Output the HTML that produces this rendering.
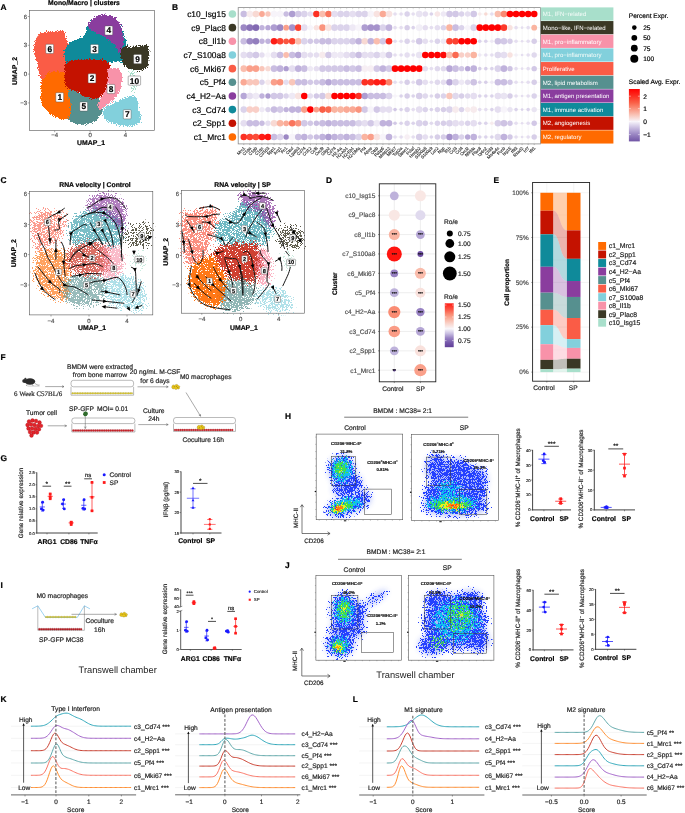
<!DOCTYPE html><html><head><meta charset="utf-8"><style>html,body{margin:0;padding:0;background:#fff;}svg{display:block;font-family:"Liberation Sans",sans-serif;text-rendering:geometricPrecision;will-change:transform;}</style></head><body><svg width="685" height="813" viewBox="0 0 685 813"><rect width="685" height="813" fill="#fff"/><defs><filter id="spk" x="0" y="0" width="685" height="813" filterUnits="userSpaceOnUse"><feTurbulence type="fractalNoise" baseFrequency="1.1" numOctaves="1" seed="4"/><feColorMatrix type="matrix" values="0 0 0 0 1  0 0 0 0 1  0 0 0 0 1  0 0 0 -14 7.6"/></filter><mask id="spm" maskUnits="userSpaceOnUse" x="0" y="0" width="685" height="813"><rect x="0" y="0" width="685" height="813" fill="#fff" filter="url(#spk)"/></mask><filter id="spk2" x="0" y="0" width="685" height="813" filterUnits="userSpaceOnUse"><feTurbulence type="fractalNoise" baseFrequency="1.3" numOctaves="1" seed="9"/><feColorMatrix type="matrix" values="0 0 0 0 1  0 0 0 0 1  0 0 0 0 1  0 0 0 -16 7.2"/></filter><mask id="spm2" maskUnits="userSpaceOnUse" x="0" y="0" width="685" height="813"><rect x="0" y="0" width="685" height="813" fill="#fff" filter="url(#spk2)"/></mask><filter id="soft" x="0" y="0" width="685" height="813" filterUnits="userSpaceOnUse"><feGaussianBlur stdDeviation="1.6"/></filter><filter id="soft2" x="0" y="0" width="685" height="813" filterUnits="userSpaceOnUse"><feGaussianBlur stdDeviation="0.5"/></filter></defs>
<defs><filter id="fb1" x="0" y="0" width="685" height="813" filterUnits="userSpaceOnUse"><feGaussianBlur stdDeviation="1"/></filter><filter id="fb2" x="0" y="0" width="685" height="813" filterUnits="userSpaceOnUse"><feGaussianBlur stdDeviation="2"/></filter><filter id="fb3" x="0" y="0" width="685" height="813" filterUnits="userSpaceOnUse"><feGaussianBlur stdDeviation="3"/></filter></defs>
<text x="0.6" y="10.4" font-size="8.4" font-weight="bold" stroke="#000" stroke-width="0.2">A</text>
<text x="84" y="4.8" font-size="6.8" text-anchor="middle" font-weight="bold" stroke="#000" stroke-width="0.18">Mono/Macro | clusters</text>
<defs><filter id="dt0" x="0" y="0" width="685" height="813" filterUnits="userSpaceOnUse" color-interpolation-filters="sRGB"><feGaussianBlur in="SourceAlpha" stdDeviation="1" result="d"/><feTurbulence type="fractalNoise" baseFrequency="1.2" numOctaves="1" seed="3" result="n"/><feComponentTransfer in="n" result="n2"><feFuncA type="linear" slope="2.75" intercept="-0.874"/></feComponentTransfer><feComposite in="d" in2="n2" operator="arithmetic" k1="0" k2="1.5" k3="-1" k4="-0.05" result="x"/><feComponentTransfer in="x" result="m"><feFuncA type="linear" slope="40" intercept="0"/></feComponentTransfer><feFlood flood-color="#fa5c46"/><feComposite operator="in" in2="m"/></filter></defs>
<g filter="url(#dt0)">
<path d="M35.66,39.69C36.43,37.57 37.19,36.29 38.72,35.1C40.25,33.91 42.38,33.1 44.84,32.55C47.31,32.01 50.5,32.09 53.51,31.84C56.52,31.58 61.03,30.63 62.9,31.02C64.77,31.41 64.43,32.96 64.73,34.19C65.04,35.41 64.31,37.11 64.73,38.37C65.16,39.63 66.69,40.49 67.28,41.73C67.88,42.97 68.39,44.28 68.3,45.81C68.22,47.34 66.91,49.21 66.77,50.91C66.64,52.61 67.66,54.31 67.49,56.01C67.32,57.71 65.79,59.24 65.75,61.11C65.72,62.98 67.2,65.02 67.28,67.23C67.37,69.44 67.79,73.18 66.26,74.37C64.73,75.56 60.82,74.2 58.1,74.37C55.38,74.54 52.15,74.37 49.94,75.39C47.73,76.41 46.03,78.62 44.84,80.49C43.65,82.36 43.4,86.61 42.8,86.61C42.21,86.61 41.87,83.21 41.27,80.49C40.68,77.77 39.91,73.35 39.23,70.29C38.55,67.23 37.91,64.68 37.19,62.13C36.48,59.58 35.46,57.37 34.95,54.99C34.44,52.61 34.01,50.4 34.13,47.85C34.25,45.3 34.9,41.82 35.66,39.69Z" fill="#000"/>
</g>
<defs><filter id="dt1" x="0" y="0" width="685" height="813" filterUnits="userSpaceOnUse" color-interpolation-filters="sRGB"><feGaussianBlur in="SourceAlpha" stdDeviation="1" result="d"/><feTurbulence type="fractalNoise" baseFrequency="1.2" numOctaves="1" seed="10" result="n"/><feComponentTransfer in="n" result="n2"><feFuncA type="linear" slope="2.75" intercept="-0.874"/></feComponentTransfer><feComposite in="d" in2="n2" operator="arithmetic" k1="0" k2="1.5" k3="-1" k4="-0.05" result="x"/><feComponentTransfer in="x" result="m"><feFuncA type="linear" slope="40" intercept="0"/></feComponentTransfer><feFlood flood-color="#ff6a00"/><feComposite operator="in" in2="m"/></filter></defs>
<g filter="url(#dt1)">
<path d="M44.76,77.66C45.86,76.05 46.51,74.04 48.84,73.07C51.16,72.1 55.84,71.68 58.73,71.85C61.62,72.02 64.68,72.44 66.18,74.09C67.67,75.74 67.11,79.11 67.71,81.74C68.3,84.38 69.07,86.84 69.75,89.9C70.43,92.96 71.28,96.7 71.79,100.1C72.3,103.5 72.81,107.58 72.81,110.3C72.81,113.02 72.75,114.96 71.79,116.42C70.82,117.88 69.17,118.8 66.99,119.07C64.82,119.34 61.67,119.09 58.73,118.05C55.79,117.02 51.93,114.91 49.35,112.85C46.76,110.79 44.57,108.35 43.23,105.71C41.88,103.08 41.61,99.85 41.29,97.04C40.96,94.24 41.13,91.26 41.29,88.88C41.44,86.5 41.63,84.63 42.21,82.76C42.78,80.89 43.65,79.28 44.76,77.66Z" fill="#000"/>
</g>
<defs><filter id="dt2" x="0" y="0" width="685" height="813" filterUnits="userSpaceOnUse" color-interpolation-filters="sRGB"><feGaussianBlur in="SourceAlpha" stdDeviation="1" result="d"/><feTurbulence type="fractalNoise" baseFrequency="1.2" numOctaves="1" seed="17" result="n"/><feComponentTransfer in="n" result="n2"><feFuncA type="linear" slope="2.75" intercept="-0.874"/></feComponentTransfer><feComposite in="d" in2="n2" operator="arithmetic" k1="0" k2="1.5" k3="-1" k4="-0.05" result="x"/><feComponentTransfer in="x" result="m"><feFuncA type="linear" slope="40" intercept="0"/></feComponentTransfer><feFlood flood-color="#0f8a9a"/><feComposite operator="in" in2="m"/></filter></defs>
<g filter="url(#dt2)">
<path d="M65.4,49.1C66.49,46.67 69.21,43.27 71.42,41.65C73.63,40.04 76.44,40.46 78.66,39.41C80.89,38.35 83.34,37.28 84.78,35.33C86.23,33.37 86.14,29.97 87.33,27.68C88.52,25.38 89.8,23.26 91.92,21.56C94.05,19.86 97.02,18.16 100.08,17.48C103.14,16.8 107.22,16.46 110.28,17.48C113.34,18.5 116.4,21.22 118.44,23.6C120.48,25.98 121.42,29.04 122.52,31.76C123.63,34.48 124.39,37.03 125.07,39.92C125.75,42.81 126.69,45.87 126.6,49.1C126.52,52.33 126.26,57.17 124.56,59.3C122.86,61.42 119.63,61.42 116.4,61.85C113.17,62.27 108.75,61.93 105.18,61.85C101.61,61.76 98.38,61.42 94.98,61.34C91.58,61.25 88.18,61.17 84.78,61.34C81.38,61.51 77.47,61.93 74.58,62.36C71.69,62.78 69.06,64.91 67.44,63.89C65.83,62.87 65.23,58.7 64.89,56.24C64.55,53.77 64.32,51.53 65.4,49.1Z" fill="#000"/>
</g>
<defs><filter id="dt3" x="0" y="0" width="685" height="813" filterUnits="userSpaceOnUse" color-interpolation-filters="sRGB"><feGaussianBlur in="SourceAlpha" stdDeviation="1" result="d"/><feTurbulence type="fractalNoise" baseFrequency="1.2" numOctaves="1" seed="24" result="n"/><feComponentTransfer in="n" result="n2"><feFuncA type="linear" slope="2.75" intercept="-0.874"/></feComponentTransfer><feComposite in="d" in2="n2" operator="arithmetic" k1="0" k2="1.5" k3="-1" k4="-0.05" result="x"/><feComponentTransfer in="x" result="m"><feFuncA type="linear" slope="40" intercept="0"/></feComponentTransfer><feFlood flood-color="#8a3d9e"/><feComposite operator="in" in2="m"/></filter></defs>
<g filter="url(#dt3)">
<path d="M88.81,24.43C89.31,22.83 90.94,20.9 92.85,19.38C94.75,17.87 97.78,16.05 100.22,15.34C102.66,14.64 105.08,14.75 107.49,15.14C109.9,15.53 112.61,16.15 114.66,17.67C116.72,19.18 118.6,21.92 119.81,24.23C121.02,26.54 121.41,29.08 121.93,31.5C122.46,33.93 122.83,36.33 122.94,38.77C123.06,41.22 123.2,43.74 122.64,46.15C122.09,48.55 120.62,53.22 119.61,53.22C118.6,53.22 118.18,48.34 116.58,46.15C114.98,43.96 112.29,41.86 110.02,40.09C107.74,38.32 105.3,36.89 102.95,35.54C100.59,34.2 98.06,33.1 95.88,32.01C93.69,30.91 90.99,30.24 89.82,28.98C88.64,27.72 88.3,26.03 88.81,24.43Z" fill="#000"/>
</g>
<defs><filter id="dt4" x="0" y="0" width="685" height="813" filterUnits="userSpaceOnUse" color-interpolation-filters="sRGB"><feGaussianBlur in="SourceAlpha" stdDeviation="1" result="d"/><feTurbulence type="fractalNoise" baseFrequency="1.2" numOctaves="1" seed="31" result="n"/><feComponentTransfer in="n" result="n2"><feFuncA type="linear" slope="2.75" intercept="-0.874"/></feComponentTransfer><feComposite in="d" in2="n2" operator="arithmetic" k1="0" k2="1.5" k3="-1" k4="-0.05" result="x"/><feComponentTransfer in="x" result="m"><feFuncA type="linear" slope="40" intercept="0"/></feComponentTransfer><feFlood flood-color="#3a3825"/><feComposite operator="in" in2="m"/></filter></defs>
<g filter="url(#dt4)">
<path d="M120.8,50C121.3,48.5 122.47,47.42 124,47C125.53,46.58 128,47.58 130,47.5C132,47.42 134,46.75 136,46.5C138,46.25 140.08,46.17 142,46C143.92,45.83 146.4,44.5 147.5,45.5C148.6,46.5 148.47,49.58 148.6,52C148.73,54.42 148.57,57.5 148.3,60C148.03,62.5 148.22,65.42 147,67C145.78,68.58 143.17,69.08 141,69.5C138.83,69.92 136.33,69.92 134,69.5C131.67,69.08 128.83,68.25 127,67C125.17,65.75 124,63.83 123,62C122,60.17 121.37,58 121,56C120.63,54 120.3,51.5 120.8,50Z" fill="#000"/>
</g>
<defs><filter id="dt5" x="0" y="0" width="685" height="813" filterUnits="userSpaceOnUse" color-interpolation-filters="sRGB"><feGaussianBlur in="SourceAlpha" stdDeviation="1" result="d"/><feTurbulence type="fractalNoise" baseFrequency="1.2" numOctaves="1" seed="38" result="n"/><feComponentTransfer in="n" result="n2"><feFuncA type="linear" slope="2.75" intercept="-0.874"/></feComponentTransfer><feComposite in="d" in2="n2" operator="arithmetic" k1="0" k2="0.6" k3="-1" k4="-0.05" result="x"/><feComponentTransfer in="x" result="m"><feFuncA type="linear" slope="40" intercept="0"/></feComponentTransfer><feFlood flood-color="#a8dfcb"/><feComposite operator="in" in2="m"/></filter></defs>
<g filter="url(#dt5)">
<path d="M129.5,71C130.17,69.42 132.92,70 134,70.5C135.08,71 135.75,72.08 136,74C136.25,75.92 135.5,79.33 135.5,82C135.5,84.67 136.42,88.25 136,90C135.58,91.75 133.83,92.83 133,92.5C132.17,92.17 131.5,90.08 131,88C130.5,85.92 130.25,82.83 130,80C129.75,77.17 128.83,72.58 129.5,71Z" fill="#000"/>
</g>
<defs><filter id="dt6" x="0" y="0" width="685" height="813" filterUnits="userSpaceOnUse" color-interpolation-filters="sRGB"><feGaussianBlur in="SourceAlpha" stdDeviation="1" result="d"/><feTurbulence type="fractalNoise" baseFrequency="1.2" numOctaves="1" seed="45" result="n"/><feComponentTransfer in="n" result="n2"><feFuncA type="linear" slope="2.75" intercept="-0.874"/></feComponentTransfer><feComposite in="d" in2="n2" operator="arithmetic" k1="0" k2="1.5" k3="-1" k4="-0.05" result="x"/><feComponentTransfer in="x" result="m"><feFuncA type="linear" slope="40" intercept="0"/></feComponentTransfer><feFlood flood-color="#56908f"/><feComposite operator="in" in2="m"/></filter></defs>
<g filter="url(#dt6)">
<path d="M69.73,89.65C71,89.05 73.47,89.22 75.85,90.16C78.23,91.09 80.95,94.02 84.01,95.26C87.07,96.5 91.66,96.84 94.21,97.6C96.76,98.37 98.2,98.45 99.31,99.85C100.41,101.24 100.5,104.1 100.84,105.97C101.18,107.84 101.6,109.37 101.35,111.07C101.09,112.77 100.5,114.47 99.31,116.17C98.12,117.87 96.08,120.01 94.21,121.27C92.34,122.52 90.47,123.29 88.09,123.71C85.71,124.14 82.48,124.05 79.93,123.82C77.38,123.58 74.57,123.05 72.79,122.29C71,121.52 69.47,120.93 69.22,119.23C68.96,117.53 71,115.15 71.26,112.09C71.51,109.03 71.26,103.93 70.75,100.87C70.24,97.81 68.37,95.6 68.2,93.73C68.03,91.86 68.45,90.24 69.73,89.65Z" fill="#000"/>
</g>
<defs><filter id="dt7" x="0" y="0" width="685" height="813" filterUnits="userSpaceOnUse" color-interpolation-filters="sRGB"><feGaussianBlur in="SourceAlpha" stdDeviation="1" result="d"/><feTurbulence type="fractalNoise" baseFrequency="1.2" numOctaves="1" seed="52" result="n"/><feComponentTransfer in="n" result="n2"><feFuncA type="linear" slope="2.75" intercept="-0.874"/></feComponentTransfer><feComposite in="d" in2="n2" operator="arithmetic" k1="0" k2="1.5" k3="-1" k4="-0.05" result="x"/><feComponentTransfer in="x" result="m"><feFuncA type="linear" slope="40" intercept="0"/></feComponentTransfer><feFlood flood-color="#c41200"/><feComposite operator="in" in2="m"/></filter></defs>
<g filter="url(#dt7)">
<path d="M65.55,63.21C67.16,61.17 71.5,61.26 74.73,60.66C77.96,60.07 81.53,59.81 84.93,59.64C88.33,59.47 91.9,59.47 95.13,59.64C98.36,59.81 102.01,59.98 104.31,60.66C106.6,61.34 107.88,61.85 108.9,63.72C109.92,65.59 110.26,69.16 110.43,71.88C110.6,74.6 110.34,77.66 109.92,80.04C109.49,82.42 108.91,83.83 107.88,86.16C106.84,88.49 105.65,92.01 103.69,94.02C101.74,96.02 98.76,97.64 96.15,98.2C93.53,98.76 90.37,98.03 87.99,97.38C85.61,96.74 83.91,95.51 81.87,94.32C79.83,93.13 77.79,91.26 75.75,90.24C73.71,89.22 71.33,89.22 69.63,88.2C67.93,87.18 66.31,86.67 65.55,84.12C64.78,81.57 65.04,76.39 65.04,72.9C65.04,69.42 63.93,65.25 65.55,63.21Z" fill="#000"/>
</g>
<defs><filter id="dt8" x="0" y="0" width="685" height="813" filterUnits="userSpaceOnUse" color-interpolation-filters="sRGB"><feGaussianBlur in="SourceAlpha" stdDeviation="1" result="d"/><feTurbulence type="fractalNoise" baseFrequency="1.2" numOctaves="1" seed="59" result="n"/><feComponentTransfer in="n" result="n2"><feFuncA type="linear" slope="2.75" intercept="-0.874"/></feComponentTransfer><feComposite in="d" in2="n2" operator="arithmetic" k1="0" k2="1.5" k3="-1" k4="-0.05" result="x"/><feComponentTransfer in="x" result="m"><feFuncA type="linear" slope="40" intercept="0"/></feComponentTransfer><feFlood flood-color="#f892a9"/><feComposite operator="in" in2="m"/></filter></defs>
<g filter="url(#dt8)">
<path d="M108.46,69.62C109.39,67.32 112.34,69.11 114.07,69.11C115.8,69.11 117.67,68.46 118.86,69.62C120.05,70.77 120.82,73.92 121.21,76.04C121.6,78.17 121.46,80.04 121.21,82.37C120.95,84.7 120.53,87.72 119.68,90.02C118.83,92.31 117.72,94.1 116.11,96.14C114.49,98.18 112.03,100.47 109.99,102.26C107.95,104.04 105.57,105.49 103.87,106.85C102.17,108.21 100.72,110.84 99.79,110.42C98.85,109.99 97.92,106.51 98.26,104.3C98.6,102.09 100.55,99.54 101.83,97.16C103.1,94.78 104.8,92.4 105.91,90.02C107.01,87.64 108.03,86.28 108.46,82.88C108.88,79.48 107.52,71.91 108.46,69.62Z" fill="#000"/>
</g>
<defs><filter id="dt9" x="0" y="0" width="685" height="813" filterUnits="userSpaceOnUse" color-interpolation-filters="sRGB"><feGaussianBlur in="SourceAlpha" stdDeviation="1" result="d"/><feTurbulence type="fractalNoise" baseFrequency="1.2" numOctaves="1" seed="66" result="n"/><feComponentTransfer in="n" result="n2"><feFuncA type="linear" slope="2.75" intercept="-0.874"/></feComponentTransfer><feComposite in="d" in2="n2" operator="arithmetic" k1="0" k2="1.2" k3="-1" k4="-0.05" result="x"/><feComponentTransfer in="x" result="m"><feFuncA type="linear" slope="40" intercept="0"/></feComponentTransfer><feFlood flood-color="#82d0dc"/><feComposite operator="in" in2="m"/></filter></defs>
<g filter="url(#dt9)">
<path d="M103.8,108.97C104.56,107.04 105.87,106.53 107.84,105.44C109.81,104.35 112.96,103.59 115.62,102.41C118.28,101.23 121.39,99.38 123.8,98.37C126.21,97.36 128.18,96.69 130.06,96.35C131.95,96.01 133.85,95.61 135.11,96.35C136.37,97.09 137.05,98.69 137.64,100.79C138.23,102.9 138.09,106.23 138.65,108.97C139.2,111.72 140.89,114.83 140.97,117.26C141.05,119.68 140.63,122.12 139.15,123.52C137.67,124.92 134.29,125.27 132.08,125.64C129.88,126.01 128.61,125.91 125.92,125.74C123.23,125.57 118.93,125.32 115.92,124.63C112.91,123.94 109.95,122.86 107.84,121.6C105.74,120.34 103.97,119.16 103.3,117.05C102.62,114.95 103.04,110.91 103.8,108.97Z" fill="#000"/>
</g>
<rect x="29.4" y="10.5" width="125" height="120.1" fill="none" stroke="#555" stroke-width="0.6"/>
<line x1="27.8" y1="16.5" x2="29.4" y2="16.5" stroke="#555" stroke-width="0.5"/>
<text x="27" y="18.6" font-size="6" text-anchor="end" fill="#4d4d4d" stroke="#4d4d4d" stroke-width="0.17">6</text>
<line x1="27.8" y1="45.3" x2="29.4" y2="45.3" stroke="#555" stroke-width="0.5"/>
<text x="27" y="47.4" font-size="6" text-anchor="end" fill="#4d4d4d" stroke="#4d4d4d" stroke-width="0.17">3</text>
<line x1="27.8" y1="74.1" x2="29.4" y2="74.1" stroke="#555" stroke-width="0.5"/>
<text x="27" y="76.2" font-size="6" text-anchor="end" fill="#4d4d4d" stroke="#4d4d4d" stroke-width="0.17">0</text>
<line x1="27.8" y1="102.9" x2="29.4" y2="102.9" stroke="#555" stroke-width="0.5"/>
<text x="27" y="105" font-size="6" text-anchor="end" fill="#4d4d4d" stroke="#4d4d4d" stroke-width="0.17">−3</text>
<line x1="54.7" y1="130.6" x2="54.7" y2="132.2" stroke="#555" stroke-width="0.5"/>
<text x="54.7" y="137.2" font-size="6" text-anchor="middle" fill="#4d4d4d" stroke="#4d4d4d" stroke-width="0.17">−4</text>
<line x1="90.1" y1="130.6" x2="90.1" y2="132.2" stroke="#555" stroke-width="0.5"/>
<text x="90.1" y="137.2" font-size="6" text-anchor="middle" fill="#4d4d4d" stroke="#4d4d4d" stroke-width="0.17">0</text>
<line x1="125.5" y1="130.6" x2="125.5" y2="132.2" stroke="#555" stroke-width="0.5"/>
<text x="125.5" y="137.2" font-size="6" text-anchor="middle" fill="#4d4d4d" stroke="#4d4d4d" stroke-width="0.17">4</text>
<text x="91" y="145.3" font-size="6.9" text-anchor="middle" font-weight="bold" stroke="#000" stroke-width="0.18">UMAP_1</text>
<text x="16.6" y="71" font-size="6.9" text-anchor="middle" font-weight="bold" stroke="#000" stroke-width="0.18" transform="rotate(-90 16.6 71)">UMAP_2</text>
<rect x="45.79" y="44.31" width="7.81" height="9.19" fill="#fff" stroke="#555" stroke-width="0.45" rx="0.8"/>
<text x="49.7" y="51.89" font-size="8.3" text-anchor="middle" font-weight="bold" stroke="#000" stroke-width="0.2">6</text>
<rect x="104.89" y="25.91" width="7.81" height="9.19" fill="#fff" stroke="#555" stroke-width="0.45" rx="0.8"/>
<text x="108.8" y="33.49" font-size="8.3" text-anchor="middle" font-weight="bold" stroke="#000" stroke-width="0.2">4</text>
<rect x="90.59" y="44.41" width="7.81" height="9.19" fill="#fff" stroke="#555" stroke-width="0.45" rx="0.8"/>
<text x="94.5" y="51.99" font-size="8.3" text-anchor="middle" font-weight="bold" stroke="#000" stroke-width="0.2">3</text>
<rect x="133.69" y="54.51" width="7.81" height="9.19" fill="#fff" stroke="#555" stroke-width="0.45" rx="0.8"/>
<text x="137.6" y="62.09" font-size="8.3" text-anchor="middle" font-weight="bold" stroke="#000" stroke-width="0.2">9</text>
<rect x="128.19" y="76.01" width="12.43" height="9.19" fill="#fff" stroke="#555" stroke-width="0.45" rx="0.8"/>
<text x="134.4" y="83.59" font-size="8.3" text-anchor="middle" font-weight="bold" stroke="#000" stroke-width="0.2">10</text>
<rect x="88.09" y="73.81" width="7.81" height="9.19" fill="#fff" stroke="#555" stroke-width="0.45" rx="0.8"/>
<text x="92" y="81.39" font-size="8.3" text-anchor="middle" font-weight="bold" stroke="#000" stroke-width="0.2">2</text>
<rect x="107.09" y="84.41" width="7.81" height="9.19" fill="#fff" stroke="#555" stroke-width="0.45" rx="0.8"/>
<text x="111" y="91.99" font-size="8.3" text-anchor="middle" font-weight="bold" stroke="#000" stroke-width="0.2">8</text>
<rect x="55.79" y="92.71" width="7.81" height="9.19" fill="#fff" stroke="#555" stroke-width="0.45" rx="0.8"/>
<text x="59.7" y="100.29" font-size="8.3" text-anchor="middle" font-weight="bold" stroke="#000" stroke-width="0.2">1</text>
<rect x="79.79" y="101.91" width="7.81" height="9.19" fill="#fff" stroke="#555" stroke-width="0.45" rx="0.8"/>
<text x="83.7" y="109.49" font-size="8.3" text-anchor="middle" font-weight="bold" stroke="#000" stroke-width="0.2">5</text>
<rect x="123.29" y="109.71" width="7.81" height="9.19" fill="#fff" stroke="#555" stroke-width="0.45" rx="0.8"/>
<text x="127.2" y="117.29" font-size="8.3" text-anchor="middle" font-weight="bold" stroke="#000" stroke-width="0.2">7</text>
<text x="172" y="10.3" font-size="8.4" font-weight="bold" stroke="#000" stroke-width="0.2">B</text>
<line x1="243.8" y1="7.6" x2="243.8" y2="143.9" stroke="#ececec" stroke-width="0.45"/>
<line x1="249.85" y1="7.6" x2="249.85" y2="143.9" stroke="#ececec" stroke-width="0.45"/>
<line x1="255.9" y1="7.6" x2="255.9" y2="143.9" stroke="#ececec" stroke-width="0.45"/>
<line x1="261.95" y1="7.6" x2="261.95" y2="143.9" stroke="#ececec" stroke-width="0.45"/>
<line x1="268" y1="7.6" x2="268" y2="143.9" stroke="#ececec" stroke-width="0.45"/>
<line x1="274.05" y1="7.6" x2="274.05" y2="143.9" stroke="#ececec" stroke-width="0.45"/>
<line x1="280.1" y1="7.6" x2="280.1" y2="143.9" stroke="#ececec" stroke-width="0.45"/>
<line x1="286.15" y1="7.6" x2="286.15" y2="143.9" stroke="#ececec" stroke-width="0.45"/>
<line x1="292.2" y1="7.6" x2="292.2" y2="143.9" stroke="#ececec" stroke-width="0.45"/>
<line x1="298.25" y1="7.6" x2="298.25" y2="143.9" stroke="#ececec" stroke-width="0.45"/>
<line x1="304.3" y1="7.6" x2="304.3" y2="143.9" stroke="#ececec" stroke-width="0.45"/>
<line x1="310.35" y1="7.6" x2="310.35" y2="143.9" stroke="#ececec" stroke-width="0.45"/>
<line x1="316.4" y1="7.6" x2="316.4" y2="143.9" stroke="#ececec" stroke-width="0.45"/>
<line x1="322.45" y1="7.6" x2="322.45" y2="143.9" stroke="#ececec" stroke-width="0.45"/>
<line x1="328.5" y1="7.6" x2="328.5" y2="143.9" stroke="#ececec" stroke-width="0.45"/>
<line x1="334.55" y1="7.6" x2="334.55" y2="143.9" stroke="#ececec" stroke-width="0.45"/>
<line x1="340.6" y1="7.6" x2="340.6" y2="143.9" stroke="#ececec" stroke-width="0.45"/>
<line x1="346.65" y1="7.6" x2="346.65" y2="143.9" stroke="#ececec" stroke-width="0.45"/>
<line x1="352.7" y1="7.6" x2="352.7" y2="143.9" stroke="#ececec" stroke-width="0.45"/>
<line x1="358.75" y1="7.6" x2="358.75" y2="143.9" stroke="#ececec" stroke-width="0.45"/>
<line x1="364.8" y1="7.6" x2="364.8" y2="143.9" stroke="#ececec" stroke-width="0.45"/>
<line x1="370.85" y1="7.6" x2="370.85" y2="143.9" stroke="#ececec" stroke-width="0.45"/>
<line x1="376.9" y1="7.6" x2="376.9" y2="143.9" stroke="#ececec" stroke-width="0.45"/>
<line x1="382.95" y1="7.6" x2="382.95" y2="143.9" stroke="#ececec" stroke-width="0.45"/>
<line x1="389" y1="7.6" x2="389" y2="143.9" stroke="#ececec" stroke-width="0.45"/>
<line x1="395.05" y1="7.6" x2="395.05" y2="143.9" stroke="#ececec" stroke-width="0.45"/>
<line x1="401.1" y1="7.6" x2="401.1" y2="143.9" stroke="#ececec" stroke-width="0.45"/>
<line x1="407.15" y1="7.6" x2="407.15" y2="143.9" stroke="#ececec" stroke-width="0.45"/>
<line x1="413.2" y1="7.6" x2="413.2" y2="143.9" stroke="#ececec" stroke-width="0.45"/>
<line x1="419.25" y1="7.6" x2="419.25" y2="143.9" stroke="#ececec" stroke-width="0.45"/>
<line x1="425.3" y1="7.6" x2="425.3" y2="143.9" stroke="#ececec" stroke-width="0.45"/>
<line x1="431.35" y1="7.6" x2="431.35" y2="143.9" stroke="#ececec" stroke-width="0.45"/>
<line x1="437.4" y1="7.6" x2="437.4" y2="143.9" stroke="#ececec" stroke-width="0.45"/>
<line x1="443.45" y1="7.6" x2="443.45" y2="143.9" stroke="#ececec" stroke-width="0.45"/>
<line x1="449.5" y1="7.6" x2="449.5" y2="143.9" stroke="#ececec" stroke-width="0.45"/>
<line x1="455.55" y1="7.6" x2="455.55" y2="143.9" stroke="#ececec" stroke-width="0.45"/>
<line x1="461.6" y1="7.6" x2="461.6" y2="143.9" stroke="#ececec" stroke-width="0.45"/>
<line x1="467.65" y1="7.6" x2="467.65" y2="143.9" stroke="#ececec" stroke-width="0.45"/>
<line x1="473.7" y1="7.6" x2="473.7" y2="143.9" stroke="#ececec" stroke-width="0.45"/>
<line x1="479.75" y1="7.6" x2="479.75" y2="143.9" stroke="#ececec" stroke-width="0.45"/>
<line x1="485.8" y1="7.6" x2="485.8" y2="143.9" stroke="#ececec" stroke-width="0.45"/>
<line x1="491.85" y1="7.6" x2="491.85" y2="143.9" stroke="#ececec" stroke-width="0.45"/>
<line x1="497.9" y1="7.6" x2="497.9" y2="143.9" stroke="#ececec" stroke-width="0.45"/>
<line x1="503.95" y1="7.6" x2="503.95" y2="143.9" stroke="#ececec" stroke-width="0.45"/>
<line x1="510" y1="7.6" x2="510" y2="143.9" stroke="#ececec" stroke-width="0.45"/>
<line x1="516.05" y1="7.6" x2="516.05" y2="143.9" stroke="#ececec" stroke-width="0.45"/>
<line x1="522.1" y1="7.6" x2="522.1" y2="143.9" stroke="#ececec" stroke-width="0.45"/>
<line x1="528.15" y1="7.6" x2="528.15" y2="143.9" stroke="#ececec" stroke-width="0.45"/>
<line x1="534.2" y1="7.6" x2="534.2" y2="143.9" stroke="#ececec" stroke-width="0.45"/>
<line x1="238.2" y1="14" x2="540.4" y2="14" stroke="#ececec" stroke-width="0.45"/>
<line x1="238.2" y1="27.66" x2="540.4" y2="27.66" stroke="#ececec" stroke-width="0.45"/>
<line x1="238.2" y1="41.32" x2="540.4" y2="41.32" stroke="#ececec" stroke-width="0.45"/>
<line x1="238.2" y1="54.98" x2="540.4" y2="54.98" stroke="#ececec" stroke-width="0.45"/>
<line x1="238.2" y1="68.64" x2="540.4" y2="68.64" stroke="#ececec" stroke-width="0.45"/>
<line x1="238.2" y1="82.3" x2="540.4" y2="82.3" stroke="#ececec" stroke-width="0.45"/>
<line x1="238.2" y1="95.96" x2="540.4" y2="95.96" stroke="#ececec" stroke-width="0.45"/>
<line x1="238.2" y1="109.62" x2="540.4" y2="109.62" stroke="#ececec" stroke-width="0.45"/>
<line x1="238.2" y1="123.28" x2="540.4" y2="123.28" stroke="#ececec" stroke-width="0.45"/>
<line x1="238.2" y1="136.94" x2="540.4" y2="136.94" stroke="#ececec" stroke-width="0.45"/>
<circle cx="243.8" cy="14" r="3.3" fill="#c9bde1"/>
<circle cx="249.85" cy="14" r="3.3" fill="#f7ebed"/>
<circle cx="255.9" cy="14" r="3.3" fill="#f8d9d3"/>
<circle cx="261.95" cy="14" r="2.9" fill="#faa995"/>
<circle cx="268" cy="14" r="2.7" fill="#f9c6ba"/>
<circle cx="274.05" cy="14" r="3.3" fill="#f7f4fa"/>
<circle cx="280.1" cy="14" r="3.3" fill="#f7f4fa"/>
<circle cx="286.15" cy="14" r="2.7" fill="#c9bde1"/>
<circle cx="292.2" cy="14" r="3.3" fill="#ae9dd1"/>
<circle cx="298.25" cy="14" r="3.3" fill="#d2c8e6"/>
<circle cx="304.3" cy="14" r="3.3" fill="#dbd3eb"/>
<circle cx="310.35" cy="14" r="2.7" fill="#e5def0"/>
<circle cx="316.4" cy="14" r="3.3" fill="#fc3023"/>
<circle cx="322.45" cy="14" r="3.3" fill="#fabdad"/>
<circle cx="328.5" cy="14" r="3.3" fill="#fa745c"/>
<circle cx="334.55" cy="14" r="3.3" fill="#e5def0"/>
<circle cx="340.6" cy="14" r="3.3" fill="#dbd3eb"/>
<circle cx="346.65" cy="14" r="3.3" fill="#dbd3eb"/>
<circle cx="352.7" cy="14" r="3.3" fill="#e5def0"/>
<circle cx="358.75" cy="14" r="3.3" fill="#dbd3eb"/>
<circle cx="364.8" cy="14" r="3.3" fill="#dbd3eb"/>
<circle cx="370.85" cy="14" r="3.3" fill="#f7f4fa"/>
<circle cx="376.9" cy="14" r="3.3" fill="#f8e2e0"/>
<circle cx="382.95" cy="14" r="3.3" fill="#faa995"/>
<circle cx="389" cy="14" r="3.3" fill="#f8e2e0"/>
<circle cx="395.05" cy="14" r="1.8" fill="#e5def0"/>
<circle cx="401.1" cy="14" r="1.8" fill="#e5def0"/>
<circle cx="407.15" cy="14" r="2.7" fill="#dbd3eb"/>
<circle cx="413.2" cy="14" r="1.8" fill="#e5def0"/>
<circle cx="419.25" cy="14" r="3.3" fill="#e9e4f2"/>
<circle cx="425.3" cy="14" r="2.7" fill="#e5def0"/>
<circle cx="431.35" cy="14" r="1.8" fill="#dbd3eb"/>
<circle cx="437.4" cy="14" r="2.7" fill="#f8e6e7"/>
<circle cx="443.45" cy="14" r="2.7" fill="#eee9f5"/>
<circle cx="449.5" cy="14" r="3.3" fill="#d2c8e6"/>
<circle cx="455.55" cy="14" r="3.3" fill="#d2c8e6"/>
<circle cx="461.6" cy="14" r="2.7" fill="#dbd3eb"/>
<circle cx="467.65" cy="14" r="2.7" fill="#e5def0"/>
<circle cx="473.7" cy="14" r="3.3" fill="#d2c8e6"/>
<circle cx="479.75" cy="14" r="1.8" fill="#f7ebed"/>
<circle cx="485.8" cy="14" r="1.8" fill="#f8d9d3"/>
<circle cx="491.85" cy="14" r="1.8" fill="#e5def0"/>
<circle cx="497.9" cy="14" r="3.3" fill="#fabdad"/>
<circle cx="503.95" cy="14" r="3.3" fill="#fa8a73"/>
<circle cx="510" cy="14" r="3.3" fill="#ff0000"/>
<circle cx="516.05" cy="14" r="3.3" fill="#ff0000"/>
<circle cx="522.1" cy="14" r="3.3" fill="#ff0000"/>
<circle cx="528.15" cy="14" r="3.3" fill="#ff0000"/>
<circle cx="534.2" cy="14" r="3.3" fill="#ff0000"/>
<circle cx="243.8" cy="27.66" r="3.3" fill="#9c88c4"/>
<circle cx="249.85" cy="27.66" r="3.3" fill="#8a73b8"/>
<circle cx="255.9" cy="27.66" r="3.3" fill="#8269b2"/>
<circle cx="261.95" cy="27.66" r="2.7" fill="#c0b2dc"/>
<circle cx="268" cy="27.66" r="2.7" fill="#b7a7d7"/>
<circle cx="274.05" cy="27.66" r="3.3" fill="#ae9dd1"/>
<circle cx="280.1" cy="27.66" r="3.3" fill="#9c88c4"/>
<circle cx="286.15" cy="27.66" r="2.9" fill="#fa9f8a"/>
<circle cx="292.2" cy="27.66" r="3.3" fill="#a592cb"/>
<circle cx="298.25" cy="27.66" r="3.3" fill="#fc4231"/>
<circle cx="304.3" cy="27.66" r="3.3" fill="#e5def0"/>
<circle cx="310.35" cy="27.66" r="2.7" fill="#f7f4fa"/>
<circle cx="316.4" cy="27.66" r="2.7" fill="#f8e2e0"/>
<circle cx="322.45" cy="27.66" r="3.3" fill="#fa947e"/>
<circle cx="328.5" cy="27.66" r="3.3" fill="#f8e2e0"/>
<circle cx="334.55" cy="27.66" r="3.3" fill="#dbd3eb"/>
<circle cx="340.6" cy="27.66" r="3.3" fill="#dbd3eb"/>
<circle cx="346.65" cy="27.66" r="3.3" fill="#dbd3eb"/>
<circle cx="352.7" cy="27.66" r="3.3" fill="#eee9f5"/>
<circle cx="358.75" cy="27.66" r="3.3" fill="#f7f4fa"/>
<circle cx="364.8" cy="27.66" r="3.3" fill="#ae9dd1"/>
<circle cx="370.85" cy="27.66" r="3.3" fill="#a592cb"/>
<circle cx="376.9" cy="27.66" r="3.3" fill="#a592cb"/>
<circle cx="382.95" cy="27.66" r="3.3" fill="#dbd3eb"/>
<circle cx="389" cy="27.66" r="3.3" fill="#c0b2dc"/>
<circle cx="395.05" cy="27.66" r="1.8" fill="#e5def0"/>
<circle cx="401.1" cy="27.66" r="1.8" fill="#e5def0"/>
<circle cx="407.15" cy="27.66" r="2.7" fill="#d7cee8"/>
<circle cx="413.2" cy="27.66" r="1.8" fill="#dbd3eb"/>
<circle cx="419.25" cy="27.66" r="3.3" fill="#f2eff7"/>
<circle cx="425.3" cy="27.66" r="2.7" fill="#e5def0"/>
<circle cx="431.35" cy="27.66" r="1.8" fill="#e5def0"/>
<circle cx="437.4" cy="27.66" r="2.7" fill="#e5def0"/>
<circle cx="443.45" cy="27.66" r="2.7" fill="#dbd3eb"/>
<circle cx="449.5" cy="27.66" r="3.3" fill="#fab4a0"/>
<circle cx="455.55" cy="27.66" r="3.3" fill="#c9bde1"/>
<circle cx="461.6" cy="27.66" r="2.7" fill="#dbd3eb"/>
<circle cx="467.65" cy="27.66" r="2.7" fill="#f7f4fa"/>
<circle cx="473.7" cy="27.66" r="3.3" fill="#dbd3eb"/>
<circle cx="479.75" cy="27.66" r="3.3" fill="#ff0000"/>
<circle cx="485.8" cy="27.66" r="3.3" fill="#ff0000"/>
<circle cx="491.85" cy="27.66" r="3.3" fill="#ff0000"/>
<circle cx="497.9" cy="27.66" r="3.3" fill="#ff0000"/>
<circle cx="503.95" cy="27.66" r="3.3" fill="#fc392a"/>
<circle cx="510" cy="27.66" r="2.7" fill="#f8e2e0"/>
<circle cx="516.05" cy="27.66" r="1.8" fill="#e5def0"/>
<circle cx="522.1" cy="27.66" r="1.3" fill="#e5def0"/>
<circle cx="528.15" cy="27.66" r="1.8" fill="#e5def0"/>
<circle cx="534.2" cy="27.66" r="2.9" fill="#fab4a0"/>
<circle cx="243.8" cy="41.32" r="3.3" fill="#c9bde1"/>
<circle cx="249.85" cy="41.32" r="3.3" fill="#9c88c4"/>
<circle cx="255.9" cy="41.32" r="3.3" fill="#937ebe"/>
<circle cx="261.95" cy="41.32" r="2.7" fill="#c0b2dc"/>
<circle cx="268" cy="41.32" r="2.7" fill="#c0b2dc"/>
<circle cx="274.05" cy="41.32" r="3.3" fill="#fe1c15"/>
<circle cx="280.1" cy="41.32" r="3.3" fill="#fc4231"/>
<circle cx="286.15" cy="41.32" r="2.9" fill="#fa553f"/>
<circle cx="292.2" cy="41.32" r="3.3" fill="#fc4231"/>
<circle cx="298.25" cy="41.32" r="3.3" fill="#fabdad"/>
<circle cx="304.3" cy="41.32" r="3.3" fill="#dbd3eb"/>
<circle cx="310.35" cy="41.32" r="2.7" fill="#d2c8e6"/>
<circle cx="316.4" cy="41.32" r="2.7" fill="#d2c8e6"/>
<circle cx="322.45" cy="41.32" r="3.3" fill="#c9bde1"/>
<circle cx="328.5" cy="41.32" r="3.3" fill="#c9bde1"/>
<circle cx="334.55" cy="41.32" r="3.3" fill="#dbd3eb"/>
<circle cx="340.6" cy="41.32" r="3.3" fill="#dbd3eb"/>
<circle cx="346.65" cy="41.32" r="3.3" fill="#dbd3eb"/>
<circle cx="352.7" cy="41.32" r="3.3" fill="#d2c8e6"/>
<circle cx="358.75" cy="41.32" r="3.3" fill="#c0b2dc"/>
<circle cx="364.8" cy="41.32" r="3.3" fill="#f8d9d3"/>
<circle cx="370.85" cy="41.32" r="3.3" fill="#c0b2dc"/>
<circle cx="376.9" cy="41.32" r="3.3" fill="#fabdad"/>
<circle cx="382.95" cy="41.32" r="3.3" fill="#d2c8e6"/>
<circle cx="389" cy="41.32" r="3.3" fill="#fc3023"/>
<circle cx="395.05" cy="41.32" r="1.8" fill="#e5def0"/>
<circle cx="401.1" cy="41.32" r="1.8" fill="#e5def0"/>
<circle cx="407.15" cy="41.32" r="2.7" fill="#dbd3eb"/>
<circle cx="413.2" cy="41.32" r="1.8" fill="#e5def0"/>
<circle cx="419.25" cy="41.32" r="3.3" fill="#d2c8e6"/>
<circle cx="425.3" cy="41.32" r="2.7" fill="#e5def0"/>
<circle cx="431.35" cy="41.32" r="1.8" fill="#e5def0"/>
<circle cx="437.4" cy="41.32" r="2.7" fill="#dbd3eb"/>
<circle cx="443.45" cy="41.32" r="2.7" fill="#eee9f5"/>
<circle cx="449.5" cy="41.32" r="3.3" fill="#fc4231"/>
<circle cx="455.55" cy="41.32" r="3.3" fill="#fc4231"/>
<circle cx="461.6" cy="41.32" r="3.3" fill="#ff0000"/>
<circle cx="467.65" cy="41.32" r="3.3" fill="#ff0000"/>
<circle cx="473.7" cy="41.32" r="3.3" fill="#ff0000"/>
<circle cx="479.75" cy="41.32" r="1.8" fill="#dbd3eb"/>
<circle cx="485.8" cy="41.32" r="1.8" fill="#dbd3eb"/>
<circle cx="491.85" cy="41.32" r="1.8" fill="#eee9f5"/>
<circle cx="497.9" cy="41.32" r="3.3" fill="#cec3e3"/>
<circle cx="503.95" cy="41.32" r="3.3" fill="#d2c8e6"/>
<circle cx="510" cy="41.32" r="2.7" fill="#d7cee8"/>
<circle cx="516.05" cy="41.32" r="1.8" fill="#e5def0"/>
<circle cx="522.1" cy="41.32" r="1.3" fill="#e5def0"/>
<circle cx="528.15" cy="41.32" r="1.8" fill="#e5def0"/>
<circle cx="534.2" cy="41.32" r="2.7" fill="#d7cee8"/>
<circle cx="243.8" cy="54.98" r="3.3" fill="#e5def0"/>
<circle cx="249.85" cy="54.98" r="3.3" fill="#dbd3eb"/>
<circle cx="255.9" cy="54.98" r="3.3" fill="#d2c8e6"/>
<circle cx="261.95" cy="54.98" r="2.7" fill="#e5def0"/>
<circle cx="268" cy="54.98" r="2.7" fill="#f7f4fa"/>
<circle cx="274.05" cy="54.98" r="3.3" fill="#e5def0"/>
<circle cx="280.1" cy="54.98" r="3.3" fill="#c9bde1"/>
<circle cx="286.15" cy="54.98" r="2.9" fill="#fabdad"/>
<circle cx="292.2" cy="54.98" r="3.3" fill="#c9bde1"/>
<circle cx="298.25" cy="54.98" r="3.3" fill="#b7a7d7"/>
<circle cx="304.3" cy="54.98" r="3.3" fill="#e5def0"/>
<circle cx="310.35" cy="54.98" r="2.7" fill="#e5def0"/>
<circle cx="316.4" cy="54.98" r="2.7" fill="#e5def0"/>
<circle cx="322.45" cy="54.98" r="3.3" fill="#f7ebed"/>
<circle cx="328.5" cy="54.98" r="3.3" fill="#d2c8e6"/>
<circle cx="334.55" cy="54.98" r="3.3" fill="#eee9f5"/>
<circle cx="340.6" cy="54.98" r="3.3" fill="#eee9f5"/>
<circle cx="346.65" cy="54.98" r="3.3" fill="#e5def0"/>
<circle cx="352.7" cy="54.98" r="3.3" fill="#dbd3eb"/>
<circle cx="358.75" cy="54.98" r="3.3" fill="#c9bde1"/>
<circle cx="364.8" cy="54.98" r="3.3" fill="#e5def0"/>
<circle cx="370.85" cy="54.98" r="3.3" fill="#e5def0"/>
<circle cx="376.9" cy="54.98" r="3.3" fill="#dbd3eb"/>
<circle cx="382.95" cy="54.98" r="3.3" fill="#eee9f5"/>
<circle cx="389" cy="54.98" r="3.3" fill="#d2c8e6"/>
<circle cx="395.05" cy="54.98" r="1.8" fill="#e5def0"/>
<circle cx="401.1" cy="54.98" r="1.8" fill="#e5def0"/>
<circle cx="407.15" cy="54.98" r="2.7" fill="#e5def0"/>
<circle cx="413.2" cy="54.98" r="1.8" fill="#e5def0"/>
<circle cx="419.25" cy="54.98" r="3.3" fill="#e9e4f2"/>
<circle cx="425.3" cy="54.98" r="3.3" fill="#ff0000"/>
<circle cx="431.35" cy="54.98" r="3.3" fill="#ff0000"/>
<circle cx="437.4" cy="54.98" r="3.3" fill="#ff0000"/>
<circle cx="443.45" cy="54.98" r="3.3" fill="#fe0a07"/>
<circle cx="449.5" cy="54.98" r="3.3" fill="#fabdad"/>
<circle cx="455.55" cy="54.98" r="3.3" fill="#fa6a51"/>
<circle cx="461.6" cy="54.98" r="2.7" fill="#f9cfc7"/>
<circle cx="467.65" cy="54.98" r="2.7" fill="#f9cfc7"/>
<circle cx="473.7" cy="54.98" r="3.3" fill="#fab4a0"/>
<circle cx="479.75" cy="54.98" r="1.8" fill="#eee9f5"/>
<circle cx="485.8" cy="54.98" r="1.8" fill="#e5def0"/>
<circle cx="491.85" cy="54.98" r="1.8" fill="#e5def0"/>
<circle cx="497.9" cy="54.98" r="3.3" fill="#e0d9ed"/>
<circle cx="503.95" cy="54.98" r="3.3" fill="#e5def0"/>
<circle cx="510" cy="54.98" r="2.7" fill="#f8e2e0"/>
<circle cx="516.05" cy="54.98" r="1.8" fill="#f2eff7"/>
<circle cx="522.1" cy="54.98" r="1.3" fill="#e5def0"/>
<circle cx="528.15" cy="54.98" r="1.8" fill="#e5def0"/>
<circle cx="534.2" cy="54.98" r="2.7" fill="#e0d9ed"/>
<circle cx="243.8" cy="68.64" r="3.3" fill="#fabdad"/>
<circle cx="249.85" cy="68.64" r="3.3" fill="#fa9f8a"/>
<circle cx="255.9" cy="68.64" r="3.3" fill="#fa9f8a"/>
<circle cx="261.95" cy="68.64" r="2.7" fill="#f9c6ba"/>
<circle cx="268" cy="68.64" r="2.7" fill="#f8d9d3"/>
<circle cx="274.05" cy="68.64" r="3.3" fill="#c9bde1"/>
<circle cx="280.1" cy="68.64" r="3.3" fill="#c0b2dc"/>
<circle cx="286.15" cy="68.64" r="2.7" fill="#ae9dd1"/>
<circle cx="292.2" cy="68.64" r="3.3" fill="#e5def0"/>
<circle cx="298.25" cy="68.64" r="3.3" fill="#c0b2dc"/>
<circle cx="304.3" cy="68.64" r="3.3" fill="#c9bde1"/>
<circle cx="310.35" cy="68.64" r="2.7" fill="#eee9f5"/>
<circle cx="316.4" cy="68.64" r="2.7" fill="#e5def0"/>
<circle cx="322.45" cy="68.64" r="3.3" fill="#d2c8e6"/>
<circle cx="328.5" cy="68.64" r="3.3" fill="#d2c8e6"/>
<circle cx="334.55" cy="68.64" r="3.3" fill="#d2c8e6"/>
<circle cx="340.6" cy="68.64" r="3.3" fill="#d2c8e6"/>
<circle cx="346.65" cy="68.64" r="3.3" fill="#c9bde1"/>
<circle cx="352.7" cy="68.64" r="3.3" fill="#d2c8e6"/>
<circle cx="358.75" cy="68.64" r="3.3" fill="#c9bde1"/>
<circle cx="364.8" cy="68.64" r="3.3" fill="#f7eff4"/>
<circle cx="370.85" cy="68.64" r="3.3" fill="#f7eff4"/>
<circle cx="376.9" cy="68.64" r="3.3" fill="#d2c8e6"/>
<circle cx="382.95" cy="68.64" r="3.3" fill="#c0b2dc"/>
<circle cx="389" cy="68.64" r="3.3" fill="#d2c8e6"/>
<circle cx="395.05" cy="68.64" r="3.3" fill="#ff0000"/>
<circle cx="401.1" cy="68.64" r="3.3" fill="#ff0000"/>
<circle cx="407.15" cy="68.64" r="3.3" fill="#ff0000"/>
<circle cx="413.2" cy="68.64" r="3.3" fill="#ff0000"/>
<circle cx="419.25" cy="68.64" r="3.3" fill="#ff0000"/>
<circle cx="425.3" cy="68.64" r="2.7" fill="#e5def0"/>
<circle cx="431.35" cy="68.64" r="1.8" fill="#e5def0"/>
<circle cx="437.4" cy="68.64" r="2.7" fill="#e0d9ed"/>
<circle cx="443.45" cy="68.64" r="2.7" fill="#e0d9ed"/>
<circle cx="449.5" cy="68.64" r="3.3" fill="#b7a7d7"/>
<circle cx="455.55" cy="68.64" r="3.3" fill="#c9bde1"/>
<circle cx="461.6" cy="68.64" r="2.7" fill="#d2c8e6"/>
<circle cx="467.65" cy="68.64" r="2.7" fill="#b7a7d7"/>
<circle cx="473.7" cy="68.64" r="3.3" fill="#c0b2dc"/>
<circle cx="479.75" cy="68.64" r="1.8" fill="#d7cee8"/>
<circle cx="485.8" cy="68.64" r="1.8" fill="#d7cee8"/>
<circle cx="491.85" cy="68.64" r="1.8" fill="#dbd3eb"/>
<circle cx="497.9" cy="68.64" r="3.3" fill="#dbd3eb"/>
<circle cx="503.95" cy="68.64" r="3.3" fill="#c0b2dc"/>
<circle cx="510" cy="68.64" r="2.7" fill="#cec3e3"/>
<circle cx="516.05" cy="68.64" r="1.8" fill="#e5def0"/>
<circle cx="522.1" cy="68.64" r="1.3" fill="#e5def0"/>
<circle cx="528.15" cy="68.64" r="1.8" fill="#e5def0"/>
<circle cx="534.2" cy="68.64" r="2.7" fill="#d2c8e6"/>
<circle cx="243.8" cy="82.3" r="3.3" fill="#faa995"/>
<circle cx="249.85" cy="82.3" r="3.3" fill="#f9c6ba"/>
<circle cx="255.9" cy="82.3" r="3.3" fill="#f9c6ba"/>
<circle cx="261.95" cy="82.3" r="2.7" fill="#dbd3eb"/>
<circle cx="268" cy="82.3" r="2.7" fill="#f7ebed"/>
<circle cx="274.05" cy="82.3" r="3.3" fill="#fa9f8a"/>
<circle cx="280.1" cy="82.3" r="3.3" fill="#fa947e"/>
<circle cx="286.15" cy="82.3" r="2.7" fill="#e5def0"/>
<circle cx="292.2" cy="82.3" r="3.3" fill="#f9c6ba"/>
<circle cx="298.25" cy="82.3" r="3.3" fill="#c9bde1"/>
<circle cx="304.3" cy="82.3" r="3.3" fill="#c9bde1"/>
<circle cx="310.35" cy="82.3" r="2.7" fill="#d2c8e6"/>
<circle cx="316.4" cy="82.3" r="2.7" fill="#d2c8e6"/>
<circle cx="322.45" cy="82.3" r="3.3" fill="#c9bde1"/>
<circle cx="328.5" cy="82.3" r="3.3" fill="#b7a7d7"/>
<circle cx="334.55" cy="82.3" r="3.3" fill="#c9bde1"/>
<circle cx="340.6" cy="82.3" r="3.3" fill="#c9bde1"/>
<circle cx="346.65" cy="82.3" r="3.3" fill="#c9bde1"/>
<circle cx="352.7" cy="82.3" r="3.3" fill="#c9bde1"/>
<circle cx="358.75" cy="82.3" r="3.3" fill="#c9bde1"/>
<circle cx="364.8" cy="82.3" r="3.3" fill="#fc3023"/>
<circle cx="370.85" cy="82.3" r="3.3" fill="#fc3023"/>
<circle cx="376.9" cy="82.3" r="3.3" fill="#fe1c15"/>
<circle cx="382.95" cy="82.3" r="3.3" fill="#fe1c15"/>
<circle cx="389" cy="82.3" r="3.3" fill="#fa7f68"/>
<circle cx="395.05" cy="82.3" r="1.8" fill="#e5def0"/>
<circle cx="401.1" cy="82.3" r="1.8" fill="#e5def0"/>
<circle cx="407.15" cy="82.3" r="2.7" fill="#d7cee8"/>
<circle cx="413.2" cy="82.3" r="1.8" fill="#e5def0"/>
<circle cx="419.25" cy="82.3" r="3.3" fill="#d2c8e6"/>
<circle cx="425.3" cy="82.3" r="2.7" fill="#e5def0"/>
<circle cx="431.35" cy="82.3" r="1.8" fill="#e5def0"/>
<circle cx="437.4" cy="82.3" r="2.7" fill="#e0d9ed"/>
<circle cx="443.45" cy="82.3" r="2.7" fill="#e5def0"/>
<circle cx="449.5" cy="82.3" r="3.3" fill="#b7a7d7"/>
<circle cx="455.55" cy="82.3" r="3.3" fill="#dbd3eb"/>
<circle cx="461.6" cy="82.3" r="2.7" fill="#eee9f5"/>
<circle cx="467.65" cy="82.3" r="2.7" fill="#e0d9ed"/>
<circle cx="473.7" cy="82.3" r="3.3" fill="#cec3e3"/>
<circle cx="479.75" cy="82.3" r="1.8" fill="#dbd3eb"/>
<circle cx="485.8" cy="82.3" r="1.8" fill="#d7cee8"/>
<circle cx="491.85" cy="82.3" r="1.8" fill="#eee9f5"/>
<circle cx="497.9" cy="82.3" r="3.3" fill="#c9bde1"/>
<circle cx="503.95" cy="82.3" r="3.3" fill="#c9bde1"/>
<circle cx="510" cy="82.3" r="2.7" fill="#d2c8e6"/>
<circle cx="516.05" cy="82.3" r="1.8" fill="#e5def0"/>
<circle cx="522.1" cy="82.3" r="1.3" fill="#e5def0"/>
<circle cx="528.15" cy="82.3" r="1.8" fill="#e5def0"/>
<circle cx="534.2" cy="82.3" r="2.7" fill="#d7cee8"/>
<circle cx="243.8" cy="95.96" r="3.3" fill="#b7a7d7"/>
<circle cx="249.85" cy="95.96" r="3.3" fill="#e5def0"/>
<circle cx="255.9" cy="95.96" r="3.3" fill="#eee9f5"/>
<circle cx="261.95" cy="95.96" r="2.7" fill="#c0b2dc"/>
<circle cx="268" cy="95.96" r="2.7" fill="#ae9dd1"/>
<circle cx="274.05" cy="95.96" r="3.3" fill="#d2c8e6"/>
<circle cx="280.1" cy="95.96" r="3.3" fill="#d2c8e6"/>
<circle cx="286.15" cy="95.96" r="2.7" fill="#dbd3eb"/>
<circle cx="292.2" cy="95.96" r="3.3" fill="#eee9f5"/>
<circle cx="298.25" cy="95.96" r="3.3" fill="#f8e2e0"/>
<circle cx="304.3" cy="95.96" r="3.3" fill="#ff0000"/>
<circle cx="310.35" cy="95.96" r="2.7" fill="#e5def0"/>
<circle cx="316.4" cy="95.96" r="2.7" fill="#d2c8e6"/>
<circle cx="322.45" cy="95.96" r="3.3" fill="#d2c8e6"/>
<circle cx="328.5" cy="95.96" r="3.3" fill="#f8d9d3"/>
<circle cx="334.55" cy="95.96" r="3.3" fill="#ff0000"/>
<circle cx="340.6" cy="95.96" r="3.3" fill="#ff0000"/>
<circle cx="346.65" cy="95.96" r="3.3" fill="#ff0000"/>
<circle cx="352.7" cy="95.96" r="3.3" fill="#ff0000"/>
<circle cx="358.75" cy="95.96" r="3.3" fill="#fc3023"/>
<circle cx="364.8" cy="95.96" r="3.3" fill="#ae9dd1"/>
<circle cx="370.85" cy="95.96" r="3.3" fill="#c9bde1"/>
<circle cx="376.9" cy="95.96" r="3.3" fill="#c9bde1"/>
<circle cx="382.95" cy="95.96" r="3.3" fill="#c9bde1"/>
<circle cx="389" cy="95.96" r="3.3" fill="#dbd3eb"/>
<circle cx="395.05" cy="95.96" r="1.8" fill="#f7f4fa"/>
<circle cx="401.1" cy="95.96" r="1.8" fill="#dbd3eb"/>
<circle cx="407.15" cy="95.96" r="2.7" fill="#d7cee8"/>
<circle cx="413.2" cy="95.96" r="1.8" fill="#dbd3eb"/>
<circle cx="419.25" cy="95.96" r="3.3" fill="#d7cee8"/>
<circle cx="425.3" cy="95.96" r="2.7" fill="#e0d9ed"/>
<circle cx="431.35" cy="95.96" r="1.8" fill="#e0d9ed"/>
<circle cx="437.4" cy="95.96" r="2.7" fill="#d7cee8"/>
<circle cx="443.45" cy="95.96" r="2.7" fill="#dbd3eb"/>
<circle cx="449.5" cy="95.96" r="3.3" fill="#f9c6ba"/>
<circle cx="455.55" cy="95.96" r="3.3" fill="#e0d9ed"/>
<circle cx="461.6" cy="95.96" r="2.7" fill="#d7cee8"/>
<circle cx="467.65" cy="95.96" r="2.7" fill="#e0d9ed"/>
<circle cx="473.7" cy="95.96" r="3.3" fill="#e5def0"/>
<circle cx="479.75" cy="95.96" r="1.8" fill="#dbd3eb"/>
<circle cx="485.8" cy="95.96" r="1.8" fill="#dbd3eb"/>
<circle cx="491.85" cy="95.96" r="1.8" fill="#dbd3eb"/>
<circle cx="497.9" cy="95.96" r="3.3" fill="#e5def0"/>
<circle cx="503.95" cy="95.96" r="3.3" fill="#e9e4f2"/>
<circle cx="510" cy="95.96" r="2.7" fill="#d7cee8"/>
<circle cx="516.05" cy="95.96" r="1.8" fill="#e5def0"/>
<circle cx="522.1" cy="95.96" r="1.3" fill="#e5def0"/>
<circle cx="528.15" cy="95.96" r="1.8" fill="#e5def0"/>
<circle cx="534.2" cy="95.96" r="2.7" fill="#dbd3eb"/>
<circle cx="243.8" cy="109.62" r="3.3" fill="#dbd3eb"/>
<circle cx="249.85" cy="109.62" r="3.3" fill="#f9cfc7"/>
<circle cx="255.9" cy="109.62" r="3.3" fill="#f9cfc7"/>
<circle cx="261.95" cy="109.62" r="2.7" fill="#eee9f5"/>
<circle cx="268" cy="109.62" r="2.7" fill="#dbd3eb"/>
<circle cx="274.05" cy="109.62" r="3.3" fill="#c9bde1"/>
<circle cx="280.1" cy="109.62" r="3.3" fill="#d2c8e6"/>
<circle cx="286.15" cy="109.62" r="2.7" fill="#c0b2dc"/>
<circle cx="292.2" cy="109.62" r="3.3" fill="#c0b2dc"/>
<circle cx="298.25" cy="109.62" r="3.3" fill="#c0b2dc"/>
<circle cx="304.3" cy="109.62" r="3.3" fill="#fa9f8a"/>
<circle cx="310.35" cy="109.62" r="3.3" fill="#ff0000"/>
<circle cx="316.4" cy="109.62" r="2.9" fill="#fa9f8a"/>
<circle cx="322.45" cy="109.62" r="3.3" fill="#fa5f46"/>
<circle cx="328.5" cy="109.62" r="3.3" fill="#fa6a51"/>
<circle cx="334.55" cy="109.62" r="3.3" fill="#fab4a0"/>
<circle cx="340.6" cy="109.62" r="3.3" fill="#fab4a0"/>
<circle cx="346.65" cy="109.62" r="3.3" fill="#faa995"/>
<circle cx="352.7" cy="109.62" r="3.3" fill="#faa995"/>
<circle cx="358.75" cy="109.62" r="3.3" fill="#fa947e"/>
<circle cx="364.8" cy="109.62" r="3.3" fill="#d2c8e6"/>
<circle cx="370.85" cy="109.62" r="3.3" fill="#f7f4fa"/>
<circle cx="376.9" cy="109.62" r="3.3" fill="#d2c8e6"/>
<circle cx="382.95" cy="109.62" r="3.3" fill="#e5def0"/>
<circle cx="389" cy="109.62" r="3.3" fill="#e5def0"/>
<circle cx="395.05" cy="109.62" r="1.8" fill="#d2c8e6"/>
<circle cx="401.1" cy="109.62" r="1.8" fill="#dbd3eb"/>
<circle cx="407.15" cy="109.62" r="2.7" fill="#dbd3eb"/>
<circle cx="413.2" cy="109.62" r="1.8" fill="#e5def0"/>
<circle cx="419.25" cy="109.62" r="3.3" fill="#e5def0"/>
<circle cx="425.3" cy="109.62" r="2.7" fill="#dbd3eb"/>
<circle cx="431.35" cy="109.62" r="1.8" fill="#dbd3eb"/>
<circle cx="437.4" cy="109.62" r="2.7" fill="#dbd3eb"/>
<circle cx="443.45" cy="109.62" r="2.7" fill="#d7cee8"/>
<circle cx="449.5" cy="109.62" r="3.3" fill="#dbd3eb"/>
<circle cx="455.55" cy="109.62" r="3.3" fill="#f7ebed"/>
<circle cx="461.6" cy="109.62" r="2.7" fill="#dbd3eb"/>
<circle cx="467.65" cy="109.62" r="2.7" fill="#f7ebed"/>
<circle cx="473.7" cy="109.62" r="3.3" fill="#f7ebed"/>
<circle cx="479.75" cy="109.62" r="1.8" fill="#e5def0"/>
<circle cx="485.8" cy="109.62" r="1.8" fill="#e5def0"/>
<circle cx="491.85" cy="109.62" r="1.8" fill="#dbd3eb"/>
<circle cx="497.9" cy="109.62" r="3.3" fill="#e5def0"/>
<circle cx="503.95" cy="109.62" r="3.3" fill="#f7f4fa"/>
<circle cx="510" cy="109.62" r="2.7" fill="#e9e4f2"/>
<circle cx="516.05" cy="109.62" r="1.8" fill="#dbd3eb"/>
<circle cx="522.1" cy="109.62" r="1.3" fill="#dbd3eb"/>
<circle cx="528.15" cy="109.62" r="1.8" fill="#dbd3eb"/>
<circle cx="534.2" cy="109.62" r="2.7" fill="#e9e4f2"/>
<circle cx="243.8" cy="123.28" r="3.3" fill="#e5def0"/>
<circle cx="249.85" cy="123.28" r="3.3" fill="#c9bde1"/>
<circle cx="255.9" cy="123.28" r="3.3" fill="#c9bde1"/>
<circle cx="261.95" cy="123.28" r="2.7" fill="#c9bde1"/>
<circle cx="268" cy="123.28" r="2.7" fill="#e5def0"/>
<circle cx="274.05" cy="123.28" r="3.3" fill="#f8d9d3"/>
<circle cx="280.1" cy="123.28" r="3.3" fill="#fab4a0"/>
<circle cx="286.15" cy="123.28" r="2.9" fill="#faa995"/>
<circle cx="292.2" cy="123.28" r="3.3" fill="#fa745c"/>
<circle cx="298.25" cy="123.28" r="3.3" fill="#fa947e"/>
<circle cx="304.3" cy="123.28" r="3.3" fill="#d2c8e6"/>
<circle cx="310.35" cy="123.28" r="2.7" fill="#d2c8e6"/>
<circle cx="316.4" cy="123.28" r="2.7" fill="#c9bde1"/>
<circle cx="322.45" cy="123.28" r="3.3" fill="#c9bde1"/>
<circle cx="328.5" cy="123.28" r="3.3" fill="#c0b2dc"/>
<circle cx="334.55" cy="123.28" r="3.3" fill="#c9bde1"/>
<circle cx="340.6" cy="123.28" r="3.3" fill="#c9bde1"/>
<circle cx="346.65" cy="123.28" r="3.3" fill="#c9bde1"/>
<circle cx="352.7" cy="123.28" r="3.3" fill="#c9bde1"/>
<circle cx="358.75" cy="123.28" r="3.3" fill="#dbd3eb"/>
<circle cx="364.8" cy="123.28" r="3.3" fill="#e5def0"/>
<circle cx="370.85" cy="123.28" r="3.3" fill="#d2c8e6"/>
<circle cx="376.9" cy="123.28" r="3.3" fill="#eee9f5"/>
<circle cx="382.95" cy="123.28" r="3.3" fill="#c0b2dc"/>
<circle cx="389" cy="123.28" r="3.3" fill="#c0b2dc"/>
<circle cx="395.05" cy="123.28" r="1.8" fill="#d2c8e6"/>
<circle cx="401.1" cy="123.28" r="1.8" fill="#dbd3eb"/>
<circle cx="407.15" cy="123.28" r="2.7" fill="#dbd3eb"/>
<circle cx="413.2" cy="123.28" r="1.8" fill="#dbd3eb"/>
<circle cx="419.25" cy="123.28" r="3.3" fill="#dbd3eb"/>
<circle cx="425.3" cy="123.28" r="2.7" fill="#d7cee8"/>
<circle cx="431.35" cy="123.28" r="1.8" fill="#e0d9ed"/>
<circle cx="437.4" cy="123.28" r="2.7" fill="#dbd3eb"/>
<circle cx="443.45" cy="123.28" r="2.7" fill="#d7cee8"/>
<circle cx="449.5" cy="123.28" r="3.3" fill="#dbd3eb"/>
<circle cx="455.55" cy="123.28" r="3.3" fill="#e5def0"/>
<circle cx="461.6" cy="123.28" r="2.7" fill="#e5def0"/>
<circle cx="467.65" cy="123.28" r="2.7" fill="#dbd3eb"/>
<circle cx="473.7" cy="123.28" r="3.3" fill="#e5def0"/>
<circle cx="479.75" cy="123.28" r="1.8" fill="#dbd3eb"/>
<circle cx="485.8" cy="123.28" r="1.8" fill="#dbd3eb"/>
<circle cx="491.85" cy="123.28" r="1.8" fill="#f7ebed"/>
<circle cx="497.9" cy="123.28" r="3.3" fill="#d7cee8"/>
<circle cx="503.95" cy="123.28" r="3.3" fill="#cec3e3"/>
<circle cx="510" cy="123.28" r="2.7" fill="#d2c8e6"/>
<circle cx="516.05" cy="123.28" r="1.8" fill="#e5def0"/>
<circle cx="522.1" cy="123.28" r="1.3" fill="#e5def0"/>
<circle cx="528.15" cy="123.28" r="1.8" fill="#e5def0"/>
<circle cx="534.2" cy="123.28" r="2.7" fill="#d2c8e6"/>
<circle cx="243.8" cy="136.94" r="3.3" fill="#fc3023"/>
<circle cx="249.85" cy="136.94" r="3.3" fill="#fc4231"/>
<circle cx="255.9" cy="136.94" r="3.3" fill="#fb4c38"/>
<circle cx="261.95" cy="136.94" r="3.3" fill="#fe1c15"/>
<circle cx="268" cy="136.94" r="3.3" fill="#fe130e"/>
<circle cx="274.05" cy="136.94" r="3.3" fill="#c9bde1"/>
<circle cx="280.1" cy="136.94" r="3.3" fill="#dbd3eb"/>
<circle cx="286.15" cy="136.94" r="2.7" fill="#9c88c4"/>
<circle cx="292.2" cy="136.94" r="3.3" fill="#f7f4fa"/>
<circle cx="298.25" cy="136.94" r="3.3" fill="#c9bde1"/>
<circle cx="304.3" cy="136.94" r="3.3" fill="#c0b2dc"/>
<circle cx="310.35" cy="136.94" r="2.7" fill="#d2c8e6"/>
<circle cx="316.4" cy="136.94" r="2.7" fill="#c9bde1"/>
<circle cx="322.45" cy="136.94" r="3.3" fill="#c0b2dc"/>
<circle cx="328.5" cy="136.94" r="3.3" fill="#ae9dd1"/>
<circle cx="334.55" cy="136.94" r="3.3" fill="#c0b2dc"/>
<circle cx="340.6" cy="136.94" r="3.3" fill="#c9bde1"/>
<circle cx="346.65" cy="136.94" r="3.3" fill="#c0b2dc"/>
<circle cx="352.7" cy="136.94" r="3.3" fill="#c9bde1"/>
<circle cx="358.75" cy="136.94" r="3.3" fill="#dbd3eb"/>
<circle cx="364.8" cy="136.94" r="3.3" fill="#fab4a0"/>
<circle cx="370.85" cy="136.94" r="3.3" fill="#fa9f8a"/>
<circle cx="376.9" cy="136.94" r="3.3" fill="#f8e2e0"/>
<circle cx="382.95" cy="136.94" r="3.3" fill="#f7f4fa"/>
<circle cx="389" cy="136.94" r="3.3" fill="#c0b2dc"/>
<circle cx="395.05" cy="136.94" r="1.8" fill="#e5def0"/>
<circle cx="401.1" cy="136.94" r="1.8" fill="#e5def0"/>
<circle cx="407.15" cy="136.94" r="2.7" fill="#f7eff4"/>
<circle cx="413.2" cy="136.94" r="1.8" fill="#e5def0"/>
<circle cx="419.25" cy="136.94" r="3.3" fill="#d7cee8"/>
<circle cx="425.3" cy="136.94" r="2.7" fill="#e5def0"/>
<circle cx="431.35" cy="136.94" r="1.8" fill="#dbd3eb"/>
<circle cx="437.4" cy="136.94" r="2.7" fill="#d7cee8"/>
<circle cx="443.45" cy="136.94" r="2.7" fill="#d7cee8"/>
<circle cx="449.5" cy="136.94" r="3.3" fill="#a592cb"/>
<circle cx="455.55" cy="136.94" r="3.3" fill="#c0b2dc"/>
<circle cx="461.6" cy="136.94" r="2.7" fill="#dbd3eb"/>
<circle cx="467.65" cy="136.94" r="2.7" fill="#b7a7d7"/>
<circle cx="473.7" cy="136.94" r="3.3" fill="#c0b2dc"/>
<circle cx="479.75" cy="136.94" r="1.8" fill="#dbd3eb"/>
<circle cx="485.8" cy="136.94" r="1.8" fill="#dbd3eb"/>
<circle cx="491.85" cy="136.94" r="1.8" fill="#dbd3eb"/>
<circle cx="497.9" cy="136.94" r="3.3" fill="#e0d9ed"/>
<circle cx="503.95" cy="136.94" r="3.3" fill="#c0b2dc"/>
<circle cx="510" cy="136.94" r="2.7" fill="#d2c8e6"/>
<circle cx="516.05" cy="136.94" r="1.8" fill="#e5def0"/>
<circle cx="522.1" cy="136.94" r="1.3" fill="#e5def0"/>
<circle cx="528.15" cy="136.94" r="1.8" fill="#e5def0"/>
<circle cx="534.2" cy="136.94" r="2.7" fill="#d7cee8"/>
<rect x="238.2" y="7.6" width="302.2" height="136.3" fill="none" stroke="#8a8a8a" stroke-width="0.8"/>
<line x1="243.8" y1="7.6" x2="243.8" y2="8.9" stroke="#aaa" stroke-width="0.4"/>
<line x1="249.85" y1="7.6" x2="249.85" y2="8.9" stroke="#aaa" stroke-width="0.4"/>
<line x1="255.9" y1="7.6" x2="255.9" y2="8.9" stroke="#aaa" stroke-width="0.4"/>
<line x1="261.95" y1="7.6" x2="261.95" y2="8.9" stroke="#aaa" stroke-width="0.4"/>
<line x1="268" y1="7.6" x2="268" y2="8.9" stroke="#aaa" stroke-width="0.4"/>
<line x1="274.05" y1="7.6" x2="274.05" y2="8.9" stroke="#aaa" stroke-width="0.4"/>
<line x1="280.1" y1="7.6" x2="280.1" y2="8.9" stroke="#aaa" stroke-width="0.4"/>
<line x1="286.15" y1="7.6" x2="286.15" y2="8.9" stroke="#aaa" stroke-width="0.4"/>
<line x1="292.2" y1="7.6" x2="292.2" y2="8.9" stroke="#aaa" stroke-width="0.4"/>
<line x1="298.25" y1="7.6" x2="298.25" y2="8.9" stroke="#aaa" stroke-width="0.4"/>
<line x1="304.3" y1="7.6" x2="304.3" y2="8.9" stroke="#aaa" stroke-width="0.4"/>
<line x1="310.35" y1="7.6" x2="310.35" y2="8.9" stroke="#aaa" stroke-width="0.4"/>
<line x1="316.4" y1="7.6" x2="316.4" y2="8.9" stroke="#aaa" stroke-width="0.4"/>
<line x1="322.45" y1="7.6" x2="322.45" y2="8.9" stroke="#aaa" stroke-width="0.4"/>
<line x1="328.5" y1="7.6" x2="328.5" y2="8.9" stroke="#aaa" stroke-width="0.4"/>
<line x1="334.55" y1="7.6" x2="334.55" y2="8.9" stroke="#aaa" stroke-width="0.4"/>
<line x1="340.6" y1="7.6" x2="340.6" y2="8.9" stroke="#aaa" stroke-width="0.4"/>
<line x1="346.65" y1="7.6" x2="346.65" y2="8.9" stroke="#aaa" stroke-width="0.4"/>
<line x1="352.7" y1="7.6" x2="352.7" y2="8.9" stroke="#aaa" stroke-width="0.4"/>
<line x1="358.75" y1="7.6" x2="358.75" y2="8.9" stroke="#aaa" stroke-width="0.4"/>
<line x1="364.8" y1="7.6" x2="364.8" y2="8.9" stroke="#aaa" stroke-width="0.4"/>
<line x1="370.85" y1="7.6" x2="370.85" y2="8.9" stroke="#aaa" stroke-width="0.4"/>
<line x1="376.9" y1="7.6" x2="376.9" y2="8.9" stroke="#aaa" stroke-width="0.4"/>
<line x1="382.95" y1="7.6" x2="382.95" y2="8.9" stroke="#aaa" stroke-width="0.4"/>
<line x1="389" y1="7.6" x2="389" y2="8.9" stroke="#aaa" stroke-width="0.4"/>
<line x1="395.05" y1="7.6" x2="395.05" y2="8.9" stroke="#aaa" stroke-width="0.4"/>
<line x1="401.1" y1="7.6" x2="401.1" y2="8.9" stroke="#aaa" stroke-width="0.4"/>
<line x1="407.15" y1="7.6" x2="407.15" y2="8.9" stroke="#aaa" stroke-width="0.4"/>
<line x1="413.2" y1="7.6" x2="413.2" y2="8.9" stroke="#aaa" stroke-width="0.4"/>
<line x1="419.25" y1="7.6" x2="419.25" y2="8.9" stroke="#aaa" stroke-width="0.4"/>
<line x1="425.3" y1="7.6" x2="425.3" y2="8.9" stroke="#aaa" stroke-width="0.4"/>
<line x1="431.35" y1="7.6" x2="431.35" y2="8.9" stroke="#aaa" stroke-width="0.4"/>
<line x1="437.4" y1="7.6" x2="437.4" y2="8.9" stroke="#aaa" stroke-width="0.4"/>
<line x1="443.45" y1="7.6" x2="443.45" y2="8.9" stroke="#aaa" stroke-width="0.4"/>
<line x1="449.5" y1="7.6" x2="449.5" y2="8.9" stroke="#aaa" stroke-width="0.4"/>
<line x1="455.55" y1="7.6" x2="455.55" y2="8.9" stroke="#aaa" stroke-width="0.4"/>
<line x1="461.6" y1="7.6" x2="461.6" y2="8.9" stroke="#aaa" stroke-width="0.4"/>
<line x1="467.65" y1="7.6" x2="467.65" y2="8.9" stroke="#aaa" stroke-width="0.4"/>
<line x1="473.7" y1="7.6" x2="473.7" y2="8.9" stroke="#aaa" stroke-width="0.4"/>
<line x1="479.75" y1="7.6" x2="479.75" y2="8.9" stroke="#aaa" stroke-width="0.4"/>
<line x1="485.8" y1="7.6" x2="485.8" y2="8.9" stroke="#aaa" stroke-width="0.4"/>
<line x1="491.85" y1="7.6" x2="491.85" y2="8.9" stroke="#aaa" stroke-width="0.4"/>
<line x1="497.9" y1="7.6" x2="497.9" y2="8.9" stroke="#aaa" stroke-width="0.4"/>
<line x1="503.95" y1="7.6" x2="503.95" y2="8.9" stroke="#aaa" stroke-width="0.4"/>
<line x1="510" y1="7.6" x2="510" y2="8.9" stroke="#aaa" stroke-width="0.4"/>
<line x1="516.05" y1="7.6" x2="516.05" y2="8.9" stroke="#aaa" stroke-width="0.4"/>
<line x1="522.1" y1="7.6" x2="522.1" y2="8.9" stroke="#aaa" stroke-width="0.4"/>
<line x1="528.15" y1="7.6" x2="528.15" y2="8.9" stroke="#aaa" stroke-width="0.4"/>
<line x1="534.2" y1="7.6" x2="534.2" y2="8.9" stroke="#aaa" stroke-width="0.4"/>
<text x="225.8" y="17" font-size="8.4" text-anchor="end" stroke="#000" stroke-width="0.2">c10_Isg15</text>
<circle cx="232.4" cy="14" r="3.8" fill="#a8dfcb"/>
<text x="225.8" y="30.66" font-size="8.4" text-anchor="end" stroke="#000" stroke-width="0.2">c9_Plac8</text>
<circle cx="232.4" cy="27.66" r="3.8" fill="#3a3825"/>
<text x="225.8" y="44.32" font-size="8.4" text-anchor="end" stroke="#000" stroke-width="0.2">c8_Il1b</text>
<circle cx="232.4" cy="41.32" r="3.8" fill="#f892a9"/>
<text x="225.8" y="57.98" font-size="8.4" text-anchor="end" stroke="#000" stroke-width="0.2">c7_S100a8</text>
<circle cx="232.4" cy="54.98" r="3.8" fill="#82d0dc"/>
<text x="225.8" y="71.64" font-size="8.4" text-anchor="end" stroke="#000" stroke-width="0.2">c6_Mki67</text>
<circle cx="232.4" cy="68.64" r="3.8" fill="#fa5c46"/>
<text x="225.8" y="85.3" font-size="8.4" text-anchor="end" stroke="#000" stroke-width="0.2">c5_Pf4</text>
<circle cx="232.4" cy="82.3" r="3.8" fill="#56908f"/>
<text x="225.8" y="98.96" font-size="8.4" text-anchor="end" stroke="#000" stroke-width="0.2">c4_H2−Aa</text>
<circle cx="232.4" cy="95.96" r="3.8" fill="#8a3d9e"/>
<text x="225.8" y="112.62" font-size="8.4" text-anchor="end" stroke="#000" stroke-width="0.2">c3_Cd74</text>
<circle cx="232.4" cy="109.62" r="3.8" fill="#0f8a9a"/>
<text x="225.8" y="126.28" font-size="8.4" text-anchor="end" stroke="#000" stroke-width="0.2">c2_Spp1</text>
<circle cx="232.4" cy="123.28" r="3.8" fill="#c41200"/>
<text x="225.8" y="139.94" font-size="8.4" text-anchor="end" stroke="#000" stroke-width="0.2">c1_Mrc1</text>
<circle cx="232.4" cy="136.94" r="3.8" fill="#ff6a00"/>
<rect x="540.8" y="7.4" width="72.6" height="13.2" fill="#a8dfcb"/>
<text x="542.8" y="16.2" font-size="6.05" fill="#f4fbf8">M1, IFN−related</text>
<rect x="540.8" y="21.06" width="72.6" height="13.2" fill="#3a3825"/>
<text x="542.8" y="29.86" font-size="6.05" fill="#fff">Mono−like, IFN−related</text>
<rect x="540.8" y="34.72" width="72.6" height="13.2" fill="#f892a9"/>
<text x="542.8" y="43.52" font-size="6.05" fill="#fff">M1, pro−inflammatory</text>
<rect x="540.8" y="48.38" width="72.6" height="13.2" fill="#82d0dc"/>
<text x="542.8" y="57.18" font-size="6.05" fill="#f4fbf8"> M1, pro−inflammatory</text>
<rect x="540.8" y="62.04" width="72.6" height="13.2" fill="#fa5c46"/>
<text x="542.8" y="70.84" font-size="6.05" fill="#fff">Proliferative</text>
<rect x="540.8" y="75.7" width="72.6" height="13.2" fill="#56908f"/>
<text x="542.8" y="84.5" font-size="6.05" fill="#fff">M2, lipid metabolism</text>
<rect x="540.8" y="89.36" width="72.6" height="13.2" fill="#8a3d9e"/>
<text x="542.8" y="98.16" font-size="6.05" fill="#fff">M1, antigen presentation</text>
<rect x="540.8" y="103.02" width="72.6" height="13.2" fill="#0f8a9a"/>
<text x="542.8" y="111.82" font-size="6.05" fill="#fff">M1, immune activation</text>
<rect x="540.8" y="116.68" width="72.6" height="13.2" fill="#c41200"/>
<text x="542.8" y="125.48" font-size="6.05" fill="#fff">M2, angiogenesis</text>
<rect x="540.8" y="130.34" width="72.6" height="13.2" fill="#ff6a00"/>
<text x="542.8" y="139.14" font-size="6.05" fill="#fff">M2, regulatory</text>
<line x1="243.8" y1="143.9" x2="243.8" y2="145.1" stroke="#666" stroke-width="0.4"/>
<text x="245.4" y="148.5" font-size="4.3" text-anchor="end" fill="#333" stroke="#333" stroke-width="0.15" transform="rotate(-45 245.4 148.5)">Mrc1</text>
<line x1="249.85" y1="143.9" x2="249.85" y2="145.1" stroke="#666" stroke-width="0.4"/>
<text x="251.45" y="148.5" font-size="4.3" text-anchor="end" fill="#333" stroke="#333" stroke-width="0.15" transform="rotate(-45 251.45 148.5)">C1qa</text>
<line x1="255.9" y1="143.9" x2="255.9" y2="145.1" stroke="#666" stroke-width="0.4"/>
<text x="257.5" y="148.5" font-size="4.3" text-anchor="end" fill="#333" stroke="#333" stroke-width="0.15" transform="rotate(-45 257.5 148.5)">C1qb</text>
<line x1="261.95" y1="143.9" x2="261.95" y2="145.1" stroke="#666" stroke-width="0.4"/>
<text x="263.55" y="148.5" font-size="4.3" text-anchor="end" fill="#333" stroke="#333" stroke-width="0.15" transform="rotate(-45 263.55 148.5)">C1qc</text>
<line x1="268" y1="143.9" x2="268" y2="145.1" stroke="#666" stroke-width="0.4"/>
<text x="269.6" y="148.5" font-size="4.3" text-anchor="end" fill="#333" stroke="#333" stroke-width="0.15" transform="rotate(-45 269.6 148.5)">Cd163</text>
<line x1="274.05" y1="143.9" x2="274.05" y2="145.1" stroke="#666" stroke-width="0.4"/>
<text x="275.65" y="148.5" font-size="4.3" text-anchor="end" fill="#333" stroke="#333" stroke-width="0.15" transform="rotate(-45 275.65 148.5)">Spp1</text>
<line x1="280.1" y1="143.9" x2="280.1" y2="145.1" stroke="#666" stroke-width="0.4"/>
<text x="281.7" y="148.5" font-size="4.3" text-anchor="end" fill="#333" stroke="#333" stroke-width="0.15" transform="rotate(-45 281.7 148.5)">Arg1</text>
<line x1="286.15" y1="143.9" x2="286.15" y2="145.1" stroke="#666" stroke-width="0.4"/>
<text x="287.75" y="148.5" font-size="4.3" text-anchor="end" fill="#333" stroke="#333" stroke-width="0.15" transform="rotate(-45 287.75 148.5)">Fn1</text>
<line x1="292.2" y1="143.9" x2="292.2" y2="145.1" stroke="#666" stroke-width="0.4"/>
<text x="293.8" y="148.5" font-size="4.3" text-anchor="end" fill="#333" stroke="#333" stroke-width="0.15" transform="rotate(-45 293.8 148.5)">Ctsd</text>
<line x1="298.25" y1="143.9" x2="298.25" y2="145.1" stroke="#666" stroke-width="0.4"/>
<text x="299.85" y="148.5" font-size="4.3" text-anchor="end" fill="#333" stroke="#333" stroke-width="0.15" transform="rotate(-45 299.85 148.5)">Lgals3</text>
<line x1="304.3" y1="143.9" x2="304.3" y2="145.1" stroke="#666" stroke-width="0.4"/>
<text x="305.9" y="148.5" font-size="4.3" text-anchor="end" fill="#333" stroke="#333" stroke-width="0.15" transform="rotate(-45 305.9 148.5)">Cd74</text>
<line x1="310.35" y1="143.9" x2="310.35" y2="145.1" stroke="#666" stroke-width="0.4"/>
<text x="311.95" y="148.5" font-size="4.3" text-anchor="end" fill="#333" stroke="#333" stroke-width="0.15" transform="rotate(-45 311.95 148.5)">Ccl12</text>
<line x1="316.4" y1="143.9" x2="316.4" y2="145.1" stroke="#666" stroke-width="0.4"/>
<text x="318" y="148.5" font-size="4.3" text-anchor="end" fill="#333" stroke="#333" stroke-width="0.15" transform="rotate(-45 318 148.5)">Ccl8</text>
<line x1="322.45" y1="143.9" x2="322.45" y2="145.1" stroke="#666" stroke-width="0.4"/>
<text x="324.05" y="148.5" font-size="4.3" text-anchor="end" fill="#333" stroke="#333" stroke-width="0.15" transform="rotate(-45 324.05 148.5)">Cxcl9</text>
<line x1="328.5" y1="143.9" x2="328.5" y2="145.1" stroke="#666" stroke-width="0.4"/>
<text x="330.1" y="148.5" font-size="4.3" text-anchor="end" fill="#333" stroke="#333" stroke-width="0.15" transform="rotate(-45 330.1 148.5)">Gbp2</text>
<line x1="334.55" y1="143.9" x2="334.55" y2="145.1" stroke="#666" stroke-width="0.4"/>
<text x="336.15" y="148.5" font-size="4.3" text-anchor="end" fill="#333" stroke="#333" stroke-width="0.15" transform="rotate(-45 336.15 148.5)">Cd74</text>
<line x1="340.6" y1="143.9" x2="340.6" y2="145.1" stroke="#666" stroke-width="0.4"/>
<text x="342.2" y="148.5" font-size="4.3" text-anchor="end" fill="#333" stroke="#333" stroke-width="0.15" transform="rotate(-45 342.2 148.5)">H2-Aa</text>
<line x1="346.65" y1="143.9" x2="346.65" y2="145.1" stroke="#666" stroke-width="0.4"/>
<text x="348.25" y="148.5" font-size="4.3" text-anchor="end" fill="#333" stroke="#333" stroke-width="0.15" transform="rotate(-45 348.25 148.5)">H2-Ab1</text>
<line x1="352.7" y1="143.9" x2="352.7" y2="145.1" stroke="#666" stroke-width="0.4"/>
<text x="354.3" y="148.5" font-size="4.3" text-anchor="end" fill="#333" stroke="#333" stroke-width="0.15" transform="rotate(-45 354.3 148.5)">H2-Eb1</text>
<line x1="358.75" y1="143.9" x2="358.75" y2="145.1" stroke="#666" stroke-width="0.4"/>
<text x="360.35" y="148.5" font-size="4.3" text-anchor="end" fill="#333" stroke="#333" stroke-width="0.15" transform="rotate(-45 360.35 148.5)">H2-DMa</text>
<line x1="364.8" y1="143.9" x2="364.8" y2="145.1" stroke="#666" stroke-width="0.4"/>
<text x="366.4" y="148.5" font-size="4.3" text-anchor="end" fill="#333" stroke="#333" stroke-width="0.15" transform="rotate(-45 366.4 148.5)">Pf4</text>
<line x1="370.85" y1="143.9" x2="370.85" y2="145.1" stroke="#666" stroke-width="0.4"/>
<text x="372.45" y="148.5" font-size="4.3" text-anchor="end" fill="#333" stroke="#333" stroke-width="0.15" transform="rotate(-45 372.45 148.5)">Apoe</text>
<line x1="376.9" y1="143.9" x2="376.9" y2="145.1" stroke="#666" stroke-width="0.4"/>
<text x="378.5" y="148.5" font-size="4.3" text-anchor="end" fill="#333" stroke="#333" stroke-width="0.15" transform="rotate(-45 378.5 148.5)">Ctsb</text>
<line x1="382.95" y1="143.9" x2="382.95" y2="145.1" stroke="#666" stroke-width="0.4"/>
<text x="384.55" y="148.5" font-size="4.3" text-anchor="end" fill="#333" stroke="#333" stroke-width="0.15" transform="rotate(-45 384.55 148.5)">Fabp5</text>
<line x1="389" y1="143.9" x2="389" y2="145.1" stroke="#666" stroke-width="0.4"/>
<text x="390.6" y="148.5" font-size="4.3" text-anchor="end" fill="#333" stroke="#333" stroke-width="0.15" transform="rotate(-45 390.6 148.5)">Mmp12</text>
<line x1="395.05" y1="143.9" x2="395.05" y2="145.1" stroke="#666" stroke-width="0.4"/>
<text x="396.65" y="148.5" font-size="4.3" text-anchor="end" fill="#333" stroke="#333" stroke-width="0.15" transform="rotate(-45 396.65 148.5)">Mki67</text>
<line x1="401.1" y1="143.9" x2="401.1" y2="145.1" stroke="#666" stroke-width="0.4"/>
<text x="402.7" y="148.5" font-size="4.3" text-anchor="end" fill="#333" stroke="#333" stroke-width="0.15" transform="rotate(-45 402.7 148.5)">Top2a</text>
<line x1="407.15" y1="143.9" x2="407.15" y2="145.1" stroke="#666" stroke-width="0.4"/>
<text x="408.75" y="148.5" font-size="4.3" text-anchor="end" fill="#333" stroke="#333" stroke-width="0.15" transform="rotate(-45 408.75 148.5)">Stmn1</text>
<line x1="413.2" y1="143.9" x2="413.2" y2="145.1" stroke="#666" stroke-width="0.4"/>
<text x="414.8" y="148.5" font-size="4.3" text-anchor="end" fill="#333" stroke="#333" stroke-width="0.15" transform="rotate(-45 414.8 148.5)">Pclaf</text>
<line x1="419.25" y1="143.9" x2="419.25" y2="145.1" stroke="#666" stroke-width="0.4"/>
<text x="420.85" y="148.5" font-size="4.3" text-anchor="end" fill="#333" stroke="#333" stroke-width="0.15" transform="rotate(-45 420.85 148.5)">Hmgb2</text>
<line x1="425.3" y1="143.9" x2="425.3" y2="145.1" stroke="#666" stroke-width="0.4"/>
<text x="426.9" y="148.5" font-size="4.3" text-anchor="end" fill="#333" stroke="#333" stroke-width="0.15" transform="rotate(-45 426.9 148.5)">S100a8</text>
<line x1="431.35" y1="143.9" x2="431.35" y2="145.1" stroke="#666" stroke-width="0.4"/>
<text x="432.95" y="148.5" font-size="4.3" text-anchor="end" fill="#333" stroke="#333" stroke-width="0.15" transform="rotate(-45 432.95 148.5)">S100a9</text>
<line x1="437.4" y1="143.9" x2="437.4" y2="145.1" stroke="#666" stroke-width="0.4"/>
<text x="439" y="148.5" font-size="4.3" text-anchor="end" fill="#333" stroke="#333" stroke-width="0.15" transform="rotate(-45 439 148.5)">Lcn2</text>
<line x1="443.45" y1="143.9" x2="443.45" y2="145.1" stroke="#666" stroke-width="0.4"/>
<text x="445.05" y="148.5" font-size="4.3" text-anchor="end" fill="#333" stroke="#333" stroke-width="0.15" transform="rotate(-45 445.05 148.5)">Ngp</text>
<line x1="449.5" y1="143.9" x2="449.5" y2="145.1" stroke="#666" stroke-width="0.4"/>
<text x="451.1" y="148.5" font-size="4.3" text-anchor="end" fill="#333" stroke="#333" stroke-width="0.15" transform="rotate(-45 451.1 148.5)">Il1b</text>
<line x1="455.55" y1="143.9" x2="455.55" y2="145.1" stroke="#666" stroke-width="0.4"/>
<text x="457.15" y="148.5" font-size="4.3" text-anchor="end" fill="#333" stroke="#333" stroke-width="0.15" transform="rotate(-45 457.15 148.5)">Ccl3</text>
<line x1="461.6" y1="143.9" x2="461.6" y2="145.1" stroke="#666" stroke-width="0.4"/>
<text x="463.2" y="148.5" font-size="4.3" text-anchor="end" fill="#333" stroke="#333" stroke-width="0.15" transform="rotate(-45 463.2 148.5)">Ccl4</text>
<line x1="467.65" y1="143.9" x2="467.65" y2="145.1" stroke="#666" stroke-width="0.4"/>
<text x="469.25" y="148.5" font-size="4.3" text-anchor="end" fill="#333" stroke="#333" stroke-width="0.15" transform="rotate(-45 469.25 148.5)">Cxcl2</text>
<line x1="473.7" y1="143.9" x2="473.7" y2="145.1" stroke="#666" stroke-width="0.4"/>
<text x="475.3" y="148.5" font-size="4.3" text-anchor="end" fill="#333" stroke="#333" stroke-width="0.15" transform="rotate(-45 475.3 148.5)">Nfkbia</text>
<line x1="479.75" y1="143.9" x2="479.75" y2="145.1" stroke="#666" stroke-width="0.4"/>
<text x="481.35" y="148.5" font-size="4.3" text-anchor="end" fill="#333" stroke="#333" stroke-width="0.15" transform="rotate(-45 481.35 148.5)">Plac8</text>
<line x1="485.8" y1="143.9" x2="485.8" y2="145.1" stroke="#666" stroke-width="0.4"/>
<text x="487.4" y="148.5" font-size="4.3" text-anchor="end" fill="#333" stroke="#333" stroke-width="0.15" transform="rotate(-45 487.4 148.5)">Ly6c2</text>
<line x1="491.85" y1="143.9" x2="491.85" y2="145.1" stroke="#666" stroke-width="0.4"/>
<text x="493.45" y="148.5" font-size="4.3" text-anchor="end" fill="#333" stroke="#333" stroke-width="0.15" transform="rotate(-45 493.45 148.5)">Chil3</text>
<line x1="497.9" y1="143.9" x2="497.9" y2="145.1" stroke="#666" stroke-width="0.4"/>
<text x="499.5" y="148.5" font-size="4.3" text-anchor="end" fill="#333" stroke="#333" stroke-width="0.15" transform="rotate(-45 499.5 148.5)">Ms4a4c</text>
<line x1="503.95" y1="143.9" x2="503.95" y2="145.1" stroke="#666" stroke-width="0.4"/>
<text x="505.55" y="148.5" font-size="4.3" text-anchor="end" fill="#333" stroke="#333" stroke-width="0.15" transform="rotate(-45 505.55 148.5)">Fcnb</text>
<line x1="510" y1="143.9" x2="510" y2="145.1" stroke="#666" stroke-width="0.4"/>
<text x="511.6" y="148.5" font-size="4.3" text-anchor="end" fill="#333" stroke="#333" stroke-width="0.15" transform="rotate(-45 511.6 148.5)">Isg15</text>
<line x1="516.05" y1="143.9" x2="516.05" y2="145.1" stroke="#666" stroke-width="0.4"/>
<text x="517.65" y="148.5" font-size="4.3" text-anchor="end" fill="#333" stroke="#333" stroke-width="0.15" transform="rotate(-45 517.65 148.5)">Ifit3</text>
<line x1="522.1" y1="143.9" x2="522.1" y2="145.1" stroke="#666" stroke-width="0.4"/>
<text x="523.7" y="148.5" font-size="4.3" text-anchor="end" fill="#333" stroke="#333" stroke-width="0.15" transform="rotate(-45 523.7 148.5)">Rsad2</text>
<line x1="528.15" y1="143.9" x2="528.15" y2="145.1" stroke="#666" stroke-width="0.4"/>
<text x="529.75" y="148.5" font-size="4.3" text-anchor="end" fill="#333" stroke="#333" stroke-width="0.15" transform="rotate(-45 529.75 148.5)">Irf7</text>
<line x1="534.2" y1="143.9" x2="534.2" y2="145.1" stroke="#666" stroke-width="0.4"/>
<text x="535.8" y="148.5" font-size="4.3" text-anchor="end" fill="#333" stroke="#333" stroke-width="0.15" transform="rotate(-45 535.8 148.5)">Ifit1</text>
<text x="628.8" y="17.6" font-size="6.6" stroke="#000" stroke-width="0.18">Percent Expr.</text>
<circle cx="634.3" cy="27.6" r="2.3" fill="#000"/>
<text x="643.2" y="29.9" font-size="6.6" stroke="#000" stroke-width="0.18">25</text>
<circle cx="634.3" cy="37.8" r="2.9" fill="#000"/>
<text x="643.2" y="40.1" font-size="6.6" stroke="#000" stroke-width="0.18">50</text>
<circle cx="634.3" cy="48.2" r="3.4" fill="#000"/>
<text x="643.2" y="50.5" font-size="6.6" stroke="#000" stroke-width="0.18">75</text>
<circle cx="634.3" cy="58.8" r="4" fill="#000"/>
<text x="643.2" y="61.1" font-size="6.6" stroke="#000" stroke-width="0.18">100</text>
<text x="628.8" y="83.8" font-size="6.6" stroke="#000" stroke-width="0.18">Scaled Avg. Expr.</text>
<defs><linearGradient id="gB" x1="0" y1="1" x2="0" y2="0"><stop offset="0" stop-color="#7054a5"/><stop offset="0.14" stop-color="#9c88c4"/><stop offset="0.26" stop-color="#c9bde1"/><stop offset="0.38" stop-color="#f7f4fa"/><stop offset="0.5" stop-color="#f9c6ba"/><stop offset="0.62" stop-color="#fa947e"/><stop offset="0.74" stop-color="#fa5f46"/><stop offset="0.86" stop-color="#fc3023"/><stop offset="1" stop-color="#ff0000"/></linearGradient></defs>
<rect x="628.9" y="89" width="10.9" height="52.4" fill="url(#gB)"/>
<line x1="628.9" y1="96.2" x2="630.8" y2="96.2" stroke="#fff" stroke-width="0.5"/>
<line x1="637.9" y1="96.2" x2="639.8" y2="96.2" stroke="#fff" stroke-width="0.5"/>
<text x="643.2" y="98.5" font-size="6.6" stroke="#000" stroke-width="0.18">2</text>
<line x1="628.9" y1="108.6" x2="630.8" y2="108.6" stroke="#fff" stroke-width="0.5"/>
<line x1="637.9" y1="108.6" x2="639.8" y2="108.6" stroke="#fff" stroke-width="0.5"/>
<text x="643.2" y="110.9" font-size="6.6" stroke="#000" stroke-width="0.18">1</text>
<line x1="628.9" y1="121.5" x2="630.8" y2="121.5" stroke="#fff" stroke-width="0.5"/>
<line x1="637.9" y1="121.5" x2="639.8" y2="121.5" stroke="#fff" stroke-width="0.5"/>
<text x="643.2" y="123.8" font-size="6.6" stroke="#000" stroke-width="0.18">0</text>
<line x1="628.9" y1="134.6" x2="630.8" y2="134.6" stroke="#fff" stroke-width="0.5"/>
<line x1="637.9" y1="134.6" x2="639.8" y2="134.6" stroke="#fff" stroke-width="0.5"/>
<text x="643.2" y="136.9" font-size="6.6" stroke="#000" stroke-width="0.18">−1</text>
<text x="0.6" y="182.6" font-size="8.4" font-weight="bold" stroke="#000" stroke-width="0.2">C</text>
<text x="95" y="186.9" font-size="6.8" text-anchor="middle" font-weight="bold" stroke="#000" stroke-width="0.18">RNA velocity | Control</text>
<text x="242.5" y="186.9" font-size="6.8" text-anchor="middle" font-weight="bold" stroke="#000" stroke-width="0.18">RNA velocity | SP</text>
<defs><filter id="dt10" x="0" y="0" width="685" height="813" filterUnits="userSpaceOnUse" color-interpolation-filters="sRGB"><feGaussianBlur in="SourceAlpha" stdDeviation="2.4" result="d"/><feTurbulence type="fractalNoise" baseFrequency="1.6" numOctaves="1" seed="73" result="n"/><feComponentTransfer in="n" result="n2"><feFuncA type="linear" slope="2.75" intercept="-0.874"/></feComponentTransfer><feComposite in="d" in2="n2" operator="arithmetic" k1="0" k2="0.65" k3="-1" k4="-0.04" result="x"/><feComponentTransfer in="x" result="m"><feFuncA type="linear" slope="40" intercept="0"/></feComponentTransfer><feFlood flood-color="#fa5c46"/><feComposite operator="in" in2="m"/></filter></defs>
<g filter="url(#dt10)" opacity="0.6">
<path d="M31.5,216C32.33,213.58 33.92,212.42 36,211.5C38.08,210.58 41.33,210.5 44,210.5C46.67,210.5 49.33,211.08 52,211.5C54.67,211.92 57.75,212.25 60,213C62.25,213.75 64.42,214.17 65.5,216C66.58,217.83 66.75,221.33 66.5,224C66.25,226.67 65.08,229.67 64,232C62.92,234.33 61.33,236.17 60,238C58.67,239.83 57.67,241.67 56,243C54.33,244.33 52,244.83 50,246C48,247.17 45.83,248.83 44,250C42.17,251.17 40.5,253.33 39,253C37.5,252.67 36.08,250.83 35,248C33.92,245.17 33.17,239.67 32.5,236C31.83,232.33 31.17,229.33 31,226C30.83,222.67 30.67,218.42 31.5,216Z" fill="#000"/>
</g>
<defs><filter id="dt11" x="0" y="0" width="685" height="813" filterUnits="userSpaceOnUse" color-interpolation-filters="sRGB"><feGaussianBlur in="SourceAlpha" stdDeviation="2.4" result="d"/><feTurbulence type="fractalNoise" baseFrequency="1.6" numOctaves="1" seed="80" result="n"/><feComponentTransfer in="n" result="n2"><feFuncA type="linear" slope="2.75" intercept="-0.874"/></feComponentTransfer><feComposite in="d" in2="n2" operator="arithmetic" k1="0" k2="0.8" k3="-1" k4="-0.04" result="x"/><feComponentTransfer in="x" result="m"><feFuncA type="linear" slope="40" intercept="0"/></feComponentTransfer><feFlood flood-color="#ff6a00"/><feComposite operator="in" in2="m"/></filter></defs>
<g filter="url(#dt11)" opacity="0.62">
<path d="M38,251C39.5,249.17 42.17,249.17 45,249C47.83,248.83 51.83,249.5 55,250C58.17,250.5 61.67,250 64,252C66.33,254 68.08,258.33 69,262C69.92,265.67 69.5,270 69.5,274C69.5,278 69.25,282 69,286C68.75,290 69.17,295.5 68,298C66.83,300.5 64.33,300.92 62,301C59.67,301.08 56.67,299.83 54,298.5C51.33,297.17 48.33,294.92 46,293C43.67,291.08 41.83,289.33 40,287C38.17,284.67 35.92,281.83 35,279C34.08,276.17 34.33,273.17 34.5,270C34.67,266.83 35.42,263.17 36,260C36.58,256.83 36.5,252.83 38,251Z" fill="#000"/>
</g>
<defs><filter id="dt12" x="0" y="0" width="685" height="813" filterUnits="userSpaceOnUse" color-interpolation-filters="sRGB"><feGaussianBlur in="SourceAlpha" stdDeviation="2.4" result="d"/><feTurbulence type="fractalNoise" baseFrequency="1.6" numOctaves="1" seed="87" result="n"/><feComponentTransfer in="n" result="n2"><feFuncA type="linear" slope="2.75" intercept="-0.874"/></feComponentTransfer><feComposite in="d" in2="n2" operator="arithmetic" k1="0" k2="0.8" k3="-1" k4="-0.04" result="x"/><feComponentTransfer in="x" result="m"><feFuncA type="linear" slope="40" intercept="0"/></feComponentTransfer><feFlood flood-color="#56908f"/><feComposite operator="in" in2="m"/></filter></defs>
<g filter="url(#dt12)" opacity="0.6">
<path d="M63,283C64.33,280.17 67.17,278.5 70,277C72.83,275.5 76.33,274.5 80,274C83.67,273.5 88.33,273.5 92,274C95.67,274.5 99.67,275.17 102,277C104.33,278.83 105.67,281.83 106,285C106.33,288.17 105.33,293 104,296C102.67,299 100.67,301.33 98,303C95.33,304.67 91.67,305.58 88,306C84.33,306.42 79.5,306.17 76,305.5C72.5,304.83 69.33,303.92 67,302C64.67,300.08 62.67,297.17 62,294C61.33,290.83 61.67,285.83 63,283Z" fill="#000"/>
</g>
<defs><filter id="dt13" x="0" y="0" width="685" height="813" filterUnits="userSpaceOnUse" color-interpolation-filters="sRGB"><feGaussianBlur in="SourceAlpha" stdDeviation="2.4" result="d"/><feTurbulence type="fractalNoise" baseFrequency="1.6" numOctaves="1" seed="94" result="n"/><feComponentTransfer in="n" result="n2"><feFuncA type="linear" slope="2.75" intercept="-0.874"/></feComponentTransfer><feComposite in="d" in2="n2" operator="arithmetic" k1="0" k2="0.8" k3="-1" k4="-0.04" result="x"/><feComponentTransfer in="x" result="m"><feFuncA type="linear" slope="40" intercept="0"/></feComponentTransfer><feFlood flood-color="#c41200"/><feComposite operator="in" in2="m"/></filter></defs>
<g filter="url(#dt13)" opacity="0.6">
<path d="M66,256C66.83,252.83 69.33,249.25 72,247C74.67,244.75 78.67,243.42 82,242.5C85.33,241.58 88.83,241.42 92,241.5C95.17,241.58 98.5,241.92 101,243C103.5,244.08 105.42,245.67 107,248C108.58,250.33 110.17,254 110.5,257C110.83,260 110.08,263.33 109,266C107.92,268.67 106.5,271.33 104,273C101.5,274.67 97.67,275.67 94,276C90.33,276.33 85.67,275.67 82,275C78.33,274.33 74.5,273.5 72,272C69.5,270.5 68,268.67 67,266C66,263.33 65.17,259.17 66,256Z" fill="#000"/>
</g>
<defs><filter id="dt14" x="0" y="0" width="685" height="813" filterUnits="userSpaceOnUse" color-interpolation-filters="sRGB"><feGaussianBlur in="SourceAlpha" stdDeviation="2.4" result="d"/><feTurbulence type="fractalNoise" baseFrequency="1.6" numOctaves="1" seed="101" result="n"/><feComponentTransfer in="n" result="n2"><feFuncA type="linear" slope="2.75" intercept="-0.874"/></feComponentTransfer><feComposite in="d" in2="n2" operator="arithmetic" k1="0" k2="0.8" k3="-1" k4="-0.04" result="x"/><feComponentTransfer in="x" result="m"><feFuncA type="linear" slope="40" intercept="0"/></feComponentTransfer><feFlood flood-color="#f892a9"/><feComposite operator="in" in2="m"/></filter></defs>
<g filter="url(#dt14)" opacity="0.62">
<path d="M101,246C102.33,241.67 106.33,244.17 109,244C111.67,243.83 114.75,244 117,245C119.25,246 121.33,247.5 122.5,250C123.67,252.5 124,256.67 124,260C124,263.33 123.33,267.17 122.5,270C121.67,272.83 120.75,275.33 119,277C117.25,278.67 114.5,279.67 112,280C109.5,280.33 105.83,280.67 104,279C102.17,277.33 101.5,275.5 101,270C100.5,264.5 99.67,250.33 101,246Z" fill="#000"/>
</g>
<defs><filter id="dt15" x="0" y="0" width="685" height="813" filterUnits="userSpaceOnUse" color-interpolation-filters="sRGB"><feGaussianBlur in="SourceAlpha" stdDeviation="2.4" result="d"/><feTurbulence type="fractalNoise" baseFrequency="1.6" numOctaves="1" seed="108" result="n"/><feComponentTransfer in="n" result="n2"><feFuncA type="linear" slope="2.75" intercept="-0.874"/></feComponentTransfer><feComposite in="d" in2="n2" operator="arithmetic" k1="0" k2="0.8" k3="-1" k4="-0.04" result="x"/><feComponentTransfer in="x" result="m"><feFuncA type="linear" slope="40" intercept="0"/></feComponentTransfer><feFlood flood-color="#0f8a9a"/><feComposite operator="in" in2="m"/></filter></defs>
<g filter="url(#dt15)" opacity="0.55">
<path d="M70.5,222C71.58,219.33 73.75,216.75 76,215C78.25,213.25 81.33,212.5 84,211.5C86.67,210.5 89.33,209.5 92,209C94.67,208.5 97.33,208.33 100,208.5C102.67,208.67 105.33,209.08 108,210C110.67,210.92 113.83,212.33 116,214C118.17,215.67 119.75,217.33 121,220C122.25,222.67 123.17,226.67 123.5,230C123.83,233.33 124.08,237.33 123,240C121.92,242.67 119.5,245.17 117,246C114.5,246.83 111.5,245.67 108,245C104.5,244.33 100,242.33 96,242C92,241.67 87.67,242.33 84,243C80.33,243.67 76.33,246.5 74,246C71.67,245.5 70.75,242.5 70,240C69.25,237.5 69.42,234 69.5,231C69.58,228 69.42,224.67 70.5,222Z" fill="#000"/>
</g>
<defs><filter id="dt16" x="0" y="0" width="685" height="813" filterUnits="userSpaceOnUse" color-interpolation-filters="sRGB"><feGaussianBlur in="SourceAlpha" stdDeviation="2.4" result="d"/><feTurbulence type="fractalNoise" baseFrequency="1.6" numOctaves="1" seed="115" result="n"/><feComponentTransfer in="n" result="n2"><feFuncA type="linear" slope="2.75" intercept="-0.874"/></feComponentTransfer><feComposite in="d" in2="n2" operator="arithmetic" k1="0" k2="0.85" k3="-1" k4="-0.04" result="x"/><feComponentTransfer in="x" result="m"><feFuncA type="linear" slope="40" intercept="0"/></feComponentTransfer><feFlood flood-color="#8a3d9e"/><feComposite operator="in" in2="m"/></filter></defs>
<g filter="url(#dt16)" opacity="0.65">
<path d="M88,202C88.83,199.83 91.67,197.42 94,196C96.33,194.58 99.33,193.83 102,193.5C104.67,193.17 107.33,193.33 110,194C112.67,194.67 115.67,196 118,197.5C120.33,199 122.67,200.58 124,203C125.33,205.42 125.75,208.83 126,212C126.25,215.17 125.83,218.67 125.5,222C125.17,225.33 125.08,230.67 124,232C122.92,233.33 120.67,231.67 119,230C117.33,228.33 116.17,224.33 114,222C111.83,219.67 108.83,217.67 106,216C103.17,214.33 99.83,213.17 97,212C94.17,210.83 90.5,210.67 89,209C87.5,207.33 87.17,204.17 88,202Z" fill="#000"/>
</g>
<defs><filter id="dt17" x="0" y="0" width="685" height="813" filterUnits="userSpaceOnUse" color-interpolation-filters="sRGB"><feGaussianBlur in="SourceAlpha" stdDeviation="2.4" result="d"/><feTurbulence type="fractalNoise" baseFrequency="1.6" numOctaves="1" seed="122" result="n"/><feComponentTransfer in="n" result="n2"><feFuncA type="linear" slope="2.75" intercept="-0.874"/></feComponentTransfer><feComposite in="d" in2="n2" operator="arithmetic" k1="0" k2="0.5" k3="-1" k4="-0.04" result="x"/><feComponentTransfer in="x" result="m"><feFuncA type="linear" slope="40" intercept="0"/></feComponentTransfer><feFlood flood-color="#3a3825"/><feComposite operator="in" in2="m"/></filter></defs>
<g filter="url(#dt17)" opacity="0.8">
<path d="M124,230C125.33,228 129.17,226.17 132,225C134.83,223.83 138,223.33 141,223C144,222.67 148.08,222.17 150,223C151.92,223.83 152.17,225.5 152.5,228C152.83,230.5 152.75,235 152,238C151.25,241 150.33,244.5 148,246C145.67,247.5 141.33,247.33 138,247C134.67,246.67 130.33,245.67 128,244C125.67,242.33 124.67,239.33 124,237C123.33,234.67 122.67,232 124,230Z" fill="#000"/>
</g>
<defs><filter id="dt18" x="0" y="0" width="685" height="813" filterUnits="userSpaceOnUse" color-interpolation-filters="sRGB"><feGaussianBlur in="SourceAlpha" stdDeviation="2.4" result="d"/><feTurbulence type="fractalNoise" baseFrequency="1.6" numOctaves="1" seed="129" result="n"/><feComponentTransfer in="n" result="n2"><feFuncA type="linear" slope="2.75" intercept="-0.874"/></feComponentTransfer><feComposite in="d" in2="n2" operator="arithmetic" k1="0" k2="0.4" k3="-1" k4="-0.04" result="x"/><feComponentTransfer in="x" result="m"><feFuncA type="linear" slope="40" intercept="0"/></feComponentTransfer><feFlood flood-color="#a8dfcb"/><feComposite operator="in" in2="m"/></filter></defs>
<g filter="url(#dt18)" opacity="0.6">
<path d="M133,252C134.17,249.33 138.17,249.33 140,250C141.83,250.67 143.5,253.5 144,256C144.5,258.5 144,262.67 143,265C142,267.33 139.67,269.83 138,270C136.33,270.17 133.83,269 133,266C132.17,263 131.83,254.67 133,252Z" fill="#000"/>
</g>
<defs><filter id="dt19" x="0" y="0" width="685" height="813" filterUnits="userSpaceOnUse" color-interpolation-filters="sRGB"><feGaussianBlur in="SourceAlpha" stdDeviation="2.4" result="d"/><feTurbulence type="fractalNoise" baseFrequency="1.6" numOctaves="1" seed="136" result="n"/><feComponentTransfer in="n" result="n2"><feFuncA type="linear" slope="2.75" intercept="-0.874"/></feComponentTransfer><feComposite in="d" in2="n2" operator="arithmetic" k1="0" k2="0.7" k3="-1" k4="-0.04" result="x"/><feComponentTransfer in="x" result="m"><feFuncA type="linear" slope="40" intercept="0"/></feComponentTransfer><feFlood flood-color="#82d0dc"/><feComposite operator="in" in2="m"/></filter></defs>
<g filter="url(#dt19)" opacity="0.62">
<path d="M104,286C105,283.5 107.67,280.67 110,279C112.33,277.33 115.33,276.5 118,276C120.67,275.5 123.33,275.67 126,276C128.67,276.33 131.5,276.83 134,278C136.5,279.17 139,280.67 141,283C143,285.33 145,289 146,292C147,295 147.33,298.17 147,301C146.67,303.83 145.83,307.33 144,309C142.17,310.67 139,311 136,311C133,311 129.33,309.83 126,309C122.67,308.17 119,307.33 116,306C113,304.67 110,303 108,301C106,299 104.67,296.5 104,294C103.33,291.5 103,288.5 104,286Z" fill="#000"/>
</g>
<path d="M64.7,208.1C63.63,208.83 60.33,211.28 58.3,212.5C56.27,213.72 54.28,214.42 52.5,215.4C50.72,216.38 48.42,217.9 47.6,218.4" fill="none" stroke="#111" stroke-width="1"/>
<path d="M56.48,213.41L59.29,209.92L60.96,213.26Z" fill="#000"/>
<path d="M68.1,214C66.63,215.05 60.85,218.6 59.3,220.3C57.75,222 58.8,222.73 58.8,224.2C58.8,225.67 60.03,228.12 59.3,229.1C58.57,230.08 55.22,229.93 54.4,230.1" fill="none" stroke="#111" stroke-width="1"/>
<path d="M59.04,222.32L57.7,218.04L61.41,218.51Z" fill="#000"/>
<path d="M48.5,226.2C48.75,228.57 49.75,237.47 50,240.4C50.25,243.33 50,243.23 50,243.8" fill="none" stroke="#111" stroke-width="1"/>
<path d="M50,242.44L48.13,238.36L51.87,238.36Z" fill="#000"/>
<path d="M37.8,233C38.28,234.47 39.57,239.18 40.7,241.8C41.83,244.42 43.45,246.17 44.6,248.7C45.75,251.23 46.45,254.5 47.6,257C48.75,259.5 49.72,260.47 51.5,263.7C53.28,266.93 56.02,272.82 58.3,276.4C60.58,279.98 62.42,283.4 65.2,285.2C67.98,287 71.1,285.57 75,287.2C78.9,288.83 86.33,293.7 88.6,295" fill="none" stroke="#111" stroke-width="1"/>
<path d="M67.2,285.61L62.83,286.62L63.58,282.96Z" fill="#000"/>
<path d="M55.9,259.8C55.9,258.17 55.9,253.4 55.9,250C55.9,246.6 55.9,241.17 55.9,239.4" fill="none" stroke="#111" stroke-width="1"/>
<path d="M55.9,247.96L57.77,252.04L54.03,252.04Z" fill="#000"/>
<path d="M61.3,241.8C61.78,242.95 63.63,246.17 64.2,248.7C64.77,251.23 64.78,254.67 64.7,257C64.62,259.33 63.62,259.47 63.7,262.7C63.78,265.93 64.95,274.12 65.2,276.4" fill="none" stroke="#111" stroke-width="1"/>
<path d="M63.92,264.73L61.62,260.88L65.34,260.47Z" fill="#000"/>
<path d="M70,244.8C70.25,242.83 70.35,235.62 71.5,233C72.65,230.38 74.87,230.48 76.9,229.1C78.93,227.72 82.02,225.3 83.7,224.7C85.38,224.1 86.45,225.37 87,225.5" fill="none" stroke="#111" stroke-width="1"/>
<path d="M73.15,231.81L70.94,235.71L68.75,232.68Z" fill="#000"/>
<path d="M80.8,217.4C81.78,216.92 84.33,215.48 86.7,214.5C89.07,213.52 92.5,212.65 95,211.5C97.5,210.35 99.6,208.25 101.7,207.6C103.8,206.95 106.62,207.6 107.6,207.6" fill="none" stroke="#111" stroke-width="1"/>
<path d="M86.7,207.6C87.52,207.27 90.08,206.42 91.6,205.6C93.12,204.78 93.95,203.83 95.8,202.7C97.65,201.57 99.92,199.62 102.7,198.8C105.48,197.98 109.57,197.32 112.5,197.8C115.43,198.28 118.1,199.9 120.3,201.7C122.5,203.5 124.8,207.45 125.7,208.6" fill="none" stroke="#111" stroke-width="1"/>
<path d="M104.73,198.59L100.86,200.87L100.48,197.15Z" fill="#000"/>
<path d="M72,256.5C73.47,255.2 77.7,250.9 80.8,248.7C83.9,246.5 87.77,244.93 90.6,243.3C93.43,241.67 95.78,238.65 97.8,238.9C99.82,239.15 101.88,243.82 102.7,244.8" fill="none" stroke="#111" stroke-width="1"/>
<path d="M92.34,242.24L89.83,245.96L87.88,242.77Z" fill="#000"/>
<path d="M115.4,206.6C116.05,207.58 118.25,210.38 119.3,212.5C120.35,214.62 121.22,216.53 121.7,219.3C122.18,222.07 122.2,225.5 122.2,229.1C122.2,232.7 121.85,236.25 121.7,240.9C121.55,245.55 121.37,254.32 121.3,257" fill="none" stroke="#111" stroke-width="1"/>
<path d="M122.11,231.14L120.42,226.98L124.15,227.14Z" fill="#000"/>
<path d="M88,213.5C89.63,213.33 95.03,212.5 97.8,212.5C100.57,212.5 102.15,212.37 104.6,213.5C107.05,214.63 110.38,217.02 112.5,219.3C114.62,221.58 116,223.93 117.3,227.2C118.6,230.47 119.63,235.32 120.3,238.9C120.97,242.48 121.13,247.07 121.3,248.7" fill="none" stroke="#111" stroke-width="1"/>
<path d="M106.24,214.71L101.85,213.8L104.06,210.79Z" fill="#000"/>
<path d="M105.6,221.3C105.93,221.95 106.62,222.75 107.6,225.2C108.58,227.65 110.53,232.42 111.5,236C112.47,239.58 113.08,244.92 113.4,246.7" fill="none" stroke="#111" stroke-width="1"/>
<path d="M106.53,223.12L103.01,220.34L106.33,218.63Z" fill="#000"/>
<path d="M90,222.3C90.8,223.77 93.18,228.33 94.8,231.1C96.42,233.87 98.38,236.62 99.7,238.9C101.02,241.18 102.2,243.82 102.7,244.8" fill="none" stroke="#111" stroke-width="1"/>
<path d="M95.89,232.83L92.13,230.37L95.3,228.38Z" fill="#000"/>
<path d="M102.7,231.1C103.18,232.08 104.3,234.4 105.6,237C106.9,239.6 109.68,245.08 110.5,246.7" fill="none" stroke="#111" stroke-width="1"/>
<path d="M103.6,232.93L100.12,230.09L103.48,228.44Z" fill="#000"/>
<path d="M95.8,248.7C94.83,247.72 90.97,243.78 90,242.8" fill="none" stroke="#111" stroke-width="1"/>
<path d="M88.57,241.35L92.76,242.94L90.1,245.57Z" fill="#000"/>
<path d="M97.8,250C99.43,251.3 105,255.52 107.6,257.8C110.2,260.08 112.43,262.72 113.4,263.7" fill="none" stroke="#111" stroke-width="1"/>
<path d="M34.8,273C36.12,275.68 39.27,284.62 42.7,289.1C46.13,293.58 53.28,298.1 55.4,299.9" fill="none" stroke="#111" stroke-width="1"/>
<path d="M44.25,290.42L39.93,289.2L42.36,286.35Z" fill="#000"/>
<path d="M37.8,266.6C39.92,269.22 46.92,278.55 50.5,282.3C54.08,286.05 57.83,287.32 59.3,289.1C60.77,290.88 59.3,292.35 59.3,293" fill="none" stroke="#111" stroke-width="1"/>
<path d="M52.11,283.55L47.74,282.53L50.03,279.57Z" fill="#000"/>
<path d="M69.1,261.7C69.92,260.4 72.37,255.85 74,253.9C75.63,251.95 77.12,249.75 78.9,250C80.68,250.25 82.75,254.1 84.7,255.4C86.65,256.7 89.62,257.4 90.6,257.8" fill="none" stroke="#111" stroke-width="1"/>
<path d="M86.59,256.17L82.11,256.36L83.51,252.9Z" fill="#000"/>
<path d="M69.1,268.6C70.08,268.18 72.4,266.75 75,266.1C77.6,265.45 81.37,265.1 84.7,264.7C88.03,264.3 92,263.38 95,263.7C98,264.02 101.42,266.12 102.7,266.6" fill="none" stroke="#111" stroke-width="1"/>
<path d="M86.73,264.5L82.85,266.76L82.49,263.04Z" fill="#000"/>
<path d="M72,276.4C73.47,276.15 78.13,275.38 80.8,274.9C83.47,274.42 84.52,273.65 88,273.5C91.48,273.35 99.42,273.92 101.7,274" fill="none" stroke="#111" stroke-width="1"/>
<path d="M82.8,274.51L79.15,277.12L78.44,273.45Z" fill="#000"/>
<path d="M89,283.3C90.13,282.97 93.12,281.8 95.8,281.3C98.48,280.8 101.67,280.95 105.1,280.3C108.53,279.65 113.55,277.23 116.4,277.4C119.25,277.57 120.58,279.35 122.2,281.3C123.82,283.25 125.28,286.82 126.1,289.1C126.92,291.38 126.93,294.02 127.1,295" fill="none" stroke="#111" stroke-width="1"/>
<path d="M107.08,279.79L103.59,282.62L102.66,279Z" fill="#000"/>
<path d="M100.7,291.1C101.77,291.27 103.83,291.45 107.1,292.1C110.37,292.75 118.1,294.52 120.3,295" fill="none" stroke="#111" stroke-width="1"/>
<path d="M109.09,292.54L104.71,293.49L105.51,289.84Z" fill="#000"/>
<path d="M91.9,299.9C94.1,300.13 99.72,300.73 105.1,301.3C110.48,301.87 121.02,302.97 124.2,303.3" fill="none" stroke="#111" stroke-width="1"/>
<path d="M107.13,301.51L102.88,302.95L103.27,299.23Z" fill="#000"/>
<path d="M117.3,308.2C115.02,307.95 105.88,306.95 103.6,306.7" fill="none" stroke="#111" stroke-width="1"/>
<path d="M101.57,306.48L105.83,305.06L105.42,308.78Z" fill="#000"/>
<path d="M127.1,306.2C127.43,306.7 128.77,308.7 129.1,309.2" fill="none" stroke="#111" stroke-width="1"/>
<path d="M130.23,310.9L126.41,308.54L129.52,306.47Z" fill="#000"/>
<path d="M134,250.5C134,250.9 134,252.5 134,252.9" fill="none" stroke="#111" stroke-width="1"/>
<path d="M134,254.94L132.13,250.86L135.87,250.86Z" fill="#000"/>
<path d="M131,267.1C131.67,267.58 134.18,267.97 135,270C135.82,272.03 135.75,275.3 135.9,279.3C136.05,283.3 136.55,290.08 135.9,294C135.25,297.92 132.65,301.33 132,302.8" fill="none" stroke="#111" stroke-width="1"/>
<path d="M135.2,272.03L132.94,268.15L136.66,267.79Z" fill="#000"/>
<path d="M141.3,281.3C140.82,282.93 139.13,288.65 138.4,291.1C137.67,293.55 137.15,295.18 136.9,296" fill="none" stroke="#111" stroke-width="1"/>
<path d="M137.8,293.05L137.21,288.6L140.79,289.7Z" fill="#000"/>
<path d="M142.3,305.3C141.32,305.7 137.38,307.3 136.4,307.7" fill="none" stroke="#111" stroke-width="1"/>
<path d="M134.51,308.47L137.59,305.2L138.99,308.66Z" fill="#000"/>
<path d="M142.8,240.9C144.1,240.25 149.3,237.65 150.6,237" fill="none" stroke="#111" stroke-width="1"/>
<path d="M152.42,236.09L149.61,239.58L147.94,236.24Z" fill="#000"/>
<path d="M121.3,250C121.45,251.8 122.05,259 122.2,260.8" fill="none" stroke="#111" stroke-width="1"/>
<rect x="29.4" y="191.5" width="123.4" height="123.4" fill="none" stroke="#555" stroke-width="0.6"/>
<line x1="27.8" y1="193.6" x2="29.4" y2="193.6" stroke="#555" stroke-width="0.5"/>
<text x="27" y="195.7" font-size="6" text-anchor="end" fill="#4d4d4d" stroke="#4d4d4d" stroke-width="0.17">6</text>
<line x1="27.8" y1="224.5" x2="29.4" y2="224.5" stroke="#555" stroke-width="0.5"/>
<text x="27" y="226.6" font-size="6" text-anchor="end" fill="#4d4d4d" stroke="#4d4d4d" stroke-width="0.17">3</text>
<line x1="27.8" y1="254.6" x2="29.4" y2="254.6" stroke="#555" stroke-width="0.5"/>
<text x="27" y="256.7" font-size="6" text-anchor="end" fill="#4d4d4d" stroke="#4d4d4d" stroke-width="0.17">0</text>
<line x1="27.8" y1="285" x2="29.4" y2="285" stroke="#555" stroke-width="0.5"/>
<text x="27" y="287.1" font-size="6" text-anchor="end" fill="#4d4d4d" stroke="#4d4d4d" stroke-width="0.17">−3</text>
<line x1="51" y1="314.9" x2="51" y2="316.5" stroke="#555" stroke-width="0.5"/>
<text x="51" y="322.5" font-size="6" text-anchor="middle" fill="#4d4d4d" stroke="#4d4d4d" stroke-width="0.17">−4</text>
<line x1="89" y1="314.9" x2="89" y2="316.5" stroke="#555" stroke-width="0.5"/>
<text x="89" y="322.5" font-size="6" text-anchor="middle" fill="#4d4d4d" stroke="#4d4d4d" stroke-width="0.17">0</text>
<line x1="127" y1="314.9" x2="127" y2="316.5" stroke="#555" stroke-width="0.5"/>
<text x="127" y="322.5" font-size="6" text-anchor="middle" fill="#4d4d4d" stroke="#4d4d4d" stroke-width="0.17">4</text>
<text x="92.1" y="330.4" font-size="6.9" text-anchor="middle" font-weight="bold" stroke="#000" stroke-width="0.18">UMAP_1</text>
<text x="16.2" y="253.2" font-size="6.9" text-anchor="middle" font-weight="bold" stroke="#000" stroke-width="0.18" transform="rotate(-90 16.2 253.2)">UMAP_2</text>
<rect x="44.44" y="219.24" width="5.71" height="6.32" fill="#fff" stroke="#555" stroke-width="0.45" rx="0.8"/>
<text x="47.3" y="224.42" font-size="5.6" text-anchor="middle" font-weight="bold" stroke="#000" stroke-width="0.17">6</text>
<rect x="107.24" y="203.84" width="5.71" height="6.32" fill="#fff" stroke="#555" stroke-width="0.45" rx="0.8"/>
<text x="110.1" y="209.02" font-size="5.6" text-anchor="middle" font-weight="bold" stroke="#000" stroke-width="0.17">4</text>
<rect x="96.04" y="221.24" width="5.71" height="6.32" fill="#fff" stroke="#555" stroke-width="0.45" rx="0.8"/>
<text x="98.9" y="226.42" font-size="5.6" text-anchor="middle" font-weight="bold" stroke="#000" stroke-width="0.17">3</text>
<rect x="138.84" y="232.64" width="5.71" height="6.32" fill="#fff" stroke="#555" stroke-width="0.45" rx="0.8"/>
<text x="141.7" y="237.82" font-size="5.6" text-anchor="middle" font-weight="bold" stroke="#000" stroke-width="0.17">9</text>
<rect x="134.89" y="256.34" width="8.83" height="6.32" fill="#fff" stroke="#555" stroke-width="0.45" rx="0.8"/>
<text x="139.3" y="261.52" font-size="5.6" text-anchor="middle" font-weight="bold" stroke="#000" stroke-width="0.17">10</text>
<rect x="89.14" y="254.84" width="5.71" height="6.32" fill="#fff" stroke="#555" stroke-width="0.45" rx="0.8"/>
<text x="92" y="260.02" font-size="5.6" text-anchor="middle" font-weight="bold" stroke="#000" stroke-width="0.17">2</text>
<rect x="110.84" y="265.24" width="5.71" height="6.32" fill="#fff" stroke="#555" stroke-width="0.45" rx="0.8"/>
<text x="113.7" y="270.42" font-size="5.6" text-anchor="middle" font-weight="bold" stroke="#000" stroke-width="0.17">8</text>
<rect x="55.64" y="268.94" width="5.71" height="6.32" fill="#fff" stroke="#555" stroke-width="0.45" rx="0.8"/>
<text x="58.5" y="274.12" font-size="5.6" text-anchor="middle" font-weight="bold" stroke="#000" stroke-width="0.17">1</text>
<rect x="83.64" y="281.74" width="5.71" height="6.32" fill="#fff" stroke="#555" stroke-width="0.45" rx="0.8"/>
<text x="86.5" y="286.92" font-size="5.6" text-anchor="middle" font-weight="bold" stroke="#000" stroke-width="0.17">5</text>
<rect x="130.14" y="290.84" width="5.71" height="6.32" fill="#fff" stroke="#555" stroke-width="0.45" rx="0.8"/>
<text x="133" y="296.02" font-size="5.6" text-anchor="middle" font-weight="bold" stroke="#000" stroke-width="0.17">7</text>
<defs><filter id="dt20" x="0" y="0" width="685" height="813" filterUnits="userSpaceOnUse" color-interpolation-filters="sRGB"><feGaussianBlur in="SourceAlpha" stdDeviation="2.4" result="d"/><feTurbulence type="fractalNoise" baseFrequency="1.6" numOctaves="1" seed="143" result="n"/><feComponentTransfer in="n" result="n2"><feFuncA type="linear" slope="2.75" intercept="-0.874"/></feComponentTransfer><feComposite in="d" in2="n2" operator="arithmetic" k1="0" k2="0.75" k3="-1" k4="-0.04" result="x"/><feComponentTransfer in="x" result="m"><feFuncA type="linear" slope="40" intercept="0"/></feComponentTransfer><feFlood flood-color="#fa5c46"/><feComposite operator="in" in2="m"/></filter></defs>
<g filter="url(#dt20)" opacity="0.68">
<path d="M182,214C183.33,210.5 187.17,211.75 190,211C192.83,210.25 195.5,209.92 199,209.5C202.5,209.08 208,208.25 211,208.5C214,208.75 216.08,208.92 217,211C217.92,213.08 217,217.33 216.5,221C216,224.67 214.92,229.33 214,233C213.08,236.67 212.17,239.83 211,243C209.83,246.17 208.83,248.83 207,252C205.17,255.17 202.5,259.5 200,262C197.5,264.5 194.33,267 192,267C189.67,267 187.58,264.83 186,262C184.42,259.17 183.17,255 182.5,250C181.83,245 182.08,238 182,232C181.92,226 180.67,217.5 182,214Z" fill="#000"/>
</g>
<defs><filter id="dt21" x="0" y="0" width="685" height="813" filterUnits="userSpaceOnUse" color-interpolation-filters="sRGB"><feGaussianBlur in="SourceAlpha" stdDeviation="2.4" result="d"/><feTurbulence type="fractalNoise" baseFrequency="1.6" numOctaves="1" seed="150" result="n"/><feComponentTransfer in="n" result="n2"><feFuncA type="linear" slope="2.75" intercept="-0.874"/></feComponentTransfer><feComposite in="d" in2="n2" operator="arithmetic" k1="0" k2="0.75" k3="-1" k4="-0.04" result="x"/><feComponentTransfer in="x" result="m"><feFuncA type="linear" slope="40" intercept="0"/></feComponentTransfer><feFlood flood-color="#0f8a9a"/><feComposite operator="in" in2="m"/></filter></defs>
<g filter="url(#dt21)" opacity="0.6">
<path d="M216,224C217.5,221 221.33,220 224,218C226.67,216 229.5,214.17 232,212C234.5,209.83 236.33,206.83 239,205C241.67,203.17 244.83,201.17 248,201C251.17,200.83 255,202.17 258,204C261,205.83 263.83,208.5 266,212C268.17,215.5 270,221.17 271,225C272,228.83 272.83,232 272,235C271.17,238 268.67,241.17 266,243C263.33,244.83 259.67,245.5 256,246C252.33,246.5 248,246.17 244,246C240,245.83 236,245.33 232,245C228,244.67 222.83,245.5 220,244C217.17,242.5 215.67,239.33 215,236C214.33,232.67 214.5,227 216,224Z" fill="#000"/>
</g>
<g filter="url(#dt16)" opacity="0.7">
<path d="M239,196C239.67,193.83 243.5,192.75 246,192C248.5,191.25 251.33,191.33 254,191.5C256.67,191.67 259.67,192.08 262,193C264.33,193.92 266.17,195.33 268,197C269.83,198.67 271.83,200.5 273,203C274.17,205.5 274.83,208.83 275,212C275.17,215.17 274.67,219.33 274,222C273.33,224.67 272.33,228 271,228C269.67,228 268.17,224.67 266,222C263.83,219.33 260.67,214.5 258,212C255.33,209.5 252.67,208.17 250,207C247.33,205.83 243.83,206.83 242,205C240.17,203.17 238.33,198.17 239,196Z" fill="#000"/>
</g>
<defs><filter id="dt22" x="0" y="0" width="685" height="813" filterUnits="userSpaceOnUse" color-interpolation-filters="sRGB"><feGaussianBlur in="SourceAlpha" stdDeviation="2.4" result="d"/><feTurbulence type="fractalNoise" baseFrequency="1.6" numOctaves="1" seed="157" result="n"/><feComponentTransfer in="n" result="n2"><feFuncA type="linear" slope="2.75" intercept="-0.874"/></feComponentTransfer><feComposite in="d" in2="n2" operator="arithmetic" k1="0" k2="0.92" k3="-1" k4="-0.04" result="x"/><feComponentTransfer in="x" result="m"><feFuncA type="linear" slope="40" intercept="0"/></feComponentTransfer><feFlood flood-color="#c41200"/><feComposite operator="in" in2="m"/></filter></defs>
<g filter="url(#dt22)" opacity="0.8">
<path d="M212,254C212,251 215.33,249.58 218,248C220.67,246.42 224.33,245.33 228,244.5C231.67,243.67 236.33,243.33 240,243C243.67,242.67 247,242 250,242.5C253,243 256,243.92 258,246C260,248.08 261.33,251.67 262,255C262.67,258.33 262.5,262.5 262,266C261.5,269.5 260.33,273.33 259,276C257.67,278.67 256.17,280.83 254,282C251.83,283.17 249,283.17 246,283C243,282.83 239.33,282.33 236,281C232.67,279.67 229,277.5 226,275C223,272.5 220.33,269.5 218,266C215.67,262.5 212,257 212,254Z" fill="#000"/>
</g>
<defs><filter id="dt23" x="0" y="0" width="685" height="813" filterUnits="userSpaceOnUse" color-interpolation-filters="sRGB"><feGaussianBlur in="SourceAlpha" stdDeviation="2.4" result="d"/><feTurbulence type="fractalNoise" baseFrequency="1.6" numOctaves="1" seed="164" result="n"/><feComponentTransfer in="n" result="n2"><feFuncA type="linear" slope="2.75" intercept="-0.874"/></feComponentTransfer><feComposite in="d" in2="n2" operator="arithmetic" k1="0" k2="0.85" k3="-1" k4="-0.04" result="x"/><feComponentTransfer in="x" result="m"><feFuncA type="linear" slope="40" intercept="0"/></feComponentTransfer><feFlood flood-color="#f892a9"/><feComposite operator="in" in2="m"/></filter></defs>
<g filter="url(#dt23)" opacity="0.68">
<path d="M258,248C259.5,246 263.75,248.33 266,250C268.25,251.67 270.5,255 271.5,258C272.5,261 272.08,264.67 272,268C271.92,271.33 272,275.33 271,278C270,280.67 268,282.83 266,284C264,285.17 260.67,286.5 259,285C257.33,283.5 256.33,278.83 256,275C255.67,271.17 256.67,266.5 257,262C257.33,257.5 256.5,250 258,248Z" fill="#000"/>
</g>
<defs><filter id="dt24" x="0" y="0" width="685" height="813" filterUnits="userSpaceOnUse" color-interpolation-filters="sRGB"><feGaussianBlur in="SourceAlpha" stdDeviation="2.4" result="d"/><feTurbulence type="fractalNoise" baseFrequency="1.6" numOctaves="1" seed="171" result="n"/><feComponentTransfer in="n" result="n2"><feFuncA type="linear" slope="2.75" intercept="-0.874"/></feComponentTransfer><feComposite in="d" in2="n2" operator="arithmetic" k1="0" k2="0.85" k3="-1" k4="-0.04" result="x"/><feComponentTransfer in="x" result="m"><feFuncA type="linear" slope="40" intercept="0"/></feComponentTransfer><feFlood flood-color="#56908f"/><feComposite operator="in" in2="m"/></filter></defs>
<g filter="url(#dt24)" opacity="0.65">
<path d="M218,285C219.17,281 223,281 226,280C229,279 232.67,279 236,279C239.33,279 243.33,279.17 246,280C248.67,280.83 250.33,282 252,284C253.67,286 255.67,289.17 256,292C256.33,294.83 255.5,298.5 254,301C252.5,303.5 249.67,305.42 247,307C244.33,308.58 241.5,310 238,310.5C234.5,311 229.17,311.08 226,310C222.83,308.92 220.33,308.17 219,304C217.67,299.83 216.83,289 218,285Z" fill="#000"/>
</g>
<defs><filter id="dt25" x="0" y="0" width="685" height="813" filterUnits="userSpaceOnUse" color-interpolation-filters="sRGB"><feGaussianBlur in="SourceAlpha" stdDeviation="2.4" result="d"/><feTurbulence type="fractalNoise" baseFrequency="1.6" numOctaves="1" seed="178" result="n"/><feComponentTransfer in="n" result="n2"><feFuncA type="linear" slope="2.75" intercept="-0.874"/></feComponentTransfer><feComposite in="d" in2="n2" operator="arithmetic" k1="0" k2="1" k3="-1" k4="-0.04" result="x"/><feComponentTransfer in="x" result="m"><feFuncA type="linear" slope="40" intercept="0"/></feComponentTransfer><feFlood flood-color="#ff6a00"/><feComposite operator="in" in2="m"/></filter></defs>
<g filter="url(#dt25)" opacity="0.9">
<path d="M191.4,267.1C192.98,264.5 196.15,262.75 199,261C201.85,259.25 205.65,256.7 208.5,256.6C211.35,256.5 213.88,258.18 216.1,260.4C218.32,262.62 220.23,266.27 221.8,269.9C223.37,273.53 225.03,278.25 225.5,282.2C225.97,286.15 225.38,290.12 224.6,293.6C223.82,297.08 222.7,300.88 220.8,303.1C218.9,305.32 216.05,306.9 213.2,306.9C210.35,306.9 206.87,305 203.7,303.1C200.53,301.2 196.42,298.33 194.2,295.5C191.98,292.67 191.18,289.25 190.4,286.1C189.62,282.95 189.33,279.77 189.5,276.6C189.67,273.43 189.82,269.7 191.4,267.1Z" fill="#000"/>
</g>
<defs><filter id="dt26" x="0" y="0" width="685" height="813" filterUnits="userSpaceOnUse" color-interpolation-filters="sRGB"><feGaussianBlur in="SourceAlpha" stdDeviation="2.4" result="d"/><feTurbulence type="fractalNoise" baseFrequency="1.6" numOctaves="1" seed="185" result="n"/><feComponentTransfer in="n" result="n2"><feFuncA type="linear" slope="2.75" intercept="-0.874"/></feComponentTransfer><feComposite in="d" in2="n2" operator="arithmetic" k1="0" k2="0.55" k3="-1" k4="-0.04" result="x"/><feComponentTransfer in="x" result="m"><feFuncA type="linear" slope="40" intercept="0"/></feComponentTransfer><feFlood flood-color="#3a3825"/><feComposite operator="in" in2="m"/></filter></defs>
<g filter="url(#dt26)" opacity="0.8">
<path d="M277,228C278.5,225.67 282.83,226.17 286,226C289.17,225.83 293.17,226.33 296,227C298.83,227.67 301.75,227.83 303,230C304.25,232.17 303.67,237 303.5,240C303.33,243 303.92,246.33 302,248C300.08,249.67 295.33,250 292,250C288.67,250 284.5,249.67 282,248C279.5,246.33 277.83,243.33 277,240C276.17,236.67 275.5,230.33 277,228Z" fill="#000"/>
</g>
<g filter="url(#dt18)" opacity="0.6">
<path d="M282,252C283,249.67 288,251 290,252C292,253 293.5,255.67 294,258C294.5,260.33 293.83,264 293,266C292.17,268 290.5,270 289,270C287.5,270 285.17,269 284,266C282.83,263 281,254.33 282,252Z" fill="#000"/>
</g>
<defs><filter id="dt27" x="0" y="0" width="685" height="813" filterUnits="userSpaceOnUse" color-interpolation-filters="sRGB"><feGaussianBlur in="SourceAlpha" stdDeviation="2.4" result="d"/><feTurbulence type="fractalNoise" baseFrequency="1.6" numOctaves="1" seed="192" result="n"/><feComponentTransfer in="n" result="n2"><feFuncA type="linear" slope="2.75" intercept="-0.874"/></feComponentTransfer><feComposite in="d" in2="n2" operator="arithmetic" k1="0" k2="0.65" k3="-1" k4="-0.04" result="x"/><feComponentTransfer in="x" result="m"><feFuncA type="linear" slope="40" intercept="0"/></feComponentTransfer><feFlood flood-color="#82d0dc"/><feComposite operator="in" in2="m"/></filter></defs>
<g filter="url(#dt27)" opacity="0.62">
<path d="M258,292C259.67,289.5 263.33,287.83 266,287C268.67,286.17 271.33,286.83 274,287C276.67,287.17 279.67,286.67 282,288C284.33,289.33 286.17,292.5 288,295C289.83,297.5 292.17,300.5 293,303C293.83,305.5 294.5,308.5 293,310C291.5,311.5 287.5,311.67 284,312C280.5,312.33 275.67,312.5 272,312C268.33,311.5 264.67,310.67 262,309C259.33,307.33 256.67,304.83 256,302C255.33,299.17 256.33,294.5 258,292Z" fill="#000"/>
</g>
<path d="M199,208.4C201.05,208.08 207.82,206.27 211.3,206.5C214.78,206.73 218.47,209.25 219.9,209.8" fill="none" stroke="#111" stroke-width="1"/>
<path d="M213.2,207.23L208.73,207.52L210.07,204.02Z" fill="#000"/>
<path d="M219.9,214.1C218.78,214.18 215.58,214.2 213.2,214.6C210.82,215 209.72,216.18 205.6,216.5C201.48,216.82 191.82,216.82 188.5,216.5C185.18,216.18 186.17,214.92 185.7,214.6" fill="none" stroke="#111" stroke-width="1"/>
<path d="M203.56,216.5L207.64,214.63L207.64,218.37Z" fill="#000"/>
<path d="M186.6,220.3C187.55,221.72 191.03,226.75 192.3,228.8C193.57,230.85 193.88,231.97 194.2,232.6" fill="none" stroke="#111" stroke-width="1"/>
<path d="M193.21,230.62L189.72,227.81L193.06,226.14Z" fill="#000"/>
<path d="M216,228.8C214.75,227.77 210.87,223.7 208.5,222.6C206.13,221.5 202.92,222.27 201.8,222.2" fill="none" stroke="#111" stroke-width="1"/>
<path d="M206.46,222.48L210.65,220.85L210.42,224.59Z" fill="#000"/>
<path d="M207.5,234.5C209.88,235.28 218.8,237.45 221.8,239.2C224.8,240.95 223.62,245.32 225.5,245C227.38,244.68 231.83,238.58 233.1,237.3" fill="none" stroke="#111" stroke-width="1"/>
<path d="M222.9,240.92L219.13,238.49L222.28,236.47Z" fill="#000"/>
<path d="M225.5,218.4C226.45,219.03 229.3,221.42 231.2,222.2C233.1,222.98 235.15,223.73 236.9,223.1C238.65,222.47 240.23,220.25 241.7,218.4C243.17,216.55 245.03,213.07 245.7,212" fill="none" stroke="#111" stroke-width="1"/>
<path d="M233.22,222.52L228.89,223.73L229.48,220.03Z" fill="#000"/>
<path d="M239.8,197C240.67,196.68 243.07,194.87 245,195.1C246.93,195.33 250.33,197.85 251.4,198.4" fill="none" stroke="#111" stroke-width="1"/>
<path d="M246.81,196.03L242.33,195.83L244.04,192.5Z" fill="#000"/>
<path d="M265.6,193.2C264.18,193.2 259.32,193.2 257.1,193.2C254.88,193.2 253.1,193.2 252.3,193.2" fill="none" stroke="#111" stroke-width="1"/>
<path d="M255.06,193.2L259.14,191.33L259.14,195.07Z" fill="#000"/>
<path d="M249.5,198.4C251.08,198.08 256.15,196.65 259,196.5C261.85,196.35 264.23,196.87 266.6,197.5C268.97,198.13 272.1,199.83 273.2,200.3" fill="none" stroke="#111" stroke-width="1"/>
<path d="M240,221.2C240.78,219.93 242.8,216.45 244.7,213.6C246.6,210.75 248.55,206.78 251.4,204.1C254.25,201.42 260.07,198.6 261.8,197.5" fill="none" stroke="#111" stroke-width="1"/>
<path d="M245.88,211.93L245.05,216.34L242,214.19Z" fill="#000"/>
<path d="M261.8,209.8C260.53,211.55 256.42,216.97 254.2,220.3C251.98,223.63 249.92,226.97 248.5,229.8C247.08,232.63 246.17,236.05 245.7,237.3" fill="none" stroke="#111" stroke-width="1"/>
<path d="M277,213.6C277.63,215.03 280.17,220.77 280.8,222.2" fill="none" stroke="#111" stroke-width="1"/>
<path d="M277.82,215.47L274.47,212.49L277.89,210.98Z" fill="#000"/>
<path d="M266.6,207.9C267.07,209.33 268.3,213.48 269.4,216.5C270.5,219.52 271.45,222.53 273.2,226C274.95,229.47 278,233.52 279.9,237.3C281.8,241.08 283.82,246.8 284.6,248.7" fill="none" stroke="#111" stroke-width="1"/>
<path d="M274.24,227.75L270.55,225.2L273.77,223.29Z" fill="#000"/>
<path d="M257.1,222.2C258.2,223.15 262.28,225.85 263.7,227.9C265.12,229.95 264.97,231.65 265.6,234.5C266.23,237.35 267.1,242.08 267.5,245C267.9,247.92 267.92,250.83 268,252" fill="none" stroke="#111" stroke-width="1"/>
<path d="M265.96,236.51L263.4,232.83L267.08,232.16Z" fill="#000"/>
<path d="M250.4,233.5C251.52,234.13 255.98,236.67 257.1,237.3" fill="none" stroke="#111" stroke-width="1"/>
<path d="M252.17,234.51L247.7,234.12L249.55,230.87Z" fill="#000"/>
<path d="M290.3,226C290.93,227.1 292.37,230.08 294.1,232.6C295.83,235.12 299.6,239.68 300.7,241.1" fill="none" stroke="#111" stroke-width="1"/>
<path d="M295.35,234.21L291.37,232.14L294.33,229.84Z" fill="#000"/>
<path d="M301.95,242.71L297.97,240.64L300.93,238.34Z" fill="#000"/>
<path d="M181.9,230.7C182.22,232.75 183.4,239.37 183.8,243C184.2,246.63 184.22,250.92 184.3,252.5" fill="none" stroke="#111" stroke-width="1"/>
<path d="M183.91,245.04L181.83,241.06L185.56,240.86Z" fill="#000"/>
<path d="M188.5,239.2C189.13,241.42 191.67,250.28 192.3,252.5" fill="none" stroke="#111" stroke-width="1"/>
<path d="M192.86,254.46L189.94,251.05L193.54,250.02Z" fill="#000"/>
<path d="M192.3,255.7C192.78,256.65 194.08,259.98 195.2,261.4C196.32,262.82 197.73,264.83 199,264.2C200.27,263.57 202.13,259.97 202.8,257.6C203.47,255.23 202.97,251.27 203,250" fill="none" stroke="#111" stroke-width="1"/>
<path d="M191.4,266.1C191.17,267.53 190.32,271.53 190,274.7C189.68,277.87 188.8,281.63 189.5,285.1C190.2,288.57 191.83,292.33 194.2,295.5C196.57,298.67 200.05,302.03 203.7,304.1C207.35,306.17 211.67,306.95 216.1,307.9C220.53,308.85 227.93,309.48 230.3,309.8" fill="none" stroke="#111" stroke-width="1"/>
<path d="M190.34,286.96L186.96,284.01L190.36,282.47Z" fill="#000"/>
<path d="M196.1,274.7C196.42,275.17 196.57,275.77 198,277.5C199.43,279.23 202.48,282.88 204.7,285.1C206.92,287.32 210.2,289.85 211.3,290.8" fill="none" stroke="#111" stroke-width="1"/>
<path d="M199.35,279.03L195.25,277.21L198.05,274.73Z" fill="#000"/>
<path d="M194.2,283.2C194.92,284 196.75,286.25 198.5,288C200.25,289.75 202.57,291.97 204.7,293.7C206.83,295.43 210.2,297.62 211.3,298.4" fill="none" stroke="#111" stroke-width="1"/>
<path d="M200,289.38L195.73,288L198.26,285.24Z" fill="#000"/>
<path d="M205.6,276.6C206.87,278.02 210.35,282.25 213.2,285.1C216.05,287.95 219.7,291.02 222.7,293.7C225.7,296.38 229.78,299.95 231.2,301.2" fill="none" stroke="#111" stroke-width="1"/>
<path d="M214.71,286.47L210.43,285.12L212.94,282.34Z" fill="#000"/>
<path d="M213.2,267.1C214.47,269.32 218.12,276.45 220.8,280.4C223.48,284.35 227.25,288.58 229.3,290.8C231.35,293.02 232.47,293.22 233.1,293.7" fill="none" stroke="#111" stroke-width="1"/>
<path d="M222.09,281.98L218.06,280L220.96,277.64Z" fill="#000"/>
<path d="M224.6,258.5C225.07,259.93 226.62,264.72 227.4,267.1C228.18,269.48 228.5,270.27 229.3,272.8C230.1,275.33 231.57,279.77 232.2,282.3C232.83,284.83 232.95,287.05 233.1,288" fill="none" stroke="#111" stroke-width="1"/>
<path d="M229.9,274.75L226.92,271.39L230.49,270.3Z" fill="#000"/>
<path d="M224.6,257.6C225.7,257.75 229.15,258.18 231.2,258.5C233.25,258.82 235.47,258.07 236.9,259.5C238.33,260.93 238.85,263.93 239.8,267.1C240.75,270.27 242.05,273.92 242.6,278.5C243.15,283.08 243.02,291.92 243.1,294.6" fill="none" stroke="#111" stroke-width="1"/>
<path d="M240.29,269.08L237.5,265.56L241.13,264.67Z" fill="#000"/>
<path d="M214.2,250C214.83,250.47 216.42,252.63 218,252.8C219.58,252.97 222.75,251.3 223.7,251" fill="none" stroke="#111" stroke-width="1"/>
<path d="M219.95,252.19L216.62,255.2L215.49,251.63Z" fill="#000"/>
<path d="M240,267.1C240.32,269.78 241.43,278.47 241.9,283.2C242.37,287.93 242.65,293.45 242.8,295.5" fill="none" stroke="#111" stroke-width="1"/>
<path d="M242.8,252.8C243.6,252.57 246.17,250.6 247.6,251.4C249.03,252.2 250.53,255.07 251.4,257.6C252.27,260.13 252.17,263.12 252.8,266.6C253.43,270.08 254.97,274.62 255.2,278.5C255.43,282.38 254.68,287.22 254.2,289.9C253.72,292.58 252.62,293.82 252.3,294.6" fill="none" stroke="#111" stroke-width="1"/>
<path d="M253.2,268.6L250.56,264.97L254.23,264.23Z" fill="#000"/>
<path d="M259.9,250C260.22,250.95 260.37,253.33 261.8,255.7C263.23,258.07 267.55,261.35 268.5,264.2C269.45,267.05 267.75,269.95 267.5,272.8C267.25,275.65 266.83,279.25 267,281.3C267.17,283.35 270.15,282.1 268.5,285.1C266.85,288.1 259,296.93 257.1,299.3" fill="none" stroke="#111" stroke-width="1"/>
<path d="M268.26,266.23L266.88,261.96L270.59,262.39Z" fill="#000"/>
<path d="M275.1,261.4C275.9,261.08 278.78,258.72 279.9,259.5C281.02,260.28 281.48,264.2 281.8,266.1C282.12,268 281.8,270.1 281.8,270.9" fill="none" stroke="#111" stroke-width="1"/>
<path d="M280.46,261.46L277.54,258.06L281.13,257.02Z" fill="#000"/>
<path d="M273.2,288C273.68,288.95 275.62,292.75 276.1,293.7" fill="none" stroke="#111" stroke-width="1"/>
<path d="M274.13,289.82L270.61,287.03L273.94,285.33Z" fill="#000"/>
<path d="M282.7,286.1C283.65,284.03 287.13,276.87 288.4,273.7C289.67,270.53 289.98,268.2 290.3,267.1" fill="none" stroke="#111" stroke-width="1"/>
<path d="M285.5,251C286.13,251.78 288.67,254.92 289.3,255.7" fill="none" stroke="#111" stroke-width="1"/>
<rect x="181.5" y="190.5" width="122.8" height="122.7" fill="none" stroke="#555" stroke-width="0.6"/>
<line x1="179.9" y1="193.6" x2="181.5" y2="193.6" stroke="#555" stroke-width="0.5"/>
<text x="179.1" y="195.7" font-size="6" text-anchor="end" fill="#4d4d4d" stroke="#4d4d4d" stroke-width="0.17">6</text>
<line x1="179.9" y1="225" x2="181.5" y2="225" stroke="#555" stroke-width="0.5"/>
<text x="179.1" y="227.1" font-size="6" text-anchor="end" fill="#4d4d4d" stroke="#4d4d4d" stroke-width="0.17">3</text>
<line x1="179.9" y1="255.4" x2="181.5" y2="255.4" stroke="#555" stroke-width="0.5"/>
<text x="179.1" y="257.5" font-size="6" text-anchor="end" fill="#4d4d4d" stroke="#4d4d4d" stroke-width="0.17">0</text>
<line x1="179.9" y1="284.8" x2="181.5" y2="284.8" stroke="#555" stroke-width="0.5"/>
<text x="179.1" y="286.9" font-size="6" text-anchor="end" fill="#4d4d4d" stroke="#4d4d4d" stroke-width="0.17">−3</text>
<line x1="201.8" y1="313.2" x2="201.8" y2="314.8" stroke="#555" stroke-width="0.5"/>
<text x="201.8" y="320.8" font-size="6" text-anchor="middle" fill="#4d4d4d" stroke="#4d4d4d" stroke-width="0.17">−4</text>
<line x1="240.6" y1="313.2" x2="240.6" y2="314.8" stroke="#555" stroke-width="0.5"/>
<text x="240.6" y="320.8" font-size="6" text-anchor="middle" fill="#4d4d4d" stroke="#4d4d4d" stroke-width="0.17">0</text>
<line x1="278.7" y1="313.2" x2="278.7" y2="314.8" stroke="#555" stroke-width="0.5"/>
<text x="278.7" y="320.8" font-size="6" text-anchor="middle" fill="#4d4d4d" stroke="#4d4d4d" stroke-width="0.17">4</text>
<text x="243.9" y="330.2" font-size="6.9" text-anchor="middle" font-weight="bold" stroke="#000" stroke-width="0.18">UMAP_1</text>
<text x="168.2" y="251.85" font-size="6.9" text-anchor="middle" font-weight="bold" stroke="#000" stroke-width="0.18" transform="rotate(-90 168.2 251.85)">UMAP_2</text>
<rect x="196.64" y="224.04" width="5.71" height="6.32" fill="#fff" stroke="#555" stroke-width="0.45" rx="0.8"/>
<text x="199.5" y="229.22" font-size="5.6" text-anchor="middle" font-weight="bold" stroke="#000" stroke-width="0.17">6</text>
<rect x="259.64" y="202.64" width="5.71" height="6.32" fill="#fff" stroke="#555" stroke-width="0.45" rx="0.8"/>
<text x="262.5" y="207.82" font-size="5.6" text-anchor="middle" font-weight="bold" stroke="#000" stroke-width="0.17">4</text>
<rect x="241.64" y="225.64" width="5.71" height="6.32" fill="#fff" stroke="#555" stroke-width="0.45" rx="0.8"/>
<text x="244.5" y="230.82" font-size="5.6" text-anchor="middle" font-weight="bold" stroke="#000" stroke-width="0.17">3</text>
<rect x="289.84" y="234.64" width="5.71" height="6.32" fill="#fff" stroke="#555" stroke-width="0.45" rx="0.8"/>
<text x="292.7" y="239.82" font-size="5.6" text-anchor="middle" font-weight="bold" stroke="#000" stroke-width="0.17">9</text>
<rect x="286.69" y="259.24" width="8.83" height="6.32" fill="#fff" stroke="#555" stroke-width="0.45" rx="0.8"/>
<text x="291.1" y="264.42" font-size="5.6" text-anchor="middle" font-weight="bold" stroke="#000" stroke-width="0.17">10</text>
<rect x="241.74" y="255.64" width="5.71" height="6.32" fill="#fff" stroke="#555" stroke-width="0.45" rx="0.8"/>
<text x="244.6" y="260.82" font-size="5.6" text-anchor="middle" font-weight="bold" stroke="#000" stroke-width="0.17">2</text>
<rect x="261.44" y="267.74" width="5.71" height="6.32" fill="#fff" stroke="#555" stroke-width="0.45" rx="0.8"/>
<text x="264.3" y="272.92" font-size="5.6" text-anchor="middle" font-weight="bold" stroke="#000" stroke-width="0.17">8</text>
<rect x="206.74" y="278.04" width="5.71" height="6.32" fill="#fff" stroke="#555" stroke-width="0.45" rx="0.8"/>
<text x="209.6" y="283.22" font-size="5.6" text-anchor="middle" font-weight="bold" stroke="#000" stroke-width="0.17">1</text>
<rect x="230.64" y="287.44" width="5.71" height="6.32" fill="#fff" stroke="#555" stroke-width="0.45" rx="0.8"/>
<text x="233.5" y="292.62" font-size="5.6" text-anchor="middle" font-weight="bold" stroke="#000" stroke-width="0.17">5</text>
<rect x="274.74" y="295.94" width="5.71" height="6.32" fill="#fff" stroke="#555" stroke-width="0.45" rx="0.8"/>
<text x="277.6" y="301.12" font-size="5.6" text-anchor="middle" font-weight="bold" stroke="#000" stroke-width="0.17">7</text>
<text x="326" y="183" font-size="8.4" font-weight="bold" stroke="#000" stroke-width="0.2">D</text>
<line x1="379.3" y1="195.8" x2="435.8" y2="195.8" stroke="#e6e6e6" stroke-width="0.7"/>
<line x1="379.3" y1="215.18" x2="435.8" y2="215.18" stroke="#e6e6e6" stroke-width="0.7"/>
<line x1="379.3" y1="234.56" x2="435.8" y2="234.56" stroke="#e6e6e6" stroke-width="0.7"/>
<line x1="379.3" y1="253.94" x2="435.8" y2="253.94" stroke="#e6e6e6" stroke-width="0.7"/>
<line x1="379.3" y1="273.32" x2="435.8" y2="273.32" stroke="#e6e6e6" stroke-width="0.7"/>
<line x1="379.3" y1="292.7" x2="435.8" y2="292.7" stroke="#e6e6e6" stroke-width="0.7"/>
<line x1="379.3" y1="312.08" x2="435.8" y2="312.08" stroke="#e6e6e6" stroke-width="0.7"/>
<line x1="379.3" y1="331.46" x2="435.8" y2="331.46" stroke="#e6e6e6" stroke-width="0.7"/>
<line x1="379.3" y1="350.84" x2="435.8" y2="350.84" stroke="#e6e6e6" stroke-width="0.7"/>
<line x1="379.3" y1="370.22" x2="435.8" y2="370.22" stroke="#e6e6e6" stroke-width="0.7"/>
<line x1="394.3" y1="183.8" x2="394.3" y2="381.8" stroke="#e6e6e6" stroke-width="0.7"/>
<line x1="420.4" y1="183.8" x2="420.4" y2="381.8" stroke="#e6e6e6" stroke-width="0.7"/>
<circle cx="394.3" cy="195.8" r="4.4" fill="#beb2db"/>
<circle cx="420.4" cy="195.8" r="5.5" fill="#f9e7e4"/>
<circle cx="394.3" cy="215.18" r="5.5" fill="#f9e7e4"/>
<circle cx="420.4" cy="215.18" r="5" fill="#e0daee"/>
<circle cx="394.3" cy="234.56" r="5.5" fill="#fab4a2"/>
<text x="394.3" y="236.46" font-size="4.3" text-anchor="middle" fill="#111" stroke="#111" stroke-width="0.15">***</text>
<circle cx="420.4" cy="234.56" r="4.4" fill="#b5a6d5"/>
<text x="420.4" y="236.46" font-size="4.3" text-anchor="middle" fill="#111" stroke="#111" stroke-width="0.15">***</text>
<circle cx="394.3" cy="253.94" r="7.5" fill="#ff140f"/>
<text x="394.3" y="255.84" font-size="4.3" text-anchor="middle" fill="#111" stroke="#111" stroke-width="0.15">***</text>
<circle cx="420.4" cy="253.94" r="3" fill="#7151a6"/>
<text x="420.4" y="255.84" font-size="4.3" text-anchor="middle" fill="#111" stroke="#111" stroke-width="0.15">***</text>
<circle cx="394.3" cy="273.32" r="3.9" fill="#9882c3"/>
<text x="394.3" y="275.22" font-size="4.3" text-anchor="middle" fill="#111" stroke="#111" stroke-width="0.15">***</text>
<circle cx="420.4" cy="273.32" r="5.5" fill="#fabcab"/>
<text x="420.4" y="275.22" font-size="4.3" text-anchor="middle" fill="#111" stroke="#111" stroke-width="0.15">***</text>
<circle cx="394.3" cy="292.7" r="4.4" fill="#beb2db"/>
<text x="394.3" y="294.6" font-size="4.3" text-anchor="middle" fill="#111" stroke="#111" stroke-width="0.15">***</text>
<circle cx="420.4" cy="292.7" r="5" fill="#f9e1dc"/>
<text x="420.4" y="294.6" font-size="4.3" text-anchor="middle" fill="#111" stroke="#111" stroke-width="0.15">***</text>
<circle cx="394.3" cy="312.08" r="6.1" fill="#fa8c73"/>
<text x="394.3" y="313.98" font-size="4.3" text-anchor="middle" fill="#111" stroke="#111" stroke-width="0.15">***</text>
<circle cx="420.4" cy="312.08" r="4.2" fill="#9882c3"/>
<text x="420.4" y="313.98" font-size="4.3" text-anchor="middle" fill="#111" stroke="#111" stroke-width="0.15">***</text>
<circle cx="394.3" cy="331.46" r="5.8" fill="#fa9c86"/>
<text x="394.3" y="333.36" font-size="4.3" text-anchor="middle" fill="#111" stroke="#111" stroke-width="0.15">***</text>
<circle cx="420.4" cy="331.46" r="4.4" fill="#b5a6d5"/>
<text x="420.4" y="333.36" font-size="4.3" text-anchor="middle" fill="#111" stroke="#111" stroke-width="0.15">***</text>
<circle cx="394.3" cy="350.84" r="4.4" fill="#beb2db"/>
<text x="394.3" y="352.74" font-size="4.3" text-anchor="middle" fill="#111" stroke="#111" stroke-width="0.15">***</text>
<circle cx="420.4" cy="350.84" r="5.5" fill="#f9e1dc"/>
<text x="420.4" y="352.74" font-size="4.3" text-anchor="middle" fill="#111" stroke="#111" stroke-width="0.15">***</text>
<circle cx="394.3" cy="370.22" r="1.3" fill="#5f3c96"/>
<text x="394.3" y="372.12" font-size="4.3" text-anchor="middle" fill="#111" stroke="#111" stroke-width="0.15">**</text>
<circle cx="420.4" cy="370.22" r="6.1" fill="#faa08a"/>
<text x="420.4" y="372.12" font-size="4.3" text-anchor="middle" fill="#111" stroke="#111" stroke-width="0.15">***</text>
<rect x="379.3" y="183.8" width="56.5" height="198" fill="none" stroke="#222" stroke-width="0.9"/>
<text x="375.4" y="198.1" font-size="6.55" text-anchor="end" fill="#4d4d4d" stroke="#4d4d4d" stroke-width="0.18">c10_Isg15</text>
<line x1="378" y1="195.8" x2="379.3" y2="195.8" stroke="#333" stroke-width="0.5"/>
<text x="375.4" y="217.48" font-size="6.55" text-anchor="end" fill="#4d4d4d" stroke="#4d4d4d" stroke-width="0.18">c9_Plac8</text>
<line x1="378" y1="215.18" x2="379.3" y2="215.18" stroke="#333" stroke-width="0.5"/>
<text x="375.4" y="236.86" font-size="6.55" text-anchor="end" fill="#4d4d4d" stroke="#4d4d4d" stroke-width="0.18">c8_Il1b</text>
<line x1="378" y1="234.56" x2="379.3" y2="234.56" stroke="#333" stroke-width="0.5"/>
<text x="375.4" y="256.24" font-size="6.55" text-anchor="end" fill="#4d4d4d" stroke="#4d4d4d" stroke-width="0.18">c7_S100a8</text>
<line x1="378" y1="253.94" x2="379.3" y2="253.94" stroke="#333" stroke-width="0.5"/>
<text x="375.4" y="275.62" font-size="6.55" text-anchor="end" fill="#4d4d4d" stroke="#4d4d4d" stroke-width="0.18">c6_Mki67</text>
<line x1="378" y1="273.32" x2="379.3" y2="273.32" stroke="#333" stroke-width="0.5"/>
<text x="375.4" y="295" font-size="6.55" text-anchor="end" fill="#4d4d4d" stroke="#4d4d4d" stroke-width="0.18">c5_Pf4</text>
<line x1="378" y1="292.7" x2="379.3" y2="292.7" stroke="#333" stroke-width="0.5"/>
<text x="375.4" y="314.38" font-size="6.55" text-anchor="end" fill="#4d4d4d" stroke="#4d4d4d" stroke-width="0.18">c4_H2−Aa</text>
<line x1="378" y1="312.08" x2="379.3" y2="312.08" stroke="#333" stroke-width="0.5"/>
<text x="375.4" y="333.76" font-size="6.55" text-anchor="end" fill="#4d4d4d" stroke="#4d4d4d" stroke-width="0.18">c3_Cd74</text>
<line x1="378" y1="331.46" x2="379.3" y2="331.46" stroke="#333" stroke-width="0.5"/>
<text x="375.4" y="353.14" font-size="6.55" text-anchor="end" fill="#4d4d4d" stroke="#4d4d4d" stroke-width="0.18">c2_Spp1</text>
<line x1="378" y1="350.84" x2="379.3" y2="350.84" stroke="#333" stroke-width="0.5"/>
<text x="375.4" y="372.52" font-size="6.55" text-anchor="end" fill="#4d4d4d" stroke="#4d4d4d" stroke-width="0.18">c1_Mrc1</text>
<line x1="378" y1="370.22" x2="379.3" y2="370.22" stroke="#333" stroke-width="0.5"/>
<text x="392.8" y="390.6" font-size="6.6" text-anchor="middle" fill="#222" stroke="#222" stroke-width="0.18">Control</text>
<text x="420.4" y="390.6" font-size="6.6" text-anchor="middle" fill="#222" stroke="#222" stroke-width="0.18">SP</text>
<line x1="394.3" y1="381.8" x2="394.3" y2="383.1" stroke="#333" stroke-width="0.5"/>
<line x1="420.4" y1="381.8" x2="420.4" y2="383.1" stroke="#333" stroke-width="0.5"/>
<text x="337.4" y="283.7" font-size="6.6" text-anchor="middle" font-weight="bold" stroke="#000" stroke-width="0.18" transform="rotate(-90 337.4 283.7)">Cluster</text>
<text x="444" y="224.2" font-size="6.6" fill="#222" stroke="#222" stroke-width="0.18">Ro/e</text>
<circle cx="449.8" cy="233.5" r="3" fill="#000"/>
<text x="457.9" y="235.8" font-size="6.55" fill="#222" stroke="#222" stroke-width="0.18">0.75</text>
<circle cx="449.8" cy="243.5" r="4.4" fill="#000"/>
<text x="457.9" y="245.8" font-size="6.55" fill="#222" stroke="#222" stroke-width="0.18">1.00</text>
<circle cx="449.8" cy="256.8" r="5.5" fill="#000"/>
<text x="457.9" y="259.1" font-size="6.55" fill="#222" stroke="#222" stroke-width="0.18">1.25</text>
<circle cx="449.8" cy="273.5" r="6.9" fill="#000"/>
<text x="457.9" y="275.8" font-size="6.55" fill="#222" stroke="#222" stroke-width="0.18">1.50</text>
<text x="444" y="299.3" font-size="6.6" fill="#222" stroke="#222" stroke-width="0.18">Ro/e</text>
<defs><linearGradient id="gD" x1="0" y1="1" x2="0" y2="0"><stop offset="0" stop-color="#613f98"/><stop offset="0.1" stop-color="#7557aa"/><stop offset="0.21" stop-color="#9882c3"/><stop offset="0.31" stop-color="#c8bee1"/><stop offset="0.42" stop-color="#f8f6fa"/><stop offset="0.53" stop-color="#f9d7cf"/><stop offset="0.64" stop-color="#fab4a2"/><stop offset="0.75" stop-color="#fa8c73"/><stop offset="0.85" stop-color="#fc5a49"/><stop offset="1" stop-color="#ff1a13"/></linearGradient></defs>
<rect x="444.8" y="303.3" width="8.9" height="43.9" fill="url(#gD)"/>
<line x1="444.8" y1="305" x2="446.5" y2="305" stroke="#fff" stroke-width="0.5"/>
<line x1="452" y1="305" x2="453.7" y2="305" stroke="#fff" stroke-width="0.5"/>
<text x="457.9" y="307.3" font-size="6.55" fill="#222" stroke="#222" stroke-width="0.18">1.50</text>
<line x1="444.8" y1="317" x2="446.5" y2="317" stroke="#fff" stroke-width="0.5"/>
<line x1="452" y1="317" x2="453.7" y2="317" stroke="#fff" stroke-width="0.5"/>
<text x="457.9" y="319.3" font-size="6.55" fill="#222" stroke="#222" stroke-width="0.18">1.25</text>
<line x1="444.8" y1="329" x2="446.5" y2="329" stroke="#fff" stroke-width="0.5"/>
<line x1="452" y1="329" x2="453.7" y2="329" stroke="#fff" stroke-width="0.5"/>
<text x="457.9" y="331.3" font-size="6.55" fill="#222" stroke="#222" stroke-width="0.18">1.00</text>
<line x1="444.8" y1="340.6" x2="446.5" y2="340.6" stroke="#fff" stroke-width="0.5"/>
<line x1="452" y1="340.6" x2="453.7" y2="340.6" stroke="#fff" stroke-width="0.5"/>
<text x="457.9" y="342.9" font-size="6.55" fill="#222" stroke="#222" stroke-width="0.18">0.75</text>
<text x="493.4" y="182.8" font-size="8.4" font-weight="bold" stroke="#000" stroke-width="0.2">E</text>
<line x1="532.6" y1="192.77" x2="589.6" y2="192.77" stroke="#ececec" stroke-width="0.6"/>
<line x1="531.3" y1="192.77" x2="532.6" y2="192.77" stroke="#333" stroke-width="0.5"/>
<text x="528.6" y="195.07" font-size="6.4" text-anchor="end" fill="#4d4d4d" stroke="#4d4d4d" stroke-width="0.18">100%</text>
<line x1="532.6" y1="237.46" x2="589.6" y2="237.46" stroke="#ececec" stroke-width="0.6"/>
<line x1="531.3" y1="237.46" x2="532.6" y2="237.46" stroke="#333" stroke-width="0.5"/>
<text x="528.6" y="239.76" font-size="6.4" text-anchor="end" fill="#4d4d4d" stroke="#4d4d4d" stroke-width="0.18">75%</text>
<line x1="532.6" y1="282.44" x2="589.6" y2="282.44" stroke="#ececec" stroke-width="0.6"/>
<line x1="531.3" y1="282.44" x2="532.6" y2="282.44" stroke="#333" stroke-width="0.5"/>
<text x="528.6" y="284.74" font-size="6.4" text-anchor="end" fill="#4d4d4d" stroke="#4d4d4d" stroke-width="0.18">50%</text>
<line x1="532.6" y1="327.13" x2="589.6" y2="327.13" stroke="#ececec" stroke-width="0.6"/>
<line x1="531.3" y1="327.13" x2="532.6" y2="327.13" stroke="#333" stroke-width="0.5"/>
<text x="528.6" y="329.43" font-size="6.4" text-anchor="end" fill="#4d4d4d" stroke="#4d4d4d" stroke-width="0.18">25%</text>
<line x1="532.6" y1="372.11" x2="589.6" y2="372.11" stroke="#ececec" stroke-width="0.6"/>
<line x1="531.3" y1="372.11" x2="532.6" y2="372.11" stroke="#333" stroke-width="0.5"/>
<text x="528.6" y="374.41" font-size="6.4" text-anchor="end" fill="#4d4d4d" stroke="#4d4d4d" stroke-width="0.18">0%</text>
<line x1="532.6" y1="214.98" x2="589.6" y2="214.98" stroke="#f4f4f4" stroke-width="0.4"/>
<line x1="532.6" y1="259.95" x2="589.6" y2="259.95" stroke="#f4f4f4" stroke-width="0.4"/>
<line x1="532.6" y1="304.93" x2="589.6" y2="304.93" stroke="#f4f4f4" stroke-width="0.4"/>
<line x1="532.6" y1="349.62" x2="589.6" y2="349.62" stroke="#f4f4f4" stroke-width="0.4"/>
<line x1="546.8" y1="182.5" x2="546.8" y2="381.2" stroke="#ececec" stroke-width="0.6"/>
<line x1="573.7" y1="182.5" x2="573.7" y2="381.2" stroke="#ececec" stroke-width="0.6"/>
<path d="M553.2,192.77 C560.05,192.77 560.05,192.77 566.9,192.77 L566.9,230.35 C560.05,230.35 560.05,210.71 553.2,210.71 Z" fill="#ff6a00" fill-opacity="0.32"/>
<rect x="540.4" y="192.77" width="12.8" height="17.93" fill="#ff6a00"/>
<rect x="566.9" y="192.77" width="13.6" height="37.57" fill="#ff6a00"/>
<path d="M553.2,210.71 C560.05,210.71 560.05,230.35 566.9,230.35 L566.9,258.81 C560.05,258.81 560.05,234.33 553.2,234.33 Z" fill="#c41200" fill-opacity="0.32"/>
<rect x="540.4" y="210.71" width="12.8" height="23.63" fill="#c41200"/>
<rect x="566.9" y="230.35" width="13.6" height="28.47" fill="#c41200"/>
<path d="M553.2,234.33 C560.05,234.33 560.05,258.81 566.9,258.81 L566.9,281.02 C560.05,281.02 560.05,266.78 553.2,266.78 Z" fill="#0f8a9a" fill-opacity="0.32"/>
<rect x="540.4" y="234.33" width="12.8" height="32.45" fill="#0f8a9a"/>
<rect x="566.9" y="258.81" width="13.6" height="22.2" fill="#0f8a9a"/>
<path d="M553.2,266.78 C560.05,266.78 560.05,281.02 566.9,281.02 L566.9,296.96 C560.05,296.96 560.05,292.69 553.2,292.69 Z" fill="#8a3d9e" fill-opacity="0.32"/>
<rect x="540.4" y="266.78" width="12.8" height="25.9" fill="#8a3d9e"/>
<rect x="566.9" y="281.02" width="13.6" height="15.94" fill="#8a3d9e"/>
<path d="M553.2,292.69 C560.05,292.69 560.05,296.96 566.9,296.96 L566.9,318.02 C560.05,318.02 560.05,309.77 553.2,309.77 Z" fill="#56908f" fill-opacity="0.32"/>
<rect x="540.4" y="292.69" width="12.8" height="17.08" fill="#56908f"/>
<rect x="566.9" y="296.96" width="13.6" height="21.06" fill="#56908f"/>
<path d="M553.2,309.77 C560.05,309.77 560.05,318.02 566.9,318.02 L566.9,339.09 C560.05,339.09 560.05,325.14 553.2,325.14 Z" fill="#fa5c46" fill-opacity="0.32"/>
<rect x="540.4" y="309.77" width="12.8" height="15.37" fill="#fa5c46"/>
<rect x="566.9" y="318.02" width="13.6" height="21.06" fill="#fa5c46"/>
<path d="M553.2,325.14 C560.05,325.14 560.05,339.09 566.9,339.09 L566.9,347.91 C560.05,347.91 560.05,344.21 553.2,344.21 Z" fill="#82d0dc" fill-opacity="0.32"/>
<rect x="540.4" y="325.14" width="12.8" height="19.07" fill="#82d0dc"/>
<rect x="566.9" y="339.09" width="13.6" height="8.82" fill="#82d0dc"/>
<path d="M553.2,344.21 C560.05,344.21 560.05,347.91 566.9,347.91 L566.9,358.73 C560.05,358.73 560.05,359.87 553.2,359.87 Z" fill="#f892a9" fill-opacity="0.32"/>
<rect x="540.4" y="344.21" width="12.8" height="15.66" fill="#f892a9"/>
<rect x="566.9" y="347.91" width="13.6" height="10.82" fill="#f892a9"/>
<path d="M553.2,359.87 C560.05,359.87 560.05,358.73 566.9,358.73 L566.9,368.69 C560.05,368.69 560.05,369.26 553.2,369.26 Z" fill="#3a3825" fill-opacity="0.32"/>
<rect x="540.4" y="359.87" width="12.8" height="9.39" fill="#3a3825"/>
<rect x="566.9" y="358.73" width="13.6" height="9.96" fill="#3a3825"/>
<path d="M553.2,369.26 C560.05,369.26 560.05,368.69 566.9,368.69 L566.9,372.11 C560.05,372.11 560.05,372.11 553.2,372.11 Z" fill="#a8dfcb" fill-opacity="0.32"/>
<rect x="540.4" y="369.26" width="12.8" height="2.85" fill="#a8dfcb"/>
<rect x="566.9" y="368.69" width="13.6" height="3.42" fill="#a8dfcb"/>
<rect x="532.6" y="182.5" width="57" height="198.7" fill="none" stroke="#222" stroke-width="0.9"/>
<text x="544" y="390.2" font-size="6.6" text-anchor="middle" fill="#222" stroke="#222" stroke-width="0.18">Control</text>
<text x="573.2" y="390.2" font-size="6.6" text-anchor="middle" fill="#222" stroke="#222" stroke-width="0.18">SP</text>
<line x1="546.8" y1="381.2" x2="546.8" y2="382.5" stroke="#333" stroke-width="0.5"/>
<line x1="573.7" y1="381.2" x2="573.7" y2="382.5" stroke="#333" stroke-width="0.5"/>
<text x="509.3" y="282.4" font-size="6.5" text-anchor="middle" font-weight="bold" stroke="#000" stroke-width="0.18" transform="rotate(-90 509.3 282.4)">Cell proportion</text>
<rect x="598.2" y="242" width="7.9" height="7.9" fill="#ff6a00"/>
<text x="608.8" y="248.4" font-size="6.85" fill="#222" stroke="#222" stroke-width="0.18">c1_Mrc1</text>
<rect x="598.2" y="250.53" width="7.9" height="7.9" fill="#c41200"/>
<text x="608.8" y="256.93" font-size="6.85" fill="#222" stroke="#222" stroke-width="0.18">c2_Spp1</text>
<rect x="598.2" y="259.06" width="7.9" height="7.9" fill="#0f8a9a"/>
<text x="608.8" y="265.46" font-size="6.85" fill="#222" stroke="#222" stroke-width="0.18">c3_Cd74</text>
<rect x="598.2" y="267.59" width="7.9" height="7.9" fill="#8a3d9e"/>
<text x="608.8" y="273.99" font-size="6.85" fill="#222" stroke="#222" stroke-width="0.18">c4_H2−Aa</text>
<rect x="598.2" y="276.12" width="7.9" height="7.9" fill="#56908f"/>
<text x="608.8" y="282.52" font-size="6.85" fill="#222" stroke="#222" stroke-width="0.18">c5_Pf4</text>
<rect x="598.2" y="284.65" width="7.9" height="7.9" fill="#fa5c46"/>
<text x="608.8" y="291.05" font-size="6.85" fill="#222" stroke="#222" stroke-width="0.18">c6_Mki67</text>
<rect x="598.2" y="293.18" width="7.9" height="7.9" fill="#82d0dc"/>
<text x="608.8" y="299.58" font-size="6.85" fill="#222" stroke="#222" stroke-width="0.18">c7_S100a8</text>
<rect x="598.2" y="301.71" width="7.9" height="7.9" fill="#f892a9"/>
<text x="608.8" y="308.11" font-size="6.85" fill="#222" stroke="#222" stroke-width="0.18">c8_Il1b</text>
<rect x="598.2" y="310.24" width="7.9" height="7.9" fill="#3a3825"/>
<text x="608.8" y="316.64" font-size="6.85" fill="#222" stroke="#222" stroke-width="0.18">c9_Plac8</text>
<rect x="598.2" y="318.77" width="7.9" height="7.9" fill="#a8dfcb"/>
<text x="608.8" y="325.17" font-size="6.85" fill="#222" stroke="#222" stroke-width="0.18">c10_Isg15</text>
<text x="0.6" y="360.1" font-size="8.4" font-weight="bold" stroke="#000" stroke-width="0.2">F</text>
<g transform="translate(30 381.5)"><ellipse cx="0" cy="0" rx="5.2" ry="3.3" fill="#2b2b2b"/><ellipse cx="-5.2" cy="-0.6" rx="2.6" ry="2" fill="#2b2b2b"/><circle cx="-4.6" cy="-2.6" r="1.1" fill="#3a3a3a"/><path d="M4.5,1.6 C7,3.6 9,4 9.5,3.5" fill="none" stroke="#555" stroke-width="0.5"/><path d="M-3,3 L-3.4,4.3 M2.5,3 L3,4.2" stroke="#333" stroke-width="0.6"/><path d="M-2.6,4.6 L9.6,4.6" stroke="#888" stroke-width="0.4"/></g>
<text x="38.2" y="395.8" font-size="6.93" text-anchor="middle" fill="#222" stroke="#222" stroke-width="0.18" font-family="Liberation Serif">6 Week C57BL/6</text>
<line x1="45.2" y1="386.6" x2="64" y2="386.6" stroke="#555" stroke-width="0.5"/>
<path d="M62.02,387.56L64,386.6L62.02,385.64" fill="none" stroke="#555" stroke-width="0.5"/>
<path d="M71,386.8 L71,395.2 L133.6,395.2 L133.6,386.8" fill="none" stroke="#777" stroke-width="0.5"/>
<rect x="71" y="380.3" width="62.6" height="6.5" fill="#fff" stroke="#777" stroke-width="0.5" rx="2.5"/>
<g fill="#e5d21d" stroke="#8a7a10" stroke-width="0.25"><circle cx="72.5" cy="393.3" r="0.8"/><circle cx="74.15" cy="393.3" r="0.8"/><circle cx="75.8" cy="393.3" r="0.8"/><circle cx="77.45" cy="393.3" r="0.8"/><circle cx="79.1" cy="393.3" r="0.8"/><circle cx="80.75" cy="393.3" r="0.8"/><circle cx="82.4" cy="393.3" r="0.8"/><circle cx="84.05" cy="393.3" r="0.8"/><circle cx="85.7" cy="393.3" r="0.8"/><circle cx="87.35" cy="393.3" r="0.8"/><circle cx="89" cy="393.3" r="0.8"/><circle cx="90.65" cy="393.3" r="0.8"/><circle cx="92.3" cy="393.3" r="0.8"/><circle cx="93.95" cy="393.3" r="0.8"/><circle cx="95.6" cy="393.3" r="0.8"/><circle cx="97.25" cy="393.3" r="0.8"/><circle cx="98.9" cy="393.3" r="0.8"/><circle cx="100.55" cy="393.3" r="0.8"/><circle cx="102.2" cy="393.3" r="0.8"/><circle cx="103.85" cy="393.3" r="0.8"/><circle cx="105.5" cy="393.3" r="0.8"/><circle cx="107.15" cy="393.3" r="0.8"/><circle cx="108.8" cy="393.3" r="0.8"/><circle cx="110.45" cy="393.3" r="0.8"/><circle cx="112.1" cy="393.3" r="0.8"/><circle cx="113.75" cy="393.3" r="0.8"/><circle cx="115.4" cy="393.3" r="0.8"/><circle cx="117.05" cy="393.3" r="0.8"/><circle cx="118.7" cy="393.3" r="0.8"/><circle cx="120.35" cy="393.3" r="0.8"/><circle cx="122" cy="393.3" r="0.8"/><circle cx="123.65" cy="393.3" r="0.8"/><circle cx="125.3" cy="393.3" r="0.8"/><circle cx="126.95" cy="393.3" r="0.8"/><circle cx="128.6" cy="393.3" r="0.8"/><circle cx="130.25" cy="393.3" r="0.8"/><circle cx="131.9" cy="393.3" r="0.8"/></g>
<text x="100" y="368.5" font-size="6.7" text-anchor="middle" fill="#222" stroke="#222" stroke-width="0.18">BMDM were extracted</text>
<text x="100" y="376.6" font-size="6.7" text-anchor="middle" fill="#222" stroke="#222" stroke-width="0.18">from bone marrow</text>
<text x="155" y="374.3" font-size="6.7" text-anchor="middle" fill="#222" stroke="#222" stroke-width="0.18">20 ng/mL M-CSF</text>
<text x="155" y="382.5" font-size="6.7" text-anchor="middle" fill="#222" stroke="#222" stroke-width="0.18">for 6 days</text>
<line x1="137.5" y1="386.8" x2="168.2" y2="386.8" stroke="#555" stroke-width="0.5"/>
<path d="M166.22,387.76L168.2,386.8L166.22,385.84" fill="none" stroke="#555" stroke-width="0.5"/>
<text x="205.8" y="378.6" font-size="6.7" text-anchor="middle" fill="#222" stroke="#222" stroke-width="0.18">M0 macrophages</text>
<g transform="translate(175.8 386.6) scale(1)"><path d="M-4,0.5 C-4,-1.8 -2,-2.2 -1,-1.2 C0,-2.8 2.2,-2.4 2.4,-0.8 C3.6,-1.3 4.6,0 3.6,1 C4.2,2.2 2.6,3 1.6,2.2 C0.8,3.2 -1.2,3 -1.4,2 C-2.8,2.8 -4.4,1.8 -4,0.5Z" fill="#e8c61a" stroke="#8a7210" stroke-width="0.35"/><circle cx="-1.6" cy="0.2" r="0.5" fill="#8a7210"/><circle cx="0.5" cy="-0.3" r="0.5" fill="#8a7210"/><circle cx="2" cy="0.8" r="0.5" fill="#8a7210"/></g>
<line x1="186" y1="392.5" x2="200.6" y2="416.2" stroke="#555" stroke-width="0.5"/>
<path d="M198.75,415.02L200.6,416.2L200.38,414.01" fill="none" stroke="#555" stroke-width="0.5"/>
<text x="41.5" y="415" font-size="6.7" text-anchor="middle" fill="#222" stroke="#222" stroke-width="0.18">Tumor cell</text>
<circle cx="29" cy="421.5" r="1.9" fill="#e3242b" stroke="#a01018" stroke-width="0.3"/>
<circle cx="32.5" cy="420.5" r="1.9" fill="#e3242b" stroke="#a01018" stroke-width="0.3"/>
<circle cx="36" cy="421" r="1.9" fill="#e3242b" stroke="#a01018" stroke-width="0.3"/>
<circle cx="39.5" cy="422.5" r="1.9" fill="#e3242b" stroke="#a01018" stroke-width="0.3"/>
<circle cx="27.5" cy="425" r="1.9" fill="#e3242b" stroke="#a01018" stroke-width="0.3"/>
<circle cx="31" cy="424.5" r="1.9" fill="#e3242b" stroke="#a01018" stroke-width="0.3"/>
<circle cx="34.5" cy="425" r="1.9" fill="#e3242b" stroke="#a01018" stroke-width="0.3"/>
<circle cx="38" cy="426" r="1.9" fill="#e3242b" stroke="#a01018" stroke-width="0.3"/>
<circle cx="41" cy="425.8" r="1.9" fill="#e3242b" stroke="#a01018" stroke-width="0.3"/>
<circle cx="28.5" cy="428.5" r="1.9" fill="#e3242b" stroke="#a01018" stroke-width="0.3"/>
<circle cx="32" cy="428.5" r="1.9" fill="#e3242b" stroke="#a01018" stroke-width="0.3"/>
<circle cx="35.5" cy="429" r="1.9" fill="#e3242b" stroke="#a01018" stroke-width="0.3"/>
<circle cx="39" cy="429.3" r="1.9" fill="#e3242b" stroke="#a01018" stroke-width="0.3"/>
<circle cx="30" cy="432" r="1.9" fill="#e3242b" stroke="#a01018" stroke-width="0.3"/>
<circle cx="33.5" cy="432.5" r="1.9" fill="#e3242b" stroke="#a01018" stroke-width="0.3"/>
<circle cx="37" cy="432.5" r="1.9" fill="#e3242b" stroke="#a01018" stroke-width="0.3"/>
<circle cx="31.5" cy="435.5" r="1.9" fill="#e3242b" stroke="#a01018" stroke-width="0.3"/>
<line x1="47.7" y1="425.8" x2="66.6" y2="425.8" stroke="#555" stroke-width="0.5"/>
<path d="M64.62,426.76L66.6,425.8L64.62,424.84" fill="none" stroke="#555" stroke-width="0.5"/>
<text x="69" y="411" font-size="6.7" fill="#222" stroke="#222" stroke-width="0.18">SP-GFP</text>
<text x="96.9" y="410.6" font-size="6.7" fill="#222" stroke="#222" stroke-width="0.18">MOI= 0.01</text>
<path d="M71.8,423.6 L71.8,432 L134.9,432 L134.9,423.6" fill="none" stroke="#777" stroke-width="0.5"/>
<rect x="71.8" y="418" width="63.1" height="5.6" fill="#fff" stroke="#777" stroke-width="0.5" rx="2.5"/>
<g fill="#d3242b" stroke="#8a1018" stroke-width="0.25"><circle cx="73.3" cy="430.5" r="0.95"/><circle cx="75.15" cy="430.5" r="0.95"/><circle cx="77" cy="430.5" r="0.95"/><circle cx="78.85" cy="430.5" r="0.95"/><circle cx="80.7" cy="430.5" r="0.95"/><circle cx="82.55" cy="430.5" r="0.95"/><circle cx="84.4" cy="430.5" r="0.95"/><circle cx="86.25" cy="430.5" r="0.95"/><circle cx="88.1" cy="430.5" r="0.95"/><circle cx="89.95" cy="430.5" r="0.95"/><circle cx="91.8" cy="430.5" r="0.95"/><circle cx="93.65" cy="430.5" r="0.95"/><circle cx="95.5" cy="430.5" r="0.95"/><circle cx="97.35" cy="430.5" r="0.95"/><circle cx="99.2" cy="430.5" r="0.95"/><circle cx="101.05" cy="430.5" r="0.95"/><circle cx="102.9" cy="430.5" r="0.95"/><circle cx="104.75" cy="430.5" r="0.95"/><circle cx="106.6" cy="430.5" r="0.95"/><circle cx="108.45" cy="430.5" r="0.95"/><circle cx="110.3" cy="430.5" r="0.95"/><circle cx="112.15" cy="430.5" r="0.95"/><circle cx="114" cy="430.5" r="0.95"/><circle cx="115.85" cy="430.5" r="0.95"/><circle cx="117.7" cy="430.5" r="0.95"/><circle cx="119.55" cy="430.5" r="0.95"/><circle cx="121.4" cy="430.5" r="0.95"/><circle cx="123.25" cy="430.5" r="0.95"/><circle cx="125.1" cy="430.5" r="0.95"/><circle cx="126.95" cy="430.5" r="0.95"/><circle cx="128.8" cy="430.5" r="0.95"/><circle cx="130.65" cy="430.5" r="0.95"/><circle cx="132.5" cy="430.5" r="0.95"/></g>
<path d="M83.5,412.5 L85.2,411.2 L87.3,412 L88,414 L86.6,416 L84.3,416.2 L83,414.6Z" fill="#2e6b2b"/>
<line x1="85.3" y1="416" x2="85.3" y2="428.5" stroke="#555" stroke-width="0.45"/>
<path d="M84.34,426.52L85.3,428.5L86.26,426.52" fill="none" stroke="#555" stroke-width="0.45"/>
<text x="153.8" y="412.7" font-size="6.7" text-anchor="middle" fill="#222" stroke="#222" stroke-width="0.18">Culture</text>
<text x="153.8" y="421.1" font-size="6.7" text-anchor="middle" fill="#222" stroke="#222" stroke-width="0.18">24h</text>
<line x1="138.3" y1="424.6" x2="168.2" y2="424.6" stroke="#555" stroke-width="0.5"/>
<path d="M166.22,425.56L168.2,424.6L166.22,423.64" fill="none" stroke="#555" stroke-width="0.5"/>
<path d="M173.5,423.6 L173.5,431.4 L235.5,431.4 L235.5,423.6" fill="none" stroke="#777" stroke-width="0.5"/>
<rect x="173.5" y="417.5" width="62" height="6.1" fill="#fff" stroke="#777" stroke-width="0.5" rx="2.5"/>
<g fill="#d3242b" stroke="#8a1018" stroke-width="0.25"><circle cx="175" cy="430" r="0.9"/><circle cx="176.85" cy="430" r="0.9"/><circle cx="178.7" cy="430" r="0.9"/><circle cx="180.55" cy="430" r="0.9"/><circle cx="182.4" cy="430" r="0.9"/><circle cx="184.25" cy="430" r="0.9"/><circle cx="186.1" cy="430" r="0.9"/><circle cx="187.95" cy="430" r="0.9"/><circle cx="189.8" cy="430" r="0.9"/><circle cx="191.65" cy="430" r="0.9"/><circle cx="193.5" cy="430" r="0.9"/><circle cx="195.35" cy="430" r="0.9"/><circle cx="197.2" cy="430" r="0.9"/><circle cx="199.05" cy="430" r="0.9"/><circle cx="200.9" cy="430" r="0.9"/><circle cx="202.75" cy="430" r="0.9"/><circle cx="204.6" cy="430" r="0.9"/><circle cx="206.45" cy="430" r="0.9"/><circle cx="208.3" cy="430" r="0.9"/><circle cx="210.15" cy="430" r="0.9"/><circle cx="212" cy="430" r="0.9"/><circle cx="213.85" cy="430" r="0.9"/><circle cx="215.7" cy="430" r="0.9"/><circle cx="217.55" cy="430" r="0.9"/><circle cx="219.4" cy="430" r="0.9"/><circle cx="221.25" cy="430" r="0.9"/><circle cx="223.1" cy="430" r="0.9"/><circle cx="224.95" cy="430" r="0.9"/><circle cx="226.8" cy="430" r="0.9"/><circle cx="228.65" cy="430" r="0.9"/><circle cx="230.5" cy="430" r="0.9"/><circle cx="232.35" cy="430" r="0.9"/></g>
<g transform="translate(201 427) scale(0.95)"><path d="M-4,0.5 C-4,-1.8 -2,-2.2 -1,-1.2 C0,-2.8 2.2,-2.4 2.4,-0.8 C3.6,-1.3 4.6,0 3.6,1 C4.2,2.2 2.6,3 1.6,2.2 C0.8,3.2 -1.2,3 -1.4,2 C-2.8,2.8 -4.4,1.8 -4,0.5Z" fill="#e8c61a" stroke="#8a7210" stroke-width="0.35"/><circle cx="-1.6" cy="0.2" r="0.5" fill="#8a7210"/><circle cx="0.5" cy="-0.3" r="0.5" fill="#8a7210"/><circle cx="2" cy="0.8" r="0.5" fill="#8a7210"/></g>
<text x="203.2" y="442.1" font-size="6.7" text-anchor="middle" fill="#222" stroke="#222" stroke-width="0.18">Coculture 16h</text>
<text x="0.6" y="461.4" font-size="8.4" font-weight="bold" stroke="#000" stroke-width="0.2">G</text>
<line x1="36.8" y1="472.4" x2="36.8" y2="533.5" stroke="#444" stroke-width="1"/>
<line x1="36.3" y1="533" x2="97.7" y2="533" stroke="#444" stroke-width="1"/>
<line x1="35.4" y1="533" x2="36.8" y2="533" stroke="#333" stroke-width="0.5"/>
<text x="34.9" y="534.51" font-size="4.2" text-anchor="end" fill="#222" stroke="#222" stroke-width="0.15">0.0</text>
<line x1="35.4" y1="520.94" x2="36.8" y2="520.94" stroke="#333" stroke-width="0.5"/>
<text x="34.9" y="522.45" font-size="4.2" text-anchor="end" fill="#222" stroke="#222" stroke-width="0.15">0.5</text>
<line x1="35.4" y1="508.88" x2="36.8" y2="508.88" stroke="#333" stroke-width="0.5"/>
<text x="34.9" y="510.39" font-size="4.2" text-anchor="end" fill="#222" stroke="#222" stroke-width="0.15">1.0</text>
<line x1="35.4" y1="496.82" x2="36.8" y2="496.82" stroke="#333" stroke-width="0.5"/>
<text x="34.9" y="498.33" font-size="4.2" text-anchor="end" fill="#222" stroke="#222" stroke-width="0.15">1.5</text>
<line x1="35.4" y1="484.76" x2="36.8" y2="484.76" stroke="#333" stroke-width="0.5"/>
<text x="34.9" y="486.27" font-size="4.2" text-anchor="end" fill="#222" stroke="#222" stroke-width="0.15">2.0</text>
<line x1="35.4" y1="472.7" x2="36.8" y2="472.7" stroke="#333" stroke-width="0.5"/>
<text x="34.9" y="474.21" font-size="4.2" text-anchor="end" fill="#222" stroke="#222" stroke-width="0.15">2.5</text>
<line x1="47" y1="533" x2="47" y2="534.4" stroke="#333" stroke-width="0.5"/>
<line x1="68.9" y1="533" x2="68.9" y2="534.4" stroke="#333" stroke-width="0.5"/>
<line x1="88.9" y1="533" x2="88.9" y2="534.4" stroke="#333" stroke-width="0.5"/>
<line x1="42.3" y1="502.85" x2="42.3" y2="511.05" stroke="#1a1aff" stroke-width="0.7"/>
<line x1="41" y1="502.85" x2="43.6" y2="502.85" stroke="#1a1aff" stroke-width="0.7"/>
<line x1="41" y1="511.05" x2="43.6" y2="511.05" stroke="#1a1aff" stroke-width="0.7"/>
<line x1="39.7" y1="506.95" x2="44.9" y2="506.95" stroke="#1a1aff" stroke-width="0.7"/>
<circle cx="42.6" cy="502.13" r="1.45" fill="#1a1aff"/>
<circle cx="41.4" cy="508.88" r="1.45" fill="#1a1aff"/>
<circle cx="43.2" cy="510.09" r="1.45" fill="#1a1aff"/>
<line x1="50.2" y1="493.93" x2="50.2" y2="498.75" stroke="#ff1a1a" stroke-width="0.7"/>
<line x1="48.9" y1="493.93" x2="51.5" y2="493.93" stroke="#ff1a1a" stroke-width="0.7"/>
<line x1="48.9" y1="498.75" x2="51.5" y2="498.75" stroke="#ff1a1a" stroke-width="0.7"/>
<line x1="47.6" y1="496.34" x2="52.8" y2="496.34" stroke="#ff1a1a" stroke-width="0.7"/>
<rect x="48.85" y="492.58" width="2.7" height="2.7" fill="#ff1a1a"/>
<rect x="48.85" y="495.47" width="2.7" height="2.7" fill="#ff1a1a"/>
<rect x="48.85" y="497.4" width="2.7" height="2.7" fill="#ff1a1a"/>
<line x1="63.4" y1="499.71" x2="63.4" y2="508.4" stroke="#1a1aff" stroke-width="0.7"/>
<line x1="62.1" y1="499.71" x2="64.7" y2="499.71" stroke="#1a1aff" stroke-width="0.7"/>
<line x1="62.1" y1="508.4" x2="64.7" y2="508.4" stroke="#1a1aff" stroke-width="0.7"/>
<line x1="60.8" y1="504.06" x2="66" y2="504.06" stroke="#1a1aff" stroke-width="0.7"/>
<circle cx="63.7" cy="499.71" r="1.45" fill="#1a1aff"/>
<circle cx="62.5" cy="504.06" r="1.45" fill="#1a1aff"/>
<circle cx="64.3" cy="508.88" r="1.45" fill="#1a1aff"/>
<line x1="71.2" y1="521.66" x2="71.2" y2="524.08" stroke="#ff1a1a" stroke-width="0.7"/>
<line x1="69.9" y1="521.66" x2="72.5" y2="521.66" stroke="#ff1a1a" stroke-width="0.7"/>
<line x1="69.9" y1="524.08" x2="72.5" y2="524.08" stroke="#ff1a1a" stroke-width="0.7"/>
<line x1="68.6" y1="522.87" x2="73.8" y2="522.87" stroke="#ff1a1a" stroke-width="0.7"/>
<rect x="69.85" y="520.8" width="2.7" height="2.7" fill="#ff1a1a"/>
<rect x="69.85" y="521.52" width="2.7" height="2.7" fill="#ff1a1a"/>
<rect x="69.85" y="523.21" width="2.7" height="2.7" fill="#ff1a1a"/>
<line x1="83.8" y1="500.44" x2="83.8" y2="510.09" stroke="#1a1aff" stroke-width="0.7"/>
<line x1="82.5" y1="500.44" x2="85.1" y2="500.44" stroke="#1a1aff" stroke-width="0.7"/>
<line x1="82.5" y1="510.09" x2="85.1" y2="510.09" stroke="#1a1aff" stroke-width="0.7"/>
<line x1="81.2" y1="505.26" x2="86.4" y2="505.26" stroke="#1a1aff" stroke-width="0.7"/>
<circle cx="84.1" cy="499.71" r="1.45" fill="#1a1aff"/>
<circle cx="82.9" cy="508.4" r="1.45" fill="#1a1aff"/>
<circle cx="84.7" cy="508.88" r="1.45" fill="#1a1aff"/>
<line x1="92" y1="482.83" x2="92" y2="510.81" stroke="#ff1a1a" stroke-width="0.7"/>
<line x1="90.7" y1="482.83" x2="93.3" y2="482.83" stroke="#ff1a1a" stroke-width="0.7"/>
<line x1="90.7" y1="510.81" x2="93.3" y2="510.81" stroke="#ff1a1a" stroke-width="0.7"/>
<line x1="89.4" y1="496.82" x2="94.6" y2="496.82" stroke="#ff1a1a" stroke-width="0.7"/>
<rect x="90.65" y="481" width="2.7" height="2.7" fill="#ff1a1a"/>
<rect x="90.65" y="495.95" width="2.7" height="2.7" fill="#ff1a1a"/>
<rect x="90.65" y="509.46" width="2.7" height="2.7" fill="#ff1a1a"/>
<line x1="42.5" y1="486.2" x2="51.1" y2="486.2" stroke="#111" stroke-width="0.75"/>
<text x="46.8" y="485.8" font-size="6.6" text-anchor="middle" fill="#111" stroke="#111" stroke-width="0.18">*</text>
<line x1="63.8" y1="486.2" x2="71.5" y2="486.2" stroke="#111" stroke-width="0.75"/>
<text x="67.65" y="485.8" font-size="6.6" text-anchor="middle" fill="#111" stroke="#111" stroke-width="0.18">**</text>
<line x1="84.2" y1="478.8" x2="92" y2="478.8" stroke="#111" stroke-width="0.75"/>
<text x="88.1" y="477.2" font-size="6" text-anchor="middle" fill="#111" stroke="#111" stroke-width="0.17">ns</text>
<text x="47" y="544.2" font-size="6.8" text-anchor="middle" font-weight="bold" stroke="#000" stroke-width="0.18">ARG1</text>
<text x="68.9" y="544.2" font-size="6.8" text-anchor="middle" font-weight="bold" stroke="#000" stroke-width="0.18">CD86</text>
<text x="88.9" y="544.2" font-size="6.8" text-anchor="middle" font-weight="bold" stroke="#000" stroke-width="0.18">TNFα</text>
<text x="23.4" y="503" font-size="6.4" text-anchor="middle" fill="#222" stroke="#222" stroke-width="0.18" transform="rotate(-90 23.4 503)">Gene relative expression</text>
<circle cx="104.2" cy="474.7" r="1.5" fill="#1a1aff"/>
<text x="109.6" y="477.1" font-size="6.6" fill="#222" stroke="#222" stroke-width="0.18">Control</text>
<rect x="102.8" y="481.1" width="2.8" height="2.8" fill="#ff1a1a"/>
<text x="109.6" y="484.9" font-size="6.6" fill="#222" stroke="#222" stroke-width="0.18">SP</text>
<line x1="181" y1="471.4" x2="181" y2="533.5" stroke="#444" stroke-width="1"/>
<line x1="180.5" y1="533" x2="221.5" y2="533" stroke="#444" stroke-width="1"/>
<line x1="179.6" y1="533" x2="181" y2="533" stroke="#333" stroke-width="0.5"/>
<text x="179.1" y="534.51" font-size="4.2" text-anchor="end" fill="#222" stroke="#222" stroke-width="0.15">15</text>
<line x1="179.6" y1="512.57" x2="181" y2="512.57" stroke="#333" stroke-width="0.5"/>
<text x="179.1" y="514.08" font-size="4.2" text-anchor="end" fill="#222" stroke="#222" stroke-width="0.15">20</text>
<line x1="179.6" y1="492.13" x2="181" y2="492.13" stroke="#333" stroke-width="0.5"/>
<text x="179.1" y="493.65" font-size="4.2" text-anchor="end" fill="#222" stroke="#222" stroke-width="0.15">25</text>
<line x1="179.6" y1="471.7" x2="181" y2="471.7" stroke="#333" stroke-width="0.5"/>
<text x="179.1" y="473.21" font-size="4.2" text-anchor="end" fill="#222" stroke="#222" stroke-width="0.15">30</text>
<line x1="193" y1="533" x2="193" y2="534.4" stroke="#333" stroke-width="0.5"/>
<line x1="209.8" y1="533" x2="209.8" y2="534.4" stroke="#333" stroke-width="0.5"/>
<line x1="193" y1="488.86" x2="193" y2="507.66" stroke="#1a1aff" stroke-width="0.6"/>
<line x1="190.4" y1="488.86" x2="195.6" y2="488.86" stroke="#1a1aff" stroke-width="0.6"/>
<line x1="190.4" y1="507.66" x2="195.6" y2="507.66" stroke="#1a1aff" stroke-width="0.6"/>
<line x1="186.85" y1="498.26" x2="199.15" y2="498.26" stroke="#1a1aff" stroke-width="0.6"/>
<path d="M193,486.49L191.57,489.09L194.43,489.09Z" fill="#1a1aff"/>
<path d="M193,498.75L191.57,501.35L194.43,501.35Z" fill="#1a1aff"/>
<path d="M193,506.1L191.57,508.7L194.43,508.7Z" fill="#1a1aff"/>
<line x1="209.8" y1="519.51" x2="209.8" y2="529.32" stroke="#ff1a1a" stroke-width="0.6"/>
<line x1="207.2" y1="519.51" x2="212.4" y2="519.51" stroke="#ff1a1a" stroke-width="0.6"/>
<line x1="207.2" y1="529.32" x2="212.4" y2="529.32" stroke="#ff1a1a" stroke-width="0.6"/>
<line x1="203.95" y1="524.42" x2="215.65" y2="524.42" stroke="#ff1a1a" stroke-width="0.6"/>
<circle cx="209.8" cy="519.11" r="1.2" fill="#ff1a1a"/>
<circle cx="209.8" cy="524.42" r="1.2" fill="#ff1a1a"/>
<circle cx="209.8" cy="528.91" r="1.2" fill="#ff1a1a"/>
<line x1="193" y1="483.4" x2="207.5" y2="483.4" stroke="#111" stroke-width="0.75"/>
<text x="200.25" y="482.8" font-size="6.6" text-anchor="middle" fill="#111" stroke="#111" stroke-width="0.18">*</text>
<text x="190.3" y="543.1" font-size="6.8" text-anchor="middle" font-weight="bold" stroke="#000" stroke-width="0.18">Control</text>
<text x="210.5" y="543.1" font-size="6.8" text-anchor="middle" font-weight="bold" stroke="#000" stroke-width="0.18">SP</text>
<text x="168.2" y="499.7" font-size="6.4" text-anchor="middle" fill="#222" stroke="#222" stroke-width="0.18" transform="rotate(-90 168.2 499.7)">IFNβ (pg/ml)</text>
<text x="285" y="418.8" font-size="8.4" font-weight="bold" stroke="#000" stroke-width="0.2">H</text>
<text x="402.6" y="412.6" font-size="6.7" text-anchor="middle" fill="#222" stroke="#222" stroke-width="0.18">BMDM : MC38= 2:1</text>
<line x1="344.2" y1="417.2" x2="468.2" y2="417.2" stroke="#222" stroke-width="0.6"/>
<text x="355" y="429.8" font-size="6.7" text-anchor="middle" fill="#222" stroke="#222" stroke-width="0.18">Control</text>
<text x="464.3" y="429.8" font-size="6.7" text-anchor="middle" fill="#222" stroke="#222" stroke-width="0.18">SP</text>
<defs><clipPath id="fc1"><rect x="316.2" y="434.1" width="86.5" height="85.6"/></clipPath></defs>
<g clip-path="url(#fc1)">
<g filter="url(#fb3)" opacity="0.42">
<ellipse cx="342" cy="470" rx="12.88" ry="14.72" fill="#3050f0" transform="rotate(0 342 470)"/>
<ellipse cx="343" cy="489" rx="10.12" ry="7.36" fill="#3050f0" transform="rotate(0 343 489)"/>
<ellipse cx="341" cy="508" rx="13.8" ry="8.28" fill="#3050f0" transform="rotate(-12 341 508)"/>
<ellipse cx="354" cy="504" rx="11.96" ry="7.36" fill="#3050f0" transform="rotate(-10 354 504)"/>
<ellipse cx="364" cy="498" rx="6.44" ry="7.36" fill="#3050f0" transform="rotate(0 364 498)"/>
<ellipse cx="356" cy="484" rx="5.52" ry="8.28" fill="#3050f0" transform="rotate(0 356 484)"/>
</g>
<defs><filter id="dt28" x="0" y="0" width="685" height="813" filterUnits="userSpaceOnUse" color-interpolation-filters="sRGB"><feGaussianBlur in="SourceAlpha" stdDeviation="3" result="d"/><feTurbulence type="fractalNoise" baseFrequency="2.2" numOctaves="1" seed="199" result="n"/><feComponentTransfer in="n" result="n2"><feFuncA type="linear" slope="2.75" intercept="-0.874"/></feComponentTransfer><feComposite in="d" in2="n2" operator="arithmetic" k1="0" k2="0.72" k3="-1" k4="-0.06" result="x"/><feComponentTransfer in="x" result="m"><feFuncA type="linear" slope="40" intercept="0"/></feComponentTransfer><feFlood flood-color="#2440ff"/><feComposite operator="in" in2="m"/></filter></defs>
<g filter="url(#dt28)">
<ellipse cx="342" cy="470" rx="14" ry="16" transform="rotate(0 342 470)"/>
<ellipse cx="343" cy="489" rx="11" ry="8" transform="rotate(0 343 489)"/>
<ellipse cx="341" cy="508" rx="15" ry="9" transform="rotate(-12 341 508)"/>
<ellipse cx="354" cy="504" rx="13" ry="8" transform="rotate(-10 354 504)"/>
<ellipse cx="364" cy="498" rx="7" ry="8" transform="rotate(0 364 498)"/>
<ellipse cx="356" cy="484" rx="6" ry="9" transform="rotate(0 356 484)"/>
</g>
<defs><filter id="dt29" x="0" y="0" width="685" height="813" filterUnits="userSpaceOnUse" color-interpolation-filters="sRGB"><feGaussianBlur in="SourceAlpha" stdDeviation="2.2" result="d"/><feTurbulence type="fractalNoise" baseFrequency="2.2" numOctaves="1" seed="206" result="n"/><feComponentTransfer in="n" result="n2"><feFuncA type="linear" slope="2.75" intercept="-0.874"/></feComponentTransfer><feComposite in="d" in2="n2" operator="arithmetic" k1="0" k2="0.75" k3="-1" k4="-0.05" result="x"/><feComponentTransfer in="x" result="m"><feFuncA type="linear" slope="40" intercept="0"/></feComponentTransfer><feFlood flood-color="#10c0f0"/><feComposite operator="in" in2="m"/></filter></defs>
<g filter="url(#dt29)">
<ellipse cx="342" cy="470" rx="10.5" ry="13" transform="rotate(0 342 470)"/>
<ellipse cx="346" cy="505" rx="16" ry="7.5" transform="rotate(-15 346 505)"/>
</g>
<defs><filter id="dt30" x="0" y="0" width="685" height="813" filterUnits="userSpaceOnUse" color-interpolation-filters="sRGB"><feGaussianBlur in="SourceAlpha" stdDeviation="2" result="d"/><feTurbulence type="fractalNoise" baseFrequency="2.2" numOctaves="1" seed="213" result="n"/><feComponentTransfer in="n" result="n2"><feFuncA type="linear" slope="2.75" intercept="-0.874"/></feComponentTransfer><feComposite in="d" in2="n2" operator="arithmetic" k1="0" k2="0.8" k3="-1" k4="-0.05" result="x"/><feComponentTransfer in="x" result="m"><feFuncA type="linear" slope="40" intercept="0"/></feComponentTransfer><feFlood flood-color="#40dd50"/><feComposite operator="in" in2="m"/></filter></defs>
<g filter="url(#dt30)">
<ellipse cx="341" cy="469" rx="6.5" ry="9" transform="rotate(0 341 469)"/>
<ellipse cx="342" cy="507" rx="12" ry="5" transform="rotate(-15 342 507)"/>
</g>
<defs><filter id="dt31" x="0" y="0" width="685" height="813" filterUnits="userSpaceOnUse" color-interpolation-filters="sRGB"><feGaussianBlur in="SourceAlpha" stdDeviation="1.4" result="d"/><feTurbulence type="fractalNoise" baseFrequency="2.2" numOctaves="1" seed="220" result="n"/><feComponentTransfer in="n" result="n2"><feFuncA type="linear" slope="2.75" intercept="-0.874"/></feComponentTransfer><feComposite in="d" in2="n2" operator="arithmetic" k1="0" k2="0.9" k3="-1" k4="-0.05" result="x"/><feComponentTransfer in="x" result="m"><feFuncA type="linear" slope="40" intercept="0"/></feComponentTransfer><feFlood flood-color="#e8f020"/><feComposite operator="in" in2="m"/></filter></defs>
<g filter="url(#dt31)">
<ellipse cx="340" cy="470" rx="1.8" ry="2.5" transform="rotate(0 340 470)"/>
<ellipse cx="340" cy="508" rx="8" ry="3.2" transform="rotate(-18 340 508)"/>
</g>
<defs><filter id="dt32" x="0" y="0" width="685" height="813" filterUnits="userSpaceOnUse" color-interpolation-filters="sRGB"><feGaussianBlur in="SourceAlpha" stdDeviation="1.2" result="d"/><feTurbulence type="fractalNoise" baseFrequency="2.2" numOctaves="1" seed="227" result="n"/><feComponentTransfer in="n" result="n2"><feFuncA type="linear" slope="2.75" intercept="-0.874"/></feComponentTransfer><feComposite in="d" in2="n2" operator="arithmetic" k1="0" k2="0.95" k3="-1" k4="-0.05" result="x"/><feComponentTransfer in="x" result="m"><feFuncA type="linear" slope="40" intercept="0"/></feComponentTransfer><feFlood flood-color="#ff7a10"/><feComposite operator="in" in2="m"/></filter></defs>
<g filter="url(#dt32)">
<ellipse cx="338.5" cy="508.5" rx="5" ry="2.2" transform="rotate(-20 338.5 508.5)"/>
</g>
<defs><filter id="dt33" x="0" y="0" width="685" height="813" filterUnits="userSpaceOnUse" color-interpolation-filters="sRGB"><feGaussianBlur in="SourceAlpha" stdDeviation="1" result="d"/><feTurbulence type="fractalNoise" baseFrequency="2.2" numOctaves="1" seed="234" result="n"/><feComponentTransfer in="n" result="n2"><feFuncA type="linear" slope="2.75" intercept="-0.874"/></feComponentTransfer><feComposite in="d" in2="n2" operator="arithmetic" k1="0" k2="0.95" k3="-1" k4="-0.05" result="x"/><feComponentTransfer in="x" result="m"><feFuncA type="linear" slope="40" intercept="0"/></feComponentTransfer><feFlood flood-color="#ff2a10"/><feComposite operator="in" in2="m"/></filter></defs>
<g filter="url(#dt33)">
<ellipse cx="337.5" cy="509" rx="2.6" ry="1.2" transform="rotate(-20 337.5 509)"/>
</g>
</g>
<rect x="316.2" y="434.1" width="86.5" height="85.6" fill="none" stroke="#555" stroke-width="0.6"/>
<line x1="315.2" y1="437.1" x2="316.2" y2="437.1" stroke="#666" stroke-width="0.4"/>
<line x1="315.2" y1="444.34" x2="316.2" y2="444.34" stroke="#666" stroke-width="0.4"/>
<line x1="315.2" y1="451.57" x2="316.2" y2="451.57" stroke="#666" stroke-width="0.4"/>
<line x1="315.2" y1="458.81" x2="316.2" y2="458.81" stroke="#666" stroke-width="0.4"/>
<line x1="315.2" y1="466.05" x2="316.2" y2="466.05" stroke="#666" stroke-width="0.4"/>
<line x1="315.2" y1="473.28" x2="316.2" y2="473.28" stroke="#666" stroke-width="0.4"/>
<line x1="315.2" y1="480.52" x2="316.2" y2="480.52" stroke="#666" stroke-width="0.4"/>
<line x1="315.2" y1="487.75" x2="316.2" y2="487.75" stroke="#666" stroke-width="0.4"/>
<line x1="315.2" y1="494.99" x2="316.2" y2="494.99" stroke="#666" stroke-width="0.4"/>
<line x1="315.2" y1="502.23" x2="316.2" y2="502.23" stroke="#666" stroke-width="0.4"/>
<line x1="315.2" y1="509.46" x2="316.2" y2="509.46" stroke="#666" stroke-width="0.4"/>
<line x1="315.2" y1="516.7" x2="316.2" y2="516.7" stroke="#666" stroke-width="0.4"/>
<line x1="319.2" y1="519.7" x2="319.2" y2="520.7" stroke="#666" stroke-width="0.4"/>
<line x1="326.52" y1="519.7" x2="326.52" y2="520.7" stroke="#666" stroke-width="0.4"/>
<line x1="333.84" y1="519.7" x2="333.84" y2="520.7" stroke="#666" stroke-width="0.4"/>
<line x1="341.15" y1="519.7" x2="341.15" y2="520.7" stroke="#666" stroke-width="0.4"/>
<line x1="348.47" y1="519.7" x2="348.47" y2="520.7" stroke="#666" stroke-width="0.4"/>
<line x1="355.79" y1="519.7" x2="355.79" y2="520.7" stroke="#666" stroke-width="0.4"/>
<line x1="363.11" y1="519.7" x2="363.11" y2="520.7" stroke="#666" stroke-width="0.4"/>
<line x1="370.43" y1="519.7" x2="370.43" y2="520.7" stroke="#666" stroke-width="0.4"/>
<line x1="377.75" y1="519.7" x2="377.75" y2="520.7" stroke="#666" stroke-width="0.4"/>
<line x1="385.06" y1="519.7" x2="385.06" y2="520.7" stroke="#666" stroke-width="0.4"/>
<line x1="392.38" y1="519.7" x2="392.38" y2="520.7" stroke="#666" stroke-width="0.4"/>
<line x1="399.7" y1="519.7" x2="399.7" y2="520.7" stroke="#666" stroke-width="0.4"/>
<circle cx="315.4" cy="491.45" r="0.8" fill="#111"/>
<rect x="343.88" y="520.3" width="2.4" height="1" fill="#111"/>
<rect x="331.6" y="456.6" width="23.9" height="28.9" fill="none" stroke="#333" stroke-width="0.5"/>
<rect x="364.3" y="489.1" width="27.2" height="25.3" fill="none" stroke="#333" stroke-width="0.5"/>
<text x="346.3" y="444.9" font-size="4.3" text-anchor="middle" font-weight="bold" fill="#111" stroke="#111" stroke-width="0.15">CD206<tspan font-size="3" dy="-1.4">−</tspan><tspan dy="1.4">MHC-II</tspan><tspan font-size="3" dy="-1.4">+</tspan></text>
<text x="346.3" y="452.6" font-size="4.3" text-anchor="middle" font-weight="bold" fill="#111" stroke="#111" stroke-width="0.15">31.8%</text>
<text x="382.5" y="463.6" font-size="4.3" text-anchor="middle" font-weight="bold" fill="#111" stroke="#111" stroke-width="0.15">CD206<tspan font-size="3" dy="-1.4">+</tspan><tspan dy="1.4">MHC-II</tspan><tspan font-size="3" dy="-1.4">−</tspan></text>
<text x="382.5" y="470.6" font-size="4.3" text-anchor="middle" font-weight="bold" fill="#111" stroke="#111" stroke-width="0.15">0.81%</text>
<defs><clipPath id="fc2"><rect x="411.5" y="434.5" width="86.9" height="86.1"/></clipPath></defs>
<g clip-path="url(#fc2)">
<g filter="url(#fb3)" opacity="0.42">
<ellipse cx="455" cy="496" rx="30.36" ry="18.4" fill="#3050f0" transform="rotate(0 455 496)"/>
<ellipse cx="437" cy="468" rx="11.04" ry="13.8" fill="#3050f0" transform="rotate(0 437 468)"/>
<ellipse cx="458" cy="470" rx="12.88" ry="11.04" fill="#3050f0" transform="rotate(0 458 470)"/>
<ellipse cx="476" cy="480" rx="11.04" ry="12.88" fill="#3050f0" transform="rotate(0 476 480)"/>
<ellipse cx="455" cy="507" rx="31.28" ry="8.28" fill="#3050f0" transform="rotate(0 455 507)"/>
</g>
<g filter="url(#dt28)">
<ellipse cx="455" cy="496" rx="33" ry="20" transform="rotate(0 455 496)"/>
<ellipse cx="437" cy="468" rx="12" ry="15" transform="rotate(0 437 468)"/>
<ellipse cx="458" cy="470" rx="14" ry="12" transform="rotate(0 458 470)"/>
<ellipse cx="476" cy="480" rx="12" ry="14" transform="rotate(0 476 480)"/>
<ellipse cx="455" cy="507" rx="34" ry="9" transform="rotate(0 455 507)"/>
</g>
<defs><filter id="dt34" x="0" y="0" width="685" height="813" filterUnits="userSpaceOnUse" color-interpolation-filters="sRGB"><feGaussianBlur in="SourceAlpha" stdDeviation="2.4" result="d"/><feTurbulence type="fractalNoise" baseFrequency="2.2" numOctaves="1" seed="241" result="n"/><feComponentTransfer in="n" result="n2"><feFuncA type="linear" slope="2.75" intercept="-0.874"/></feComponentTransfer><feComposite in="d" in2="n2" operator="arithmetic" k1="0" k2="0.7" k3="-1" k4="-0.05" result="x"/><feComponentTransfer in="x" result="m"><feFuncA type="linear" slope="40" intercept="0"/></feComponentTransfer><feFlood flood-color="#10c0f0"/><feComposite operator="in" in2="m"/></filter></defs>
<g filter="url(#dt34)">
<ellipse cx="452" cy="503" rx="27" ry="8.5" transform="rotate(0 452 503)"/>
<ellipse cx="448" cy="488" rx="12" ry="7" transform="rotate(0 448 488)"/>
</g>
<defs><filter id="dt35" x="0" y="0" width="685" height="813" filterUnits="userSpaceOnUse" color-interpolation-filters="sRGB"><feGaussianBlur in="SourceAlpha" stdDeviation="2" result="d"/><feTurbulence type="fractalNoise" baseFrequency="2.2" numOctaves="1" seed="248" result="n"/><feComponentTransfer in="n" result="n2"><feFuncA type="linear" slope="2.75" intercept="-0.874"/></feComponentTransfer><feComposite in="d" in2="n2" operator="arithmetic" k1="0" k2="0.85" k3="-1" k4="-0.05" result="x"/><feComponentTransfer in="x" result="m"><feFuncA type="linear" slope="40" intercept="0"/></feComponentTransfer><feFlood flood-color="#40dd50"/><feComposite operator="in" in2="m"/></filter></defs>
<g filter="url(#dt35)">
<ellipse cx="451" cy="505" rx="21" ry="5.2" transform="rotate(0 451 505)"/>
</g>
<defs><filter id="dt36" x="0" y="0" width="685" height="813" filterUnits="userSpaceOnUse" color-interpolation-filters="sRGB"><feGaussianBlur in="SourceAlpha" stdDeviation="1.5" result="d"/><feTurbulence type="fractalNoise" baseFrequency="2.2" numOctaves="1" seed="255" result="n"/><feComponentTransfer in="n" result="n2"><feFuncA type="linear" slope="2.75" intercept="-0.874"/></feComponentTransfer><feComposite in="d" in2="n2" operator="arithmetic" k1="0" k2="0.9" k3="-1" k4="-0.05" result="x"/><feComponentTransfer in="x" result="m"><feFuncA type="linear" slope="40" intercept="0"/></feComponentTransfer><feFlood flood-color="#e8f020"/><feComposite operator="in" in2="m"/></filter></defs>
<g filter="url(#dt36)">
<ellipse cx="452" cy="505.5" rx="14" ry="3.2" transform="rotate(0 452 505.5)"/>
</g>
<defs><filter id="dt37" x="0" y="0" width="685" height="813" filterUnits="userSpaceOnUse" color-interpolation-filters="sRGB"><feGaussianBlur in="SourceAlpha" stdDeviation="1.2" result="d"/><feTurbulence type="fractalNoise" baseFrequency="2.2" numOctaves="1" seed="262" result="n"/><feComponentTransfer in="n" result="n2"><feFuncA type="linear" slope="2.75" intercept="-0.874"/></feComponentTransfer><feComposite in="d" in2="n2" operator="arithmetic" k1="0" k2="0.95" k3="-1" k4="-0.05" result="x"/><feComponentTransfer in="x" result="m"><feFuncA type="linear" slope="40" intercept="0"/></feComponentTransfer><feFlood flood-color="#ff8a10"/><feComposite operator="in" in2="m"/></filter></defs>
<g filter="url(#dt37)">
<ellipse cx="453" cy="505.5" rx="9" ry="1.9" transform="rotate(0 453 505.5)"/>
</g>
<defs><filter id="dt38" x="0" y="0" width="685" height="813" filterUnits="userSpaceOnUse" color-interpolation-filters="sRGB"><feGaussianBlur in="SourceAlpha" stdDeviation="1" result="d"/><feTurbulence type="fractalNoise" baseFrequency="2.2" numOctaves="1" seed="269" result="n"/><feComponentTransfer in="n" result="n2"><feFuncA type="linear" slope="2.75" intercept="-0.874"/></feComponentTransfer><feComposite in="d" in2="n2" operator="arithmetic" k1="0" k2="0.95" k3="-1" k4="-0.05" result="x"/><feComponentTransfer in="x" result="m"><feFuncA type="linear" slope="40" intercept="0"/></feComponentTransfer><feFlood flood-color="#ff3a10"/><feComposite operator="in" in2="m"/></filter></defs>
<g filter="url(#dt38)">
<ellipse cx="454" cy="505.5" rx="4.5" ry="1" transform="rotate(0 454 505.5)"/>
</g>
</g>
<rect x="411.5" y="434.5" width="86.9" height="86.1" fill="none" stroke="#555" stroke-width="0.6"/>
<line x1="410.5" y1="437.5" x2="411.5" y2="437.5" stroke="#666" stroke-width="0.4"/>
<line x1="410.5" y1="444.78" x2="411.5" y2="444.78" stroke="#666" stroke-width="0.4"/>
<line x1="410.5" y1="452.06" x2="411.5" y2="452.06" stroke="#666" stroke-width="0.4"/>
<line x1="410.5" y1="459.35" x2="411.5" y2="459.35" stroke="#666" stroke-width="0.4"/>
<line x1="410.5" y1="466.63" x2="411.5" y2="466.63" stroke="#666" stroke-width="0.4"/>
<line x1="410.5" y1="473.91" x2="411.5" y2="473.91" stroke="#666" stroke-width="0.4"/>
<line x1="410.5" y1="481.19" x2="411.5" y2="481.19" stroke="#666" stroke-width="0.4"/>
<line x1="410.5" y1="488.47" x2="411.5" y2="488.47" stroke="#666" stroke-width="0.4"/>
<line x1="410.5" y1="495.75" x2="411.5" y2="495.75" stroke="#666" stroke-width="0.4"/>
<line x1="410.5" y1="503.04" x2="411.5" y2="503.04" stroke="#666" stroke-width="0.4"/>
<line x1="410.5" y1="510.32" x2="411.5" y2="510.32" stroke="#666" stroke-width="0.4"/>
<line x1="410.5" y1="517.6" x2="411.5" y2="517.6" stroke="#666" stroke-width="0.4"/>
<line x1="414.5" y1="520.6" x2="414.5" y2="521.6" stroke="#666" stroke-width="0.4"/>
<line x1="421.85" y1="520.6" x2="421.85" y2="521.6" stroke="#666" stroke-width="0.4"/>
<line x1="429.21" y1="520.6" x2="429.21" y2="521.6" stroke="#666" stroke-width="0.4"/>
<line x1="436.56" y1="520.6" x2="436.56" y2="521.6" stroke="#666" stroke-width="0.4"/>
<line x1="443.92" y1="520.6" x2="443.92" y2="521.6" stroke="#666" stroke-width="0.4"/>
<line x1="451.27" y1="520.6" x2="451.27" y2="521.6" stroke="#666" stroke-width="0.4"/>
<line x1="458.63" y1="520.6" x2="458.63" y2="521.6" stroke="#666" stroke-width="0.4"/>
<line x1="465.98" y1="520.6" x2="465.98" y2="521.6" stroke="#666" stroke-width="0.4"/>
<line x1="473.34" y1="520.6" x2="473.34" y2="521.6" stroke="#666" stroke-width="0.4"/>
<line x1="480.69" y1="520.6" x2="480.69" y2="521.6" stroke="#666" stroke-width="0.4"/>
<line x1="488.05" y1="520.6" x2="488.05" y2="521.6" stroke="#666" stroke-width="0.4"/>
<line x1="495.4" y1="520.6" x2="495.4" y2="521.6" stroke="#666" stroke-width="0.4"/>
<circle cx="410.7" cy="492.19" r="0.8" fill="#111"/>
<rect x="439.31" y="521.2" width="2.4" height="1" fill="#111"/>
<rect x="426.6" y="457.1" width="24.1" height="28.4" fill="none" stroke="#333" stroke-width="0.5"/>
<rect x="459.4" y="489.3" width="27.4" height="25.1" fill="none" stroke="#333" stroke-width="0.5"/>
<text x="438.6" y="445.5" font-size="4.3" text-anchor="middle" font-weight="bold" fill="#111" stroke="#111" stroke-width="0.15">CD206<tspan font-size="3" dy="-1.4">−</tspan><tspan dy="1.4">MHC-II</tspan><tspan font-size="3" dy="-1.4">+</tspan></text>
<text x="438.6" y="453.1" font-size="4.3" text-anchor="middle" font-weight="bold" fill="#111" stroke="#111" stroke-width="0.15">5.71%</text>
<text x="478.7" y="461.9" font-size="4.3" text-anchor="middle" font-weight="bold" fill="#111" stroke="#111" stroke-width="0.15">CD206<tspan font-size="3" dy="-1.4">+</tspan><tspan dy="1.4">MHC-II</tspan><tspan font-size="3" dy="-1.4">−</tspan></text>
<text x="479.8" y="468.9" font-size="4.3" text-anchor="middle" font-weight="bold" fill="#111" stroke="#111" stroke-width="0.15">25.1%</text>
<path d="M302,505 L302,533.5 L329.7,533.5" fill="none" stroke="#222" stroke-width="0.6"/>
<path d="M300.3,507.2 L302,504.6 L303.7,507.2" fill="none" stroke="#222" stroke-width="0.6"/>
<path d="M327.5,531.8 L330.1,533.5 L327.5,535.2" fill="none" stroke="#222" stroke-width="0.6"/>
<text x="297.6" y="518" font-size="6.3" text-anchor="middle" fill="#222" stroke="#222" stroke-width="0.18" transform="rotate(-90 297.6 518)">MHC-II</text>
<text x="314" y="542.6" font-size="6.3" text-anchor="middle" fill="#222" stroke="#222" stroke-width="0.18">CD206</text>
<line x1="532.6" y1="449.9" x2="532.6" y2="510.4" stroke="#444" stroke-width="1"/>
<line x1="532.1" y1="509.9" x2="571" y2="509.9" stroke="#444" stroke-width="1"/>
<line x1="531.2" y1="509.9" x2="532.6" y2="509.9" stroke="#333" stroke-width="0.5"/>
<text x="530.7" y="511.41" font-size="4.2" text-anchor="end" fill="#222" stroke="#222" stroke-width="0.15">0</text>
<line x1="531.2" y1="494.97" x2="532.6" y2="494.97" stroke="#333" stroke-width="0.5"/>
<text x="530.7" y="496.49" font-size="4.2" text-anchor="end" fill="#222" stroke="#222" stroke-width="0.15">10</text>
<line x1="531.2" y1="480.05" x2="532.6" y2="480.05" stroke="#333" stroke-width="0.5"/>
<text x="530.7" y="481.56" font-size="4.2" text-anchor="end" fill="#222" stroke="#222" stroke-width="0.15">20</text>
<line x1="531.2" y1="465.12" x2="532.6" y2="465.12" stroke="#333" stroke-width="0.5"/>
<text x="530.7" y="466.64" font-size="4.2" text-anchor="end" fill="#222" stroke="#222" stroke-width="0.15">30</text>
<line x1="531.2" y1="450.2" x2="532.6" y2="450.2" stroke="#333" stroke-width="0.5"/>
<text x="530.7" y="451.71" font-size="4.2" text-anchor="end" fill="#222" stroke="#222" stroke-width="0.15">40</text>
<line x1="543.9" y1="509.9" x2="543.9" y2="511.3" stroke="#333" stroke-width="0.5"/>
<line x1="543.9" y1="454.68" x2="543.9" y2="463.63" stroke="#1a1aff" stroke-width="0.75"/>
<line x1="541.4" y1="454.68" x2="546.4" y2="454.68" stroke="#1a1aff" stroke-width="0.75"/>
<line x1="541.4" y1="463.63" x2="546.4" y2="463.63" stroke="#1a1aff" stroke-width="0.75"/>
<line x1="538.4" y1="459.15" x2="549.4" y2="459.15" stroke="#1a1aff" stroke-width="0.75"/>
<circle cx="544.14" cy="453.93" r="1.35" fill="#1a1aff"/>
<circle cx="543.18" cy="460.65" r="1.35" fill="#1a1aff"/>
<circle cx="544.62" cy="462.14" r="1.35" fill="#1a1aff"/>
<line x1="560.7" y1="509.9" x2="560.7" y2="511.3" stroke="#333" stroke-width="0.5"/>
<line x1="560.7" y1="499" x2="560.7" y2="503.48" stroke="#ff1a1a" stroke-width="0.75"/>
<line x1="558.2" y1="499" x2="563.2" y2="499" stroke="#ff1a1a" stroke-width="0.75"/>
<line x1="558.2" y1="503.48" x2="563.2" y2="503.48" stroke="#ff1a1a" stroke-width="0.75"/>
<line x1="555.2" y1="501.24" x2="566.2" y2="501.24" stroke="#ff1a1a" stroke-width="0.75"/>
<rect x="559.35" y="497.36" width="2.7" height="2.7" fill="#ff1a1a"/>
<rect x="559.35" y="500.79" width="2.7" height="2.7" fill="#ff1a1a"/>
<rect x="559.35" y="501.98" width="2.7" height="2.7" fill="#ff1a1a"/>
<line x1="544.4" y1="446.3" x2="558.9" y2="446.3" stroke="#111" stroke-width="0.75"/>
<text x="551.65" y="445.8" font-size="6.6" text-anchor="middle" fill="#111" stroke="#111" stroke-width="0.18">***</text>
<text x="542.2" y="521" font-size="6.8" text-anchor="middle" font-weight="bold" stroke="#000" stroke-width="0.18">Control</text>
<text x="564.1" y="521" font-size="6.8" text-anchor="middle" font-weight="bold" stroke="#000" stroke-width="0.18">SP</text>
<text x="519.6" y="477.8" font-size="6.3" text-anchor="middle" fill="#222" stroke="#222" stroke-width="0.18" transform="rotate(-90 519.6 477.8)">% CD206<tspan font-size="4.4" dy="-2">−</tspan><tspan dy="2">MHC-II</tspan><tspan font-size="4.4" dy="-2">+</tspan><tspan dy="2"> of Macrophages</tspan></text>
<line x1="594.3" y1="449.9" x2="594.3" y2="510.4" stroke="#444" stroke-width="1"/>
<line x1="593.8" y1="509.9" x2="635" y2="509.9" stroke="#444" stroke-width="1"/>
<line x1="592.9" y1="509.9" x2="594.3" y2="509.9" stroke="#333" stroke-width="0.5"/>
<text x="592.4" y="511.41" font-size="4.2" text-anchor="end" fill="#222" stroke="#222" stroke-width="0.15">0</text>
<line x1="592.9" y1="490" x2="594.3" y2="490" stroke="#333" stroke-width="0.5"/>
<text x="592.4" y="491.51" font-size="4.2" text-anchor="end" fill="#222" stroke="#222" stroke-width="0.15">10</text>
<line x1="592.9" y1="470.1" x2="594.3" y2="470.1" stroke="#333" stroke-width="0.5"/>
<text x="592.4" y="471.61" font-size="4.2" text-anchor="end" fill="#222" stroke="#222" stroke-width="0.15">20</text>
<line x1="592.9" y1="450.2" x2="594.3" y2="450.2" stroke="#333" stroke-width="0.5"/>
<text x="592.4" y="451.71" font-size="4.2" text-anchor="end" fill="#222" stroke="#222" stroke-width="0.15">30</text>
<line x1="606.2" y1="509.9" x2="606.2" y2="511.3" stroke="#333" stroke-width="0.5"/>
<line x1="606.2" y1="506.62" x2="606.2" y2="508.21" stroke="#1a1aff" stroke-width="0.75"/>
<line x1="603.7" y1="506.62" x2="608.7" y2="506.62" stroke="#1a1aff" stroke-width="0.75"/>
<line x1="603.7" y1="508.21" x2="608.7" y2="508.21" stroke="#1a1aff" stroke-width="0.75"/>
<line x1="600.7" y1="507.41" x2="611.7" y2="507.41" stroke="#1a1aff" stroke-width="0.75"/>
<circle cx="606.44" cy="506.72" r="1.35" fill="#1a1aff"/>
<circle cx="605.48" cy="507.51" r="1.35" fill="#1a1aff"/>
<circle cx="606.92" cy="507.91" r="1.35" fill="#1a1aff"/>
<line x1="624.5" y1="509.9" x2="624.5" y2="511.3" stroke="#333" stroke-width="0.5"/>
<line x1="624.5" y1="453.58" x2="624.5" y2="474.68" stroke="#ff1a1a" stroke-width="0.75"/>
<line x1="622" y1="453.58" x2="627" y2="453.58" stroke="#ff1a1a" stroke-width="0.75"/>
<line x1="622" y1="474.68" x2="627" y2="474.68" stroke="#ff1a1a" stroke-width="0.75"/>
<line x1="619" y1="464.13" x2="630" y2="464.13" stroke="#ff1a1a" stroke-width="0.75"/>
<rect x="623.15" y="452.83" width="2.7" height="2.7" fill="#ff1a1a"/>
<rect x="623.15" y="466.76" width="2.7" height="2.7" fill="#ff1a1a"/>
<rect x="623.15" y="474.72" width="2.7" height="2.7" fill="#ff1a1a"/>
<line x1="608.3" y1="448.9" x2="623.2" y2="448.9" stroke="#111" stroke-width="0.75"/>
<text x="615.75" y="448.3" font-size="6.6" text-anchor="middle" fill="#111" stroke="#111" stroke-width="0.18">**</text>
<text x="603.9" y="521" font-size="6.8" text-anchor="middle" font-weight="bold" stroke="#000" stroke-width="0.18">Control</text>
<text x="626.4" y="521" font-size="6.8" text-anchor="middle" font-weight="bold" stroke="#000" stroke-width="0.18">SP</text>
<text x="583.2" y="479" font-size="6.3" text-anchor="middle" fill="#222" stroke="#222" stroke-width="0.18" transform="rotate(-90 583.2 479)">% CD206<tspan font-size="4.4" dy="-2">+</tspan><tspan dy="2">MHC-II</tspan><tspan font-size="4.4" dy="-2">−</tspan><tspan dy="2"> of Macrophages</tspan></text>
<text x="0.6" y="588" font-size="8.4" font-weight="bold" stroke="#000" stroke-width="0.2">I</text>
<text x="62.3" y="598.3" font-size="6.7" text-anchor="middle" fill="#222" stroke="#222" stroke-width="0.18">M0 macrophages</text>
<path d="M37.8,605.8 L37.8,630.3 L84.4,630.3 L84.4,605.8" fill="none" stroke="#777" stroke-width="0.5"/>
<path d="M32.1,608.8 L37.8,605.8 L45.4,617.4 L77.3,617.4 L84.4,605.8 L89.9,608.8" fill="none" stroke="#5ab4e6" stroke-width="0.6"/>
<g fill="#e5d21d" stroke="#8a7a10" stroke-width="0.25"><circle cx="46" cy="617" r="0.75"/><circle cx="47.55" cy="617" r="0.75"/><circle cx="49.1" cy="617" r="0.75"/><circle cx="50.65" cy="617" r="0.75"/><circle cx="52.2" cy="617" r="0.75"/><circle cx="53.75" cy="617" r="0.75"/><circle cx="55.3" cy="617" r="0.75"/><circle cx="56.85" cy="617" r="0.75"/><circle cx="58.4" cy="617" r="0.75"/><circle cx="59.95" cy="617" r="0.75"/><circle cx="61.5" cy="617" r="0.75"/><circle cx="63.05" cy="617" r="0.75"/><circle cx="64.6" cy="617" r="0.75"/><circle cx="66.15" cy="617" r="0.75"/><circle cx="67.7" cy="617" r="0.75"/><circle cx="69.25" cy="617" r="0.75"/><circle cx="70.8" cy="617" r="0.75"/><circle cx="72.35" cy="617" r="0.75"/><circle cx="73.9" cy="617" r="0.75"/><circle cx="75.45" cy="617" r="0.75"/></g>
<g fill="#c41e24" stroke="#701018" stroke-width="0.25"><circle cx="39.3" cy="629.2" r="0.95"/><circle cx="41.2" cy="629.2" r="0.95"/><circle cx="43.1" cy="629.2" r="0.95"/><circle cx="45" cy="629.2" r="0.95"/><circle cx="46.9" cy="629.2" r="0.95"/><circle cx="48.8" cy="629.2" r="0.95"/><circle cx="50.7" cy="629.2" r="0.95"/><circle cx="52.6" cy="629.2" r="0.95"/><circle cx="54.5" cy="629.2" r="0.95"/><circle cx="56.4" cy="629.2" r="0.95"/><circle cx="58.3" cy="629.2" r="0.95"/><circle cx="60.2" cy="629.2" r="0.95"/><circle cx="62.1" cy="629.2" r="0.95"/><circle cx="64" cy="629.2" r="0.95"/><circle cx="65.9" cy="629.2" r="0.95"/><circle cx="67.8" cy="629.2" r="0.95"/><circle cx="69.7" cy="629.2" r="0.95"/><circle cx="71.6" cy="629.2" r="0.95"/><circle cx="73.5" cy="629.2" r="0.95"/><circle cx="75.4" cy="629.2" r="0.95"/><circle cx="77.3" cy="629.2" r="0.95"/><circle cx="79.2" cy="629.2" r="0.95"/><circle cx="81.1" cy="629.2" r="0.95"/></g>
<line x1="71.5" y1="614.3" x2="116.5" y2="614.3" stroke="#555" stroke-width="0.5"/>
<path d="M114.52,615.26L116.5,614.3L114.52,613.34" fill="none" stroke="#555" stroke-width="0.5"/>
<g transform="translate(123.6 614.3) scale(0.95)"><path d="M-4,0.5 C-4,-1.8 -2,-2.2 -1,-1.2 C0,-2.8 2.2,-2.4 2.4,-0.8 C3.6,-1.3 4.6,0 3.6,1 C4.2,2.2 2.6,3 1.6,2.2 C0.8,3.2 -1.2,3 -1.4,2 C-2.8,2.8 -4.4,1.8 -4,0.5Z" fill="#e8c61a" stroke="#8a7210" stroke-width="0.35"/><circle cx="-1.6" cy="0.2" r="0.5" fill="#8a7210"/><circle cx="0.5" cy="-0.3" r="0.5" fill="#8a7210"/><circle cx="2" cy="0.8" r="0.5" fill="#8a7210"/></g>
<text x="99.7" y="623" font-size="6.7" text-anchor="middle" fill="#222" stroke="#222" stroke-width="0.18">Coculture</text>
<text x="99.7" y="631.6" font-size="6.7" text-anchor="middle" fill="#222" stroke="#222" stroke-width="0.18">16h</text>
<text x="61.3" y="642.2" font-size="6.7" text-anchor="middle" fill="#222" stroke="#222" stroke-width="0.18">SP-GFP MC38</text>
<text x="117.7" y="673" font-size="9.3" text-anchor="middle" fill="#222">Transwell chamber</text>
<line x1="180.7" y1="589.5" x2="180.7" y2="606.6" stroke="#333" stroke-width="0.8"/>
<line x1="179.3" y1="606.6" x2="180.7" y2="606.6" stroke="#333" stroke-width="0.5"/>
<text x="178.8" y="608.1" font-size="4.2" text-anchor="end" fill="#222" stroke="#222" stroke-width="0.15">40</text>
<line x1="179.3" y1="598.2" x2="180.7" y2="598.2" stroke="#333" stroke-width="0.5"/>
<text x="178.8" y="599.7" font-size="4.2" text-anchor="end" fill="#222" stroke="#222" stroke-width="0.15">50</text>
<line x1="179.3" y1="589.8" x2="180.7" y2="589.8" stroke="#333" stroke-width="0.5"/>
<text x="178.8" y="591.3" font-size="4.2" text-anchor="end" fill="#222" stroke="#222" stroke-width="0.15">60</text>
<line x1="180.7" y1="611" x2="180.7" y2="649.5" stroke="#333" stroke-width="0.8"/>
<line x1="180.7" y1="649.5" x2="241.7" y2="649.5" stroke="#333" stroke-width="0.8"/>
<line x1="179.3" y1="649.5" x2="180.7" y2="649.5" stroke="#333" stroke-width="0.5"/>
<text x="178.8" y="651" font-size="4.2" text-anchor="end" fill="#222" stroke="#222" stroke-width="0.15">0</text>
<line x1="179.3" y1="630.25" x2="180.7" y2="630.25" stroke="#333" stroke-width="0.5"/>
<text x="178.8" y="631.75" font-size="4.2" text-anchor="end" fill="#222" stroke="#222" stroke-width="0.15">1</text>
<line x1="179.3" y1="611" x2="180.7" y2="611" stroke="#333" stroke-width="0.5"/>
<text x="178.8" y="612.5" font-size="4.2" text-anchor="end" fill="#222" stroke="#222" stroke-width="0.15">2</text>
<line x1="179.1" y1="607.5" x2="182.3" y2="606.2" stroke="#333" stroke-width="0.5"/>
<line x1="179.1" y1="611.6" x2="182.3" y2="610.3" stroke="#333" stroke-width="0.5"/>
<line x1="190.3" y1="649.5" x2="190.3" y2="650.9" stroke="#333" stroke-width="0.5"/>
<line x1="211.2" y1="649.5" x2="211.2" y2="650.9" stroke="#333" stroke-width="0.5"/>
<line x1="232.4" y1="649.5" x2="232.4" y2="650.9" stroke="#333" stroke-width="0.5"/>
<line x1="186.3" y1="622.55" x2="186.3" y2="632.17" stroke="#1a1aff" stroke-width="0.7"/>
<line x1="185" y1="622.55" x2="187.6" y2="622.55" stroke="#1a1aff" stroke-width="0.7"/>
<line x1="185" y1="632.17" x2="187.6" y2="632.17" stroke="#1a1aff" stroke-width="0.7"/>
<line x1="184.05" y1="627.36" x2="188.55" y2="627.36" stroke="#1a1aff" stroke-width="0.7"/>
<circle cx="186.6" cy="621.59" r="1.4" fill="#1a1aff"/>
<circle cx="185.4" cy="630.25" r="1.4" fill="#1a1aff"/>
<circle cx="187.2" cy="631.21" r="1.4" fill="#1a1aff"/>
<line x1="193.9" y1="601.73" x2="193.9" y2="603.74" stroke="#ff1a1a" stroke-width="0.7"/>
<line x1="192.6" y1="601.73" x2="195.2" y2="601.73" stroke="#ff1a1a" stroke-width="0.7"/>
<line x1="192.6" y1="603.74" x2="195.2" y2="603.74" stroke="#ff1a1a" stroke-width="0.7"/>
<line x1="191.65" y1="602.74" x2="196.15" y2="602.74" stroke="#ff1a1a" stroke-width="0.7"/>
<rect x="192.6" y="600.26" width="2.6" height="2.6" fill="#ff1a1a"/>
<rect x="192.6" y="601.52" width="2.6" height="2.6" fill="#ff1a1a"/>
<rect x="192.6" y="602.36" width="2.6" height="2.6" fill="#ff1a1a"/>
<line x1="206.7" y1="631.21" x2="206.7" y2="640.84" stroke="#1a1aff" stroke-width="0.7"/>
<line x1="205.4" y1="631.21" x2="208" y2="631.21" stroke="#1a1aff" stroke-width="0.7"/>
<line x1="205.4" y1="640.84" x2="208" y2="640.84" stroke="#1a1aff" stroke-width="0.7"/>
<line x1="204.45" y1="636.02" x2="208.95" y2="636.02" stroke="#1a1aff" stroke-width="0.7"/>
<circle cx="207" cy="630.25" r="1.4" fill="#1a1aff"/>
<circle cx="205.8" cy="637.95" r="1.4" fill="#1a1aff"/>
<circle cx="207.6" cy="639.88" r="1.4" fill="#1a1aff"/>
<line x1="214.7" y1="647.77" x2="214.7" y2="648.54" stroke="#ff1a1a" stroke-width="0.7"/>
<line x1="213.4" y1="647.77" x2="216" y2="647.77" stroke="#ff1a1a" stroke-width="0.7"/>
<line x1="213.4" y1="648.54" x2="216" y2="648.54" stroke="#ff1a1a" stroke-width="0.7"/>
<line x1="212.45" y1="648.15" x2="216.95" y2="648.15" stroke="#ff1a1a" stroke-width="0.7"/>
<rect x="213.4" y="646.47" width="2.6" height="2.6" fill="#ff1a1a"/>
<rect x="213.4" y="646.85" width="2.6" height="2.6" fill="#ff1a1a"/>
<rect x="213.4" y="647.24" width="2.6" height="2.6" fill="#ff1a1a"/>
<line x1="227.3" y1="630.44" x2="227.3" y2="631.98" stroke="#1a1aff" stroke-width="0.7"/>
<line x1="226" y1="630.44" x2="228.6" y2="630.44" stroke="#1a1aff" stroke-width="0.7"/>
<line x1="226" y1="631.98" x2="228.6" y2="631.98" stroke="#1a1aff" stroke-width="0.7"/>
<line x1="225.05" y1="631.21" x2="229.55" y2="631.21" stroke="#1a1aff" stroke-width="0.7"/>
<circle cx="227.6" cy="630.63" r="1.4" fill="#1a1aff"/>
<circle cx="226.4" cy="631.21" r="1.4" fill="#1a1aff"/>
<circle cx="228.2" cy="632.17" r="1.4" fill="#1a1aff"/>
<line x1="235.6" y1="619.08" x2="235.6" y2="633.72" stroke="#ff1a1a" stroke-width="0.7"/>
<line x1="234.3" y1="619.08" x2="236.9" y2="619.08" stroke="#ff1a1a" stroke-width="0.7"/>
<line x1="234.3" y1="633.72" x2="236.9" y2="633.72" stroke="#ff1a1a" stroke-width="0.7"/>
<line x1="233.35" y1="626.4" x2="237.85" y2="626.4" stroke="#ff1a1a" stroke-width="0.7"/>
<rect x="234.3" y="617.4" width="2.6" height="2.6" fill="#ff1a1a"/>
<rect x="234.3" y="625.1" width="2.6" height="2.6" fill="#ff1a1a"/>
<rect x="234.3" y="631.84" width="2.6" height="2.6" fill="#ff1a1a"/>
<line x1="185.8" y1="595.2" x2="193.5" y2="595.2" stroke="#111" stroke-width="0.75"/>
<text x="189.65" y="594.8" font-size="5.2" text-anchor="middle" fill="#111" stroke="#111" stroke-width="0.16">***</text>
<line x1="208" y1="621.4" x2="216" y2="621.4" stroke="#111" stroke-width="0.75"/>
<text x="212" y="621" font-size="5.2" text-anchor="middle" fill="#111" stroke="#111" stroke-width="0.16">*</text>
<line x1="227.3" y1="611.4" x2="235" y2="611.4" stroke="#111" stroke-width="0.75"/>
<text x="231.15" y="609.8" font-size="5.8" text-anchor="middle" fill="#111" stroke="#111" stroke-width="0.17">ns</text>
<text x="190.3" y="660.7" font-size="6.8" text-anchor="middle" font-weight="bold" stroke="#000" stroke-width="0.18">ARG1</text>
<text x="211.2" y="660.7" font-size="6.8" text-anchor="middle" font-weight="bold" stroke="#000" stroke-width="0.18">CD86</text>
<text x="232.4" y="660.7" font-size="6.8" text-anchor="middle" font-weight="bold" stroke="#000" stroke-width="0.18">TNFα</text>
<text x="167.4" y="619" font-size="6.4" text-anchor="middle" fill="#222" stroke="#222" stroke-width="0.18" transform="rotate(-90 167.4 619)">Gene relative expression</text>
<circle cx="249.7" cy="591.7" r="1.1" fill="#1a1aff"/>
<text x="253.8" y="593.2" font-size="4.3" fill="#222" stroke="#222" stroke-width="0.15">Control</text>
<rect x="248.7" y="598.7" width="2.1" height="2.1" fill="#ff1a1a"/>
<text x="253.8" y="601.2" font-size="4.3" fill="#222" stroke="#222" stroke-width="0.15">SP</text>
<text x="285" y="567.5" font-size="8.4" font-weight="bold" stroke="#000" stroke-width="0.2">J</text>
<text x="396" y="554" font-size="6.7" text-anchor="middle" fill="#222" stroke="#222" stroke-width="0.18">BMDM : MC38= 2:1</text>
<line x1="338" y1="559.3" x2="461.8" y2="559.3" stroke="#222" stroke-width="0.6"/>
<text x="354.4" y="571.9" font-size="6.7" text-anchor="middle" fill="#222" stroke="#222" stroke-width="0.18">Control</text>
<text x="447.3" y="570.3" font-size="6.7" text-anchor="middle" fill="#222" stroke="#222" stroke-width="0.18">SP</text>
<defs><clipPath id="fc3"><rect x="315.9" y="575.3" width="85.7" height="84.9"/></clipPath></defs>
<g clip-path="url(#fc3)">
<g filter="url(#fb3)" opacity="0.42">
<ellipse cx="344" cy="611" rx="12.88" ry="17.48" fill="#3050f0" transform="rotate(0 344 611)"/>
<ellipse cx="342" cy="630" rx="11.96" ry="7.36" fill="#3050f0" transform="rotate(0 342 630)"/>
<ellipse cx="340" cy="645" rx="13.8" ry="11.04" fill="#3050f0" transform="rotate(0 340 645)"/>
<ellipse cx="356" cy="626" rx="7.36" ry="11.96" fill="#3050f0" transform="rotate(0 356 626)"/>
<ellipse cx="358" cy="610" rx="6.44" ry="10.12" fill="#3050f0" transform="rotate(-30 358 610)"/>
<ellipse cx="376" cy="598" rx="12.88" ry="2.94" fill="#3050f0" transform="rotate(-35 376 598)"/>
</g>
<g filter="url(#dt28)">
<ellipse cx="344" cy="611" rx="14" ry="19" transform="rotate(0 344 611)"/>
<ellipse cx="342" cy="630" rx="13" ry="8" transform="rotate(0 342 630)"/>
<ellipse cx="340" cy="645" rx="15" ry="12" transform="rotate(0 340 645)"/>
<ellipse cx="356" cy="626" rx="8" ry="13" transform="rotate(0 356 626)"/>
<ellipse cx="358" cy="610" rx="7" ry="11" transform="rotate(-30 358 610)"/>
<ellipse cx="376" cy="598" rx="14" ry="3.2" transform="rotate(-35 376 598)"/>
</g>
<g filter="url(#dt34)">
<ellipse cx="344" cy="611" rx="10" ry="14" transform="rotate(0 344 611)"/>
<ellipse cx="340" cy="645" rx="10" ry="9" transform="rotate(0 340 645)"/>
</g>
<defs><filter id="dt39" x="0" y="0" width="685" height="813" filterUnits="userSpaceOnUse" color-interpolation-filters="sRGB"><feGaussianBlur in="SourceAlpha" stdDeviation="2" result="d"/><feTurbulence type="fractalNoise" baseFrequency="2.2" numOctaves="1" seed="276" result="n"/><feComponentTransfer in="n" result="n2"><feFuncA type="linear" slope="2.75" intercept="-0.874"/></feComponentTransfer><feComposite in="d" in2="n2" operator="arithmetic" k1="0" k2="0.75" k3="-1" k4="-0.05" result="x"/><feComponentTransfer in="x" result="m"><feFuncA type="linear" slope="40" intercept="0"/></feComponentTransfer><feFlood flood-color="#40dd50"/><feComposite operator="in" in2="m"/></filter></defs>
<g filter="url(#dt39)">
<ellipse cx="344" cy="610" rx="6.5" ry="10" transform="rotate(0 344 610)"/>
<ellipse cx="339" cy="646" rx="7" ry="6.5" transform="rotate(0 339 646)"/>
</g>
<defs><filter id="dt40" x="0" y="0" width="685" height="813" filterUnits="userSpaceOnUse" color-interpolation-filters="sRGB"><feGaussianBlur in="SourceAlpha" stdDeviation="1.5" result="d"/><feTurbulence type="fractalNoise" baseFrequency="2.2" numOctaves="1" seed="283" result="n"/><feComponentTransfer in="n" result="n2"><feFuncA type="linear" slope="2.75" intercept="-0.874"/></feComponentTransfer><feComposite in="d" in2="n2" operator="arithmetic" k1="0" k2="0.85" k3="-1" k4="-0.05" result="x"/><feComponentTransfer in="x" result="m"><feFuncA type="linear" slope="40" intercept="0"/></feComponentTransfer><feFlood flood-color="#e8f020"/><feComposite operator="in" in2="m"/></filter></defs>
<g filter="url(#dt40)">
<ellipse cx="344" cy="609" rx="2.5" ry="4" transform="rotate(0 344 609)"/>
<ellipse cx="338.5" cy="647" rx="4" ry="3.5" transform="rotate(0 338.5 647)"/>
</g>
<defs><filter id="dt41" x="0" y="0" width="685" height="813" filterUnits="userSpaceOnUse" color-interpolation-filters="sRGB"><feGaussianBlur in="SourceAlpha" stdDeviation="1" result="d"/><feTurbulence type="fractalNoise" baseFrequency="2.2" numOctaves="1" seed="290" result="n"/><feComponentTransfer in="n" result="n2"><feFuncA type="linear" slope="2.75" intercept="-0.874"/></feComponentTransfer><feComposite in="d" in2="n2" operator="arithmetic" k1="0" k2="0.9" k3="-1" k4="-0.05" result="x"/><feComponentTransfer in="x" result="m"><feFuncA type="linear" slope="40" intercept="0"/></feComponentTransfer><feFlood flood-color="#ff8a10"/><feComposite operator="in" in2="m"/></filter></defs>
<g filter="url(#dt41)">
<ellipse cx="338" cy="648" rx="2" ry="1.8" transform="rotate(0 338 648)"/>
</g>
</g>
<rect x="315.9" y="575.3" width="85.7" height="84.9" fill="none" stroke="#555" stroke-width="0.6"/>
<line x1="314.9" y1="578.3" x2="315.9" y2="578.3" stroke="#666" stroke-width="0.4"/>
<line x1="314.9" y1="585.47" x2="315.9" y2="585.47" stroke="#666" stroke-width="0.4"/>
<line x1="314.9" y1="592.65" x2="315.9" y2="592.65" stroke="#666" stroke-width="0.4"/>
<line x1="314.9" y1="599.82" x2="315.9" y2="599.82" stroke="#666" stroke-width="0.4"/>
<line x1="314.9" y1="606.99" x2="315.9" y2="606.99" stroke="#666" stroke-width="0.4"/>
<line x1="314.9" y1="614.16" x2="315.9" y2="614.16" stroke="#666" stroke-width="0.4"/>
<line x1="314.9" y1="621.34" x2="315.9" y2="621.34" stroke="#666" stroke-width="0.4"/>
<line x1="314.9" y1="628.51" x2="315.9" y2="628.51" stroke="#666" stroke-width="0.4"/>
<line x1="314.9" y1="635.68" x2="315.9" y2="635.68" stroke="#666" stroke-width="0.4"/>
<line x1="314.9" y1="642.85" x2="315.9" y2="642.85" stroke="#666" stroke-width="0.4"/>
<line x1="314.9" y1="650.03" x2="315.9" y2="650.03" stroke="#666" stroke-width="0.4"/>
<line x1="314.9" y1="657.2" x2="315.9" y2="657.2" stroke="#666" stroke-width="0.4"/>
<line x1="318.9" y1="660.2" x2="318.9" y2="661.2" stroke="#666" stroke-width="0.4"/>
<line x1="326.15" y1="660.2" x2="326.15" y2="661.2" stroke="#666" stroke-width="0.4"/>
<line x1="333.39" y1="660.2" x2="333.39" y2="661.2" stroke="#666" stroke-width="0.4"/>
<line x1="340.64" y1="660.2" x2="340.64" y2="661.2" stroke="#666" stroke-width="0.4"/>
<line x1="347.88" y1="660.2" x2="347.88" y2="661.2" stroke="#666" stroke-width="0.4"/>
<line x1="355.13" y1="660.2" x2="355.13" y2="661.2" stroke="#666" stroke-width="0.4"/>
<line x1="362.37" y1="660.2" x2="362.37" y2="661.2" stroke="#666" stroke-width="0.4"/>
<line x1="369.62" y1="660.2" x2="369.62" y2="661.2" stroke="#666" stroke-width="0.4"/>
<line x1="376.86" y1="660.2" x2="376.86" y2="661.2" stroke="#666" stroke-width="0.4"/>
<line x1="384.11" y1="660.2" x2="384.11" y2="661.2" stroke="#666" stroke-width="0.4"/>
<line x1="391.35" y1="660.2" x2="391.35" y2="661.2" stroke="#666" stroke-width="0.4"/>
<line x1="398.6" y1="660.2" x2="398.6" y2="661.2" stroke="#666" stroke-width="0.4"/>
<circle cx="315.1" cy="632.18" r="0.8" fill="#111"/>
<rect x="343.32" y="660.8" width="2.4" height="1" fill="#111"/>
<rect x="331.4" y="595.4" width="26.5" height="33.6" fill="none" stroke="#333" stroke-width="0.5"/>
<rect x="361.3" y="632.3" width="32.2" height="20.2" fill="none" stroke="#333" stroke-width="0.5"/>
<text x="347.2" y="585.2" font-size="4.3" text-anchor="middle" font-weight="bold" fill="#111" stroke="#111" stroke-width="0.15">CD206<tspan font-size="3" dy="-1.4">−</tspan><tspan dy="1.4">MHC-II</tspan><tspan font-size="3" dy="-1.4">+</tspan></text>
<text x="348.8" y="593.5" font-size="4.3" text-anchor="middle" font-weight="bold" fill="#111" stroke="#111" stroke-width="0.15">48.2%</text>
<text x="382.4" y="617.4" font-size="4.3" text-anchor="middle" font-weight="bold" fill="#111" stroke="#111" stroke-width="0.15">CD206<tspan font-size="3" dy="-1.4">+</tspan><tspan dy="1.4">MHC-II</tspan><tspan font-size="3" dy="-1.4">−</tspan></text>
<text x="380.7" y="624.5" font-size="4.3" text-anchor="middle" font-weight="bold" fill="#111" stroke="#111" stroke-width="0.15">1.2%</text>
<defs><clipPath id="fc4"><rect x="408.6" y="575.3" width="85.3" height="84.9"/></clipPath></defs>
<g clip-path="url(#fc4)">
<g filter="url(#fb3)" opacity="0.42">
<ellipse cx="455" cy="622" rx="30.36" ry="26.68" fill="#3050f0" transform="rotate(0 455 622)"/>
<ellipse cx="440" cy="600" rx="14.72" ry="8.28" fill="#3050f0" transform="rotate(0 440 600)"/>
<ellipse cx="432" cy="645" rx="12.88" ry="9.2" fill="#3050f0" transform="rotate(0 432 645)"/>
<ellipse cx="478" cy="640" rx="11.04" ry="11.04" fill="#3050f0" transform="rotate(0 478 640)"/>
<ellipse cx="470" cy="600" rx="12.88" ry="9.2" fill="#3050f0" transform="rotate(0 470 600)"/>
</g>
<g filter="url(#dt28)">
<ellipse cx="455" cy="622" rx="33" ry="29" transform="rotate(0 455 622)"/>
<ellipse cx="440" cy="600" rx="16" ry="9" transform="rotate(0 440 600)"/>
<ellipse cx="432" cy="645" rx="14" ry="10" transform="rotate(0 432 645)"/>
<ellipse cx="478" cy="640" rx="12" ry="12" transform="rotate(0 478 640)"/>
<ellipse cx="470" cy="600" rx="14" ry="10" transform="rotate(0 470 600)"/>
</g>
<defs><filter id="dt42" x="0" y="0" width="685" height="813" filterUnits="userSpaceOnUse" color-interpolation-filters="sRGB"><feGaussianBlur in="SourceAlpha" stdDeviation="3" result="d"/><feTurbulence type="fractalNoise" baseFrequency="2.2" numOctaves="1" seed="297" result="n"/><feComponentTransfer in="n" result="n2"><feFuncA type="linear" slope="2.75" intercept="-0.874"/></feComponentTransfer><feComposite in="d" in2="n2" operator="arithmetic" k1="0" k2="0.6" k3="-1" k4="-0.05" result="x"/><feComponentTransfer in="x" result="m"><feFuncA type="linear" slope="40" intercept="0"/></feComponentTransfer><feFlood flood-color="#10c0f0"/><feComposite operator="in" in2="m"/></filter></defs>
<g filter="url(#dt42)">
<ellipse cx="456" cy="621" rx="24" ry="21" transform="rotate(0 456 621)"/>
</g>
<defs><filter id="dt43" x="0" y="0" width="685" height="813" filterUnits="userSpaceOnUse" color-interpolation-filters="sRGB"><feGaussianBlur in="SourceAlpha" stdDeviation="2.5" result="d"/><feTurbulence type="fractalNoise" baseFrequency="2.2" numOctaves="1" seed="304" result="n"/><feComponentTransfer in="n" result="n2"><feFuncA type="linear" slope="2.75" intercept="-0.874"/></feComponentTransfer><feComposite in="d" in2="n2" operator="arithmetic" k1="0" k2="0.55" k3="-1" k4="-0.05" result="x"/><feComponentTransfer in="x" result="m"><feFuncA type="linear" slope="40" intercept="0"/></feComponentTransfer><feFlood flood-color="#40dd50"/><feComposite operator="in" in2="m"/></filter></defs>
<g filter="url(#dt43)">
<ellipse cx="460" cy="617" rx="14" ry="14" transform="rotate(0 460 617)"/>
<ellipse cx="438" cy="642" rx="8" ry="7" transform="rotate(0 438 642)"/>
</g>
<defs><filter id="dt44" x="0" y="0" width="685" height="813" filterUnits="userSpaceOnUse" color-interpolation-filters="sRGB"><feGaussianBlur in="SourceAlpha" stdDeviation="1.5" result="d"/><feTurbulence type="fractalNoise" baseFrequency="2.2" numOctaves="1" seed="311" result="n"/><feComponentTransfer in="n" result="n2"><feFuncA type="linear" slope="2.75" intercept="-0.874"/></feComponentTransfer><feComposite in="d" in2="n2" operator="arithmetic" k1="0" k2="0.6" k3="-1" k4="-0.05" result="x"/><feComponentTransfer in="x" result="m"><feFuncA type="linear" slope="40" intercept="0"/></feComponentTransfer><feFlood flood-color="#c8e830"/><feComposite operator="in" in2="m"/></filter></defs>
<g filter="url(#dt44)">
<ellipse cx="461" cy="614" rx="3" ry="3.5" transform="rotate(0 461 614)"/>
</g>
</g>
<rect x="408.6" y="575.3" width="85.3" height="84.9" fill="none" stroke="#555" stroke-width="0.6"/>
<line x1="407.6" y1="578.3" x2="408.6" y2="578.3" stroke="#666" stroke-width="0.4"/>
<line x1="407.6" y1="585.47" x2="408.6" y2="585.47" stroke="#666" stroke-width="0.4"/>
<line x1="407.6" y1="592.65" x2="408.6" y2="592.65" stroke="#666" stroke-width="0.4"/>
<line x1="407.6" y1="599.82" x2="408.6" y2="599.82" stroke="#666" stroke-width="0.4"/>
<line x1="407.6" y1="606.99" x2="408.6" y2="606.99" stroke="#666" stroke-width="0.4"/>
<line x1="407.6" y1="614.16" x2="408.6" y2="614.16" stroke="#666" stroke-width="0.4"/>
<line x1="407.6" y1="621.34" x2="408.6" y2="621.34" stroke="#666" stroke-width="0.4"/>
<line x1="407.6" y1="628.51" x2="408.6" y2="628.51" stroke="#666" stroke-width="0.4"/>
<line x1="407.6" y1="635.68" x2="408.6" y2="635.68" stroke="#666" stroke-width="0.4"/>
<line x1="407.6" y1="642.85" x2="408.6" y2="642.85" stroke="#666" stroke-width="0.4"/>
<line x1="407.6" y1="650.03" x2="408.6" y2="650.03" stroke="#666" stroke-width="0.4"/>
<line x1="407.6" y1="657.2" x2="408.6" y2="657.2" stroke="#666" stroke-width="0.4"/>
<line x1="411.6" y1="660.2" x2="411.6" y2="661.2" stroke="#666" stroke-width="0.4"/>
<line x1="418.81" y1="660.2" x2="418.81" y2="661.2" stroke="#666" stroke-width="0.4"/>
<line x1="426.02" y1="660.2" x2="426.02" y2="661.2" stroke="#666" stroke-width="0.4"/>
<line x1="433.23" y1="660.2" x2="433.23" y2="661.2" stroke="#666" stroke-width="0.4"/>
<line x1="440.44" y1="660.2" x2="440.44" y2="661.2" stroke="#666" stroke-width="0.4"/>
<line x1="447.65" y1="660.2" x2="447.65" y2="661.2" stroke="#666" stroke-width="0.4"/>
<line x1="454.85" y1="660.2" x2="454.85" y2="661.2" stroke="#666" stroke-width="0.4"/>
<line x1="462.06" y1="660.2" x2="462.06" y2="661.2" stroke="#666" stroke-width="0.4"/>
<line x1="469.27" y1="660.2" x2="469.27" y2="661.2" stroke="#666" stroke-width="0.4"/>
<line x1="476.48" y1="660.2" x2="476.48" y2="661.2" stroke="#666" stroke-width="0.4"/>
<line x1="483.69" y1="660.2" x2="483.69" y2="661.2" stroke="#666" stroke-width="0.4"/>
<line x1="490.9" y1="660.2" x2="490.9" y2="661.2" stroke="#666" stroke-width="0.4"/>
<circle cx="407.8" cy="632.18" r="0.8" fill="#111"/>
<rect x="435.9" y="660.8" width="2.4" height="1" fill="#111"/>
<rect x="424.4" y="595.4" width="26.2" height="33.6" fill="none" stroke="#333" stroke-width="0.5"/>
<rect x="453.6" y="633.3" width="32.9" height="19.9" fill="none" stroke="#333" stroke-width="0.5"/>
<text x="436.1" y="585.2" font-size="4.3" text-anchor="middle" font-weight="bold" fill="#111" stroke="#111" stroke-width="0.15">CD206<tspan font-size="3" dy="-1.4">−</tspan><tspan dy="1.4">MHC-II</tspan><tspan font-size="3" dy="-1.4">+</tspan></text>
<text x="435.1" y="593.5" font-size="4.3" text-anchor="middle" font-weight="bold" fill="#111" stroke="#111" stroke-width="0.15">25.5%</text>
<text x="474.8" y="600.3" font-size="4.3" text-anchor="middle" font-weight="bold" fill="#111" stroke="#111" stroke-width="0.15">CD206<tspan font-size="3" dy="-1.4">+</tspan><tspan dy="1.4">MHC-II</tspan><tspan font-size="3" dy="-1.4">−</tspan></text>
<text x="475.8" y="607.7" font-size="4.3" text-anchor="middle" font-weight="bold" fill="#111" stroke="#111" stroke-width="0.15">15.2%</text>
<text x="313.8" y="685.2" font-size="6.3" text-anchor="middle" fill="#222" stroke="#222" stroke-width="0.18">CD206</text>
<path d="M301.8,648.5 L301.8,676 L329.7,676" fill="none" stroke="#222" stroke-width="0.6"/>
<path d="M300.1,650.7 L301.8,648.1 L303.5,650.7" fill="none" stroke="#222" stroke-width="0.6"/>
<path d="M327.5,674.3 L330.1,676 L327.5,677.7" fill="none" stroke="#222" stroke-width="0.6"/>
<text x="297.3" y="661" font-size="6.3" text-anchor="middle" fill="#222" stroke="#222" stroke-width="0.18" transform="rotate(-90 297.3 661)">MHC-II</text>
<text x="415.4" y="677.8" font-size="9.3" text-anchor="middle" fill="#222">Transwell chamber</text>
<line x1="533.1" y1="589.9" x2="533.1" y2="650.4" stroke="#444" stroke-width="1"/>
<line x1="532.6" y1="649.9" x2="573.5" y2="649.9" stroke="#444" stroke-width="1"/>
<line x1="531.7" y1="649.9" x2="533.1" y2="649.9" stroke="#333" stroke-width="0.5"/>
<text x="531.2" y="651.41" font-size="4.2" text-anchor="end" fill="#222" stroke="#222" stroke-width="0.15">0</text>
<line x1="531.7" y1="630" x2="533.1" y2="630" stroke="#333" stroke-width="0.5"/>
<text x="531.2" y="631.51" font-size="4.2" text-anchor="end" fill="#222" stroke="#222" stroke-width="0.15">20</text>
<line x1="531.7" y1="610.1" x2="533.1" y2="610.1" stroke="#333" stroke-width="0.5"/>
<text x="531.2" y="611.61" font-size="4.2" text-anchor="end" fill="#222" stroke="#222" stroke-width="0.15">40</text>
<line x1="531.7" y1="590.2" x2="533.1" y2="590.2" stroke="#333" stroke-width="0.5"/>
<text x="531.2" y="591.71" font-size="4.2" text-anchor="end" fill="#222" stroke="#222" stroke-width="0.15">60</text>
<line x1="544.4" y1="649.9" x2="544.4" y2="651.3" stroke="#333" stroke-width="0.5"/>
<line x1="544.4" y1="602.14" x2="544.4" y2="612.09" stroke="#1a1aff" stroke-width="0.75"/>
<line x1="541.9" y1="602.14" x2="546.9" y2="602.14" stroke="#1a1aff" stroke-width="0.75"/>
<line x1="541.9" y1="612.09" x2="546.9" y2="612.09" stroke="#1a1aff" stroke-width="0.75"/>
<line x1="538.9" y1="607.12" x2="549.9" y2="607.12" stroke="#1a1aff" stroke-width="0.75"/>
<circle cx="544.64" cy="602.14" r="1.35" fill="#1a1aff"/>
<circle cx="543.68" cy="607.12" r="1.35" fill="#1a1aff"/>
<circle cx="545.12" cy="612.09" r="1.35" fill="#1a1aff"/>
<line x1="561.5" y1="649.9" x2="561.5" y2="651.3" stroke="#333" stroke-width="0.5"/>
<line x1="561.5" y1="624.53" x2="561.5" y2="633.48" stroke="#ff1a1a" stroke-width="0.75"/>
<line x1="559" y1="624.53" x2="564" y2="624.53" stroke="#ff1a1a" stroke-width="0.75"/>
<line x1="559" y1="633.48" x2="564" y2="633.48" stroke="#ff1a1a" stroke-width="0.75"/>
<line x1="556" y1="629" x2="567" y2="629" stroke="#ff1a1a" stroke-width="0.75"/>
<rect x="560.15" y="623.67" width="2.7" height="2.7" fill="#ff1a1a"/>
<rect x="560.15" y="627.65" width="2.7" height="2.7" fill="#ff1a1a"/>
<rect x="560.15" y="632.63" width="2.7" height="2.7" fill="#ff1a1a"/>
<line x1="544.4" y1="594.2" x2="558.9" y2="594.2" stroke="#111" stroke-width="0.75"/>
<text x="551.65" y="593.6" font-size="6.6" text-anchor="middle" fill="#111" stroke="#111" stroke-width="0.18">**</text>
<text x="542.2" y="661" font-size="6.8" text-anchor="middle" font-weight="bold" stroke="#000" stroke-width="0.18">Control</text>
<text x="564.1" y="661" font-size="6.8" text-anchor="middle" font-weight="bold" stroke="#000" stroke-width="0.18">SP</text>
<text x="519.6" y="618.2" font-size="6.3" text-anchor="middle" fill="#222" stroke="#222" stroke-width="0.18" transform="rotate(-90 519.6 618.2)">% CD206<tspan font-size="4.4" dy="-2">−</tspan><tspan dy="2">MHC-II</tspan><tspan font-size="4.4" dy="-2">+</tspan><tspan dy="2"> of Macrophages</tspan></text>
<line x1="595.6" y1="589.1" x2="595.6" y2="649.8" stroke="#444" stroke-width="1"/>
<line x1="595.1" y1="649.3" x2="636.4" y2="649.3" stroke="#444" stroke-width="1"/>
<line x1="594.2" y1="649.3" x2="595.6" y2="649.3" stroke="#333" stroke-width="0.5"/>
<text x="593.7" y="650.81" font-size="4.2" text-anchor="end" fill="#222" stroke="#222" stroke-width="0.15">0</text>
<line x1="594.2" y1="634.32" x2="595.6" y2="634.32" stroke="#333" stroke-width="0.5"/>
<text x="593.7" y="635.84" font-size="4.2" text-anchor="end" fill="#222" stroke="#222" stroke-width="0.15">5</text>
<line x1="594.2" y1="619.35" x2="595.6" y2="619.35" stroke="#333" stroke-width="0.5"/>
<text x="593.7" y="620.86" font-size="4.2" text-anchor="end" fill="#222" stroke="#222" stroke-width="0.15">10</text>
<line x1="594.2" y1="604.38" x2="595.6" y2="604.38" stroke="#333" stroke-width="0.5"/>
<text x="593.7" y="605.89" font-size="4.2" text-anchor="end" fill="#222" stroke="#222" stroke-width="0.15">15</text>
<line x1="594.2" y1="589.4" x2="595.6" y2="589.4" stroke="#333" stroke-width="0.5"/>
<text x="593.7" y="590.91" font-size="4.2" text-anchor="end" fill="#222" stroke="#222" stroke-width="0.15">20</text>
<line x1="607.5" y1="649.3" x2="607.5" y2="650.7" stroke="#333" stroke-width="0.5"/>
<line x1="607.5" y1="637.32" x2="607.5" y2="645.71" stroke="#1a1aff" stroke-width="0.75"/>
<line x1="605" y1="637.32" x2="610" y2="637.32" stroke="#1a1aff" stroke-width="0.75"/>
<line x1="605" y1="645.71" x2="610" y2="645.71" stroke="#1a1aff" stroke-width="0.75"/>
<line x1="602" y1="641.51" x2="613" y2="641.51" stroke="#1a1aff" stroke-width="0.75"/>
<circle cx="607.74" cy="637.02" r="1.35" fill="#1a1aff"/>
<circle cx="606.78" cy="641.51" r="1.35" fill="#1a1aff"/>
<circle cx="608.22" cy="645.41" r="1.35" fill="#1a1aff"/>
<line x1="624.5" y1="649.3" x2="624.5" y2="650.7" stroke="#333" stroke-width="0.5"/>
<line x1="624.5" y1="601.98" x2="624.5" y2="612.76" stroke="#ff1a1a" stroke-width="0.75"/>
<line x1="622" y1="601.98" x2="627" y2="601.98" stroke="#ff1a1a" stroke-width="0.75"/>
<line x1="622" y1="612.76" x2="627" y2="612.76" stroke="#ff1a1a" stroke-width="0.75"/>
<line x1="619" y1="607.37" x2="630" y2="607.37" stroke="#ff1a1a" stroke-width="0.75"/>
<rect x="623.15" y="601.23" width="2.7" height="2.7" fill="#ff1a1a"/>
<rect x="623.15" y="603.02" width="2.7" height="2.7" fill="#ff1a1a"/>
<rect x="623.15" y="611.41" width="2.7" height="2.7" fill="#ff1a1a"/>
<line x1="610" y1="593.4" x2="624.5" y2="593.4" stroke="#111" stroke-width="0.75"/>
<text x="617.25" y="592.8" font-size="6.6" text-anchor="middle" fill="#111" stroke="#111" stroke-width="0.18">**</text>
<text x="605.9" y="660.4" font-size="6.8" text-anchor="middle" font-weight="bold" stroke="#000" stroke-width="0.18">Control</text>
<text x="626.4" y="660.4" font-size="6.8" text-anchor="middle" font-weight="bold" stroke="#000" stroke-width="0.18">SP</text>
<text x="583.7" y="618.5" font-size="6.3" text-anchor="middle" fill="#222" stroke="#222" stroke-width="0.18" transform="rotate(-90 583.7 618.5)">% CD206<tspan font-size="4.4" dy="-2">+</tspan><tspan dy="2">MHC-II</tspan><tspan font-size="4.4" dy="-2">−</tspan><tspan dy="2"> of Macrophages</tspan></text>
<text x="0.6" y="701.5" font-size="8.4" font-weight="bold" stroke="#000" stroke-width="0.2">K</text>
<text x="352.8" y="701.7" font-size="8.4" font-weight="bold" stroke="#000" stroke-width="0.2">L</text>
<text x="75.7" y="711.3" font-size="6.7" text-anchor="middle" fill="#222" stroke="#222" stroke-width="0.18">Type I Interferon</text>
<line x1="11" y1="726.2" x2="131.1" y2="726.2" stroke="#ececec" stroke-width="0.6"/>
<line x1="11" y1="738.3" x2="131.1" y2="738.3" stroke="#ececec" stroke-width="0.6"/>
<line x1="11" y1="750.7" x2="131.1" y2="750.7" stroke="#ececec" stroke-width="0.6"/>
<line x1="11" y1="763" x2="131.1" y2="763" stroke="#ececec" stroke-width="0.6"/>
<line x1="11" y1="775.3" x2="131.1" y2="775.3" stroke="#ececec" stroke-width="0.6"/>
<line x1="11" y1="787.5" x2="131.1" y2="787.5" stroke="#ececec" stroke-width="0.6"/>
<path d="M30.9,726.2 L32.15,726.2 L33.41,726.19 L34.66,726.19 L35.91,726.18 L37.16,726.15 L38.41,726.12 L39.67,726.05 L40.92,725.94 L42.17,725.77 L43.42,725.52 L44.68,725.16 L45.93,724.66 L47.18,724 L48.43,723.17 L49.69,722.19 L50.94,721.07 L52.19,719.86 L53.44,718.64 L54.7,717.48 L55.95,716.46 L57.2,715.63 L58.45,715.02 L59.71,714.57 L60.96,714.16 L62.21,713.78 L63.46,713.46 L64.72,713.22 L65.97,713.11 L67.22,713.17 L68.47,713.45 L69.73,713.97 L70.98,714.66 L72.23,715.36 L73.48,716.04 L74.74,716.66 L75.99,717.22 L77.24,717.72 L78.49,718.2 L79.75,718.7 L81,719.27 L82.25,719.93 L83.5,720.65 L84.76,721.4 L86.01,722.17 L87.26,722.91 L88.51,723.59 L89.77,724.21 L91.02,724.73 L92.27,725.15 L93.52,725.47 L94.78,725.72 L96.03,725.89 L97.28,726.01 L98.53,726.08 L99.79,726.13 L101.04,726.16 L102.29,726.18 L103.54,726.19 L104.8,726.19 L106.05,726.2 L107.3,726.2 L108.56,726.2 L109.81,726.2 L111.06,726.2 L112.31,726.2 L113.56,726.2 L114.82,726.2 L116.07,726.2 L117.32,726.2 L118.57,726.2 L119.83,726.2 L121.08,726.2 L122.33,726.2 L123.58,726.2 L124.84,726.2 L126.09,726.2 L127.34,726.2 L128.59,726.2 L129.85,726.2 L131.1,726.2" fill="none" stroke="#2aa5b8" stroke-width="0.95" stroke-linejoin="round"/>
<path d="M30.9,738.3 L32.15,738.3 L33.41,738.3 L34.66,738.3 L35.91,738.3 L37.16,738.29 L38.41,738.28 L39.67,738.26 L40.92,738.2 L42.17,738.09 L43.42,737.89 L44.68,737.54 L45.93,736.96 L47.18,736.1 L48.43,734.89 L49.69,733.36 L50.94,731.55 L52.19,729.65 L53.44,727.87 L54.7,726.47 L55.95,725.64 L57.2,725.45 L58.45,725.69 L59.71,726.22 L60.96,726.9 L62.21,727.57 L63.46,728.13 L64.72,728.56 L65.97,728.88 L67.22,729.2 L68.47,729.63 L69.73,730.24 L70.98,730.89 L72.23,731.61 L73.48,732.37 L74.74,733.17 L75.99,733.98 L77.24,734.77 L78.49,735.5 L79.75,736.14 L81,736.69 L82.25,737.13 L83.5,737.48 L84.76,737.74 L86.01,737.93 L87.26,738.07 L88.51,738.16 L89.77,738.21 L91.02,738.25 L92.27,738.27 L93.52,738.28 L94.78,738.29 L96.03,738.3 L97.28,738.3 L98.53,738.3 L99.79,738.3 L101.04,738.3 L102.29,738.3 L103.54,738.3 L104.8,738.3 L106.05,738.3 L107.3,738.3 L108.56,738.3 L109.81,738.3 L111.06,738.3 L112.31,738.3 L113.56,738.3 L114.82,738.3 L116.07,738.3 L117.32,738.3 L118.57,738.3 L119.83,738.3 L121.08,738.3 L122.33,738.3 L123.58,738.3 L124.84,738.3 L126.09,738.3 L127.34,738.3 L128.59,738.3 L129.85,738.3 L131.1,738.3" fill="none" stroke="#a060c8" stroke-width="0.95" stroke-linejoin="round"/>
<path d="M30.9,750.7 L32.15,750.7 L33.41,750.7 L34.66,750.7 L35.91,750.7 L37.16,750.7 L38.41,750.69 L39.67,750.67 L40.92,750.62 L42.17,750.5 L43.42,750.23 L44.68,749.72 L45.93,748.81 L47.18,747.35 L48.43,745.24 L49.69,742.54 L50.94,739.49 L52.19,736.55 L53.44,734.27 L54.7,733.15 L55.95,733.37 L57.2,734.73 L58.45,736.82 L59.71,739.12 L60.96,741.16 L62.21,742.66 L63.46,743.63 L64.72,744.25 L65.97,744.8 L67.22,745.37 L68.47,745.91 L69.73,746.49 L70.98,747.12 L72.23,747.77 L73.48,748.4 L74.74,748.97 L75.99,749.45 L77.24,749.84 L78.49,750.13 L79.75,750.34 L81,750.48 L82.25,750.57 L83.5,750.63 L84.76,750.66 L86.01,750.68 L87.26,750.69 L88.51,750.7 L89.77,750.7 L91.02,750.7 L92.27,750.7 L93.52,750.7 L94.78,750.7 L96.03,750.7 L97.28,750.7 L98.53,750.7 L99.79,750.7 L101.04,750.7 L102.29,750.7 L103.54,750.7 L104.8,750.7 L106.05,750.7 L107.3,750.7 L108.56,750.7 L109.81,750.7 L111.06,750.7 L112.31,750.7 L113.56,750.7 L114.82,750.7 L116.07,750.7 L117.32,750.7 L118.57,750.7 L119.83,750.7 L121.08,750.7 L122.33,750.7 L123.58,750.7 L124.84,750.7 L126.09,750.7 L127.34,750.7 L128.59,750.7 L129.85,750.7 L131.1,750.7" fill="none" stroke="#c83a2a" stroke-width="0.95" stroke-linejoin="round"/>
<path d="M30.9,763 L32.15,763 L33.41,763 L34.66,763 L35.91,763 L37.16,763 L38.41,763 L39.67,762.99 L40.92,762.98 L42.17,762.94 L43.42,762.85 L44.68,762.64 L45.93,762.2 L47.18,761.38 L48.43,759.99 L49.69,757.9 L50.94,755.09 L52.19,751.77 L53.44,748.41 L54.7,745.64 L55.95,744.08 L57.2,744.11 L58.45,745.87 L59.71,748.7 L60.96,751.69 L62.21,754.08 L63.46,755.61 L64.72,756.49 L65.97,757.15 L67.22,757.7 L68.47,758.1 L69.73,758.47 L70.98,758.87 L72.23,759.31 L73.48,759.77 L74.74,760.25 L75.99,760.71 L77.24,761.14 L78.49,761.52 L79.75,761.86 L81,762.14 L82.25,762.37 L83.5,762.54 L84.76,762.68 L86.01,762.78 L87.26,762.85 L88.51,762.9 L89.77,762.94 L91.02,762.96 L92.27,762.98 L93.52,762.99 L94.78,762.99 L96.03,763 L97.28,763 L98.53,763 L99.79,763 L101.04,763 L102.29,763 L103.54,763 L104.8,763 L106.05,763 L107.3,763 L108.56,763 L109.81,763 L111.06,763 L112.31,763 L113.56,763 L114.82,763 L116.07,763 L117.32,763 L118.57,763 L119.83,763 L121.08,763 L122.33,763 L123.58,763 L124.84,763 L126.09,763 L127.34,763 L128.59,763 L129.85,763 L131.1,763" fill="none" stroke="#5aa5a8" stroke-width="0.95" stroke-linejoin="round"/>
<path d="M30.9,775.3 L32.15,775.3 L33.41,775.3 L34.66,775.3 L35.91,775.29 L37.16,775.28 L38.41,775.23 L39.67,775.13 L40.92,774.89 L42.17,774.4 L43.42,773.51 L44.68,772.03 L45.93,769.85 L47.18,766.99 L48.43,763.69 L49.69,760.46 L50.94,757.91 L52.19,756.61 L53.44,756.81 L54.7,758.39 L55.95,760.83 L57.2,763.49 L58.45,765.77 L59.71,767.34 L60.96,768.18 L62.21,768.46 L63.46,768.49 L64.72,768.54 L65.97,768.74 L67.22,769.01 L68.47,769.37 L69.73,769.84 L70.98,770.38 L72.23,770.98 L73.48,771.6 L74.74,772.2 L75.99,772.77 L77.24,773.28 L78.49,773.73 L79.75,774.11 L81,774.42 L82.25,774.66 L83.5,774.85 L84.76,774.99 L86.01,775.09 L87.26,775.16 L88.51,775.21 L89.77,775.25 L91.02,775.27 L92.27,775.28 L93.52,775.29 L94.78,775.29 L96.03,775.3 L97.28,775.3 L98.53,775.3 L99.79,775.3 L101.04,775.3 L102.29,775.3 L103.54,775.3 L104.8,775.3 L106.05,775.3 L107.3,775.3 L108.56,775.3 L109.81,775.3 L111.06,775.3 L112.31,775.3 L113.56,775.3 L114.82,775.3 L116.07,775.3 L117.32,775.3 L118.57,775.3 L119.83,775.3 L121.08,775.3 L122.33,775.3 L123.58,775.3 L124.84,775.3 L126.09,775.3 L127.34,775.3 L128.59,775.3 L129.85,775.3 L131.1,775.3" fill="none" stroke="#fa7060" stroke-width="0.95" stroke-linejoin="round"/>
<path d="M30.9,787.5 L32.15,787.5 L33.41,787.5 L34.66,787.5 L35.91,787.5 L37.16,787.49 L38.41,787.46 L39.67,787.38 L40.92,787.2 L42.17,786.82 L43.42,786.07 L44.68,784.76 L45.93,782.69 L47.18,779.8 L48.43,776.2 L49.69,772.34 L50.94,768.87 L52.19,766.55 L53.44,765.88 L54.7,766.82 L55.95,769 L57.2,771.84 L58.45,774.72 L59.71,777.13 L60.96,778.89 L62.21,780.08 L63.46,780.95 L64.72,781.72 L65.97,782.38 L67.22,783 L68.47,783.65 L69.73,784.3 L70.98,784.95 L72.23,785.55 L73.48,786.07 L74.74,786.49 L75.99,786.82 L77.24,787.06 L78.49,787.23 L79.75,787.34 L81,787.41 L82.25,787.45 L83.5,787.47 L84.76,787.49 L86.01,787.49 L87.26,787.5 L88.51,787.5 L89.77,787.5 L91.02,787.5 L92.27,787.5 L93.52,787.5 L94.78,787.5 L96.03,787.5 L97.28,787.5 L98.53,787.5 L99.79,787.5 L101.04,787.5 L102.29,787.5 L103.54,787.5 L104.8,787.5 L106.05,787.5 L107.3,787.5 L108.56,787.5 L109.81,787.5 L111.06,787.5 L112.31,787.5 L113.56,787.5 L114.82,787.5 L116.07,787.5 L117.32,787.5 L118.57,787.5 L119.83,787.5 L121.08,787.5 L122.33,787.5 L123.58,787.5 L124.84,787.5 L126.09,787.5 L127.34,787.5 L128.59,787.5 L129.85,787.5 L131.1,787.5" fill="none" stroke="#ff8a2a" stroke-width="0.95" stroke-linejoin="round"/>
<line x1="55.9" y1="715.5" x2="55.9" y2="794.9" stroke="#666" stroke-width="1.1" stroke-dasharray="2.8,1.6"/>
<line x1="11" y1="794.9" x2="136.1" y2="794.9" stroke="#555" stroke-width="0.9"/>
<line x1="25" y1="794.9" x2="25" y2="796.4" stroke="#555" stroke-width="0.6"/>
<text x="25" y="803.6" font-size="6.4" text-anchor="middle" fill="#222" stroke="#222" stroke-width="0.18">−1</text>
<line x1="56" y1="794.9" x2="56" y2="796.4" stroke="#555" stroke-width="0.6"/>
<text x="56" y="803.6" font-size="6.4" text-anchor="middle" fill="#222" stroke="#222" stroke-width="0.18">0</text>
<line x1="88.8" y1="794.9" x2="88.8" y2="796.4" stroke="#555" stroke-width="0.6"/>
<text x="88.8" y="803.6" font-size="6.4" text-anchor="middle" fill="#222" stroke="#222" stroke-width="0.18">1</text>
<line x1="121.4" y1="794.9" x2="121.4" y2="796.4" stroke="#555" stroke-width="0.6"/>
<text x="121.4" y="803.6" font-size="6.4" text-anchor="middle" fill="#222" stroke="#222" stroke-width="0.18">2</text>
<text x="75.7" y="812.2" font-size="6.6" text-anchor="middle" fill="#222" stroke="#222" stroke-width="0.18">Score</text>
<text x="25.7" y="721.7" font-size="6.6" text-anchor="middle" fill="#222" stroke="#222" stroke-width="0.18">High</text>
<text x="24.2" y="789.5" font-size="6.6" text-anchor="middle" fill="#222" stroke="#222" stroke-width="0.18">Low</text>
<line x1="23.6" y1="782.7" x2="23.6" y2="724" stroke="#111" stroke-width="0.7"/>
<path d="M22.4,725.7 L23.6,723 L24.8,725.7Z" fill="#111"/>
<text x="134" y="728.5" font-size="6.6" fill="#222" stroke="#222" stroke-width="0.18">c3_Cd74 ***</text>
<text x="134" y="740.6" font-size="6.6" fill="#222" stroke="#222" stroke-width="0.18">c4_H2−Aa</text>
<text x="134" y="753" font-size="6.6" fill="#222" stroke="#222" stroke-width="0.18">c2_Spp1 ***</text>
<text x="134" y="765.3" font-size="6.6" fill="#222" stroke="#222" stroke-width="0.18">c5_Pf4 ***</text>
<text x="134" y="777.6" font-size="6.6" fill="#222" stroke="#222" stroke-width="0.18">c6_Mki67 ***</text>
<text x="134" y="789.8" font-size="6.6" fill="#222" stroke="#222" stroke-width="0.18">c1_Mrc1 ***</text>
<text x="241" y="711.6" font-size="6.7" text-anchor="middle" fill="#222" stroke="#222" stroke-width="0.18">Antigen presentation</text>
<line x1="175.1" y1="733.9" x2="295.2" y2="733.9" stroke="#ececec" stroke-width="0.6"/>
<line x1="175.1" y1="744.7" x2="295.2" y2="744.7" stroke="#ececec" stroke-width="0.6"/>
<line x1="175.1" y1="755.7" x2="295.2" y2="755.7" stroke="#ececec" stroke-width="0.6"/>
<line x1="175.1" y1="766.1" x2="295.2" y2="766.1" stroke="#ececec" stroke-width="0.6"/>
<line x1="175.1" y1="776.9" x2="295.2" y2="776.9" stroke="#ececec" stroke-width="0.6"/>
<line x1="175.1" y1="787.6" x2="295.2" y2="787.6" stroke="#ececec" stroke-width="0.6"/>
<path d="M199.4,733.9 L200.6,733.9 L201.8,733.9 L202.99,733.9 L204.19,733.9 L205.39,733.9 L206.59,733.9 L207.78,733.9 L208.98,733.9 L210.18,733.9 L211.38,733.9 L212.57,733.9 L213.77,733.9 L214.97,733.9 L216.16,733.9 L217.36,733.9 L218.56,733.9 L219.76,733.9 L220.96,733.9 L222.15,733.9 L223.35,733.9 L224.55,733.9 L225.75,733.9 L226.94,733.9 L228.14,733.9 L229.34,733.9 L230.53,733.89 L231.73,733.88 L232.93,733.86 L234.13,733.82 L235.32,733.74 L236.52,733.59 L237.72,733.33 L238.92,732.92 L240.12,732.27 L241.31,731.32 L242.51,730 L243.71,728.29 L244.91,726.21 L246.1,723.83 L247.3,721.33 L248.5,718.94 L249.69,716.92 L250.89,715.51 L252.09,714.91 L253.29,715.12 L254.49,715.94 L255.68,717.31 L256.88,719.08 L258.08,721.1 L259.27,723.22 L260.47,725.28 L261.67,727.18 L262.87,728.83 L264.06,730.21 L265.26,731.3 L266.46,732.13 L267.66,732.73 L268.86,733.16 L270.05,733.44 L271.25,733.63 L272.45,733.74 L273.64,733.81 L274.84,733.85 L276.04,733.88 L277.24,733.89 L278.44,733.89 L279.63,733.9 L280.83,733.9 L282.03,733.9 L283.23,733.9 L284.42,733.9 L285.62,733.9 L286.82,733.9 L288.01,733.9 L289.21,733.9 L290.41,733.9 L291.61,733.9 L292.81,733.9 L294,733.9 L295.2,733.9" fill="none" stroke="#a060c8" stroke-width="0.95" stroke-linejoin="round"/>
<path d="M199.4,744.7 L200.6,744.7 L201.8,744.7 L202.99,744.7 L204.19,744.7 L205.39,744.7 L206.59,744.7 L207.78,744.7 L208.98,744.7 L210.18,744.69 L211.38,744.69 L212.57,744.68 L213.77,744.64 L214.97,744.57 L216.16,744.41 L217.36,744.1 L218.56,743.55 L219.76,742.71 L220.96,741.59 L222.15,740.33 L223.35,739.21 L224.55,738.47 L225.75,738.22 L226.94,738.16 L228.14,738.24 L229.34,738.4 L230.53,738.61 L231.73,738.82 L232.93,738.99 L234.13,739.09 L235.32,739.12 L236.52,739.07 L237.72,738.97 L238.92,738.8 L240.12,738.57 L241.31,738.33 L242.51,738.09 L243.71,737.81 L244.91,737.48 L246.1,737.06 L247.3,736.58 L248.5,736.07 L249.69,735.61 L250.89,735.28 L252.09,735.15 L253.29,735.28 L254.49,735.58 L255.68,736.03 L256.88,736.6 L258.08,737.29 L259.27,738.05 L260.47,738.87 L261.67,739.69 L262.87,740.49 L264.06,741.24 L265.26,741.92 L266.46,742.51 L267.66,743.02 L268.86,743.44 L270.05,743.77 L271.25,744.03 L272.45,744.23 L273.64,744.38 L274.84,744.48 L276.04,744.56 L277.24,744.61 L278.44,744.64 L279.63,744.66 L280.83,744.68 L282.03,744.69 L283.23,744.69 L284.42,744.7 L285.62,744.7 L286.82,744.7 L288.01,744.7 L289.21,744.7 L290.41,744.7 L291.61,744.7 L292.81,744.7 L294,744.7 L295.2,744.7" fill="none" stroke="#2aa5b8" stroke-width="0.95" stroke-linejoin="round"/>
<path d="M199.4,755.7 L200.6,755.7 L201.8,755.7 L202.99,755.7 L204.19,755.7 L205.39,755.7 L206.59,755.7 L207.78,755.7 L208.98,755.7 L210.18,755.69 L211.38,755.69 L212.57,755.67 L213.77,755.62 L214.97,755.49 L216.16,755.2 L217.36,754.59 L218.56,753.43 L219.76,751.55 L220.96,748.89 L222.15,745.71 L223.35,742.59 L224.55,740.32 L225.75,739.5 L226.94,739.87 L228.14,741.07 L229.34,742.8 L230.53,744.7 L231.73,746.43 L232.93,747.8 L234.13,748.73 L235.32,749.26 L236.52,749.49 L237.72,749.56 L238.92,749.58 L240.12,749.62 L241.31,749.75 L242.51,749.98 L243.71,750.31 L244.91,750.73 L246.1,751.21 L247.3,751.74 L248.5,752.29 L249.69,752.82 L250.89,753.33 L252.09,753.78 L253.29,754.19 L254.49,754.54 L255.68,754.82 L256.88,755.05 L258.08,755.23 L259.27,755.37 L260.47,755.47 L261.67,755.55 L262.87,755.6 L264.06,755.63 L265.26,755.66 L266.46,755.67 L267.66,755.68 L268.86,755.69 L270.05,755.69 L271.25,755.7 L272.45,755.7 L273.64,755.7 L274.84,755.7 L276.04,755.7 L277.24,755.7 L278.44,755.7 L279.63,755.7 L280.83,755.7 L282.03,755.7 L283.23,755.7 L284.42,755.7 L285.62,755.7 L286.82,755.7 L288.01,755.7 L289.21,755.7 L290.41,755.7 L291.61,755.7 L292.81,755.7 L294,755.7 L295.2,755.7" fill="none" stroke="#5aa5a8" stroke-width="0.95" stroke-linejoin="round"/>
<path d="M199.4,766.1 L200.6,766.1 L201.8,766.1 L202.99,766.1 L204.19,766.1 L205.39,766.1 L206.59,766.1 L207.78,766.1 L208.98,766.1 L210.18,766.1 L211.38,766.09 L212.57,766.07 L213.77,766.01 L214.97,765.85 L216.16,765.48 L217.36,764.71 L218.56,763.33 L219.76,761.19 L220.96,758.36 L222.15,755.23 L223.35,752.48 L224.55,750.86 L225.75,750.67 L226.94,751.38 L228.14,752.68 L229.34,754.2 L230.53,755.59 L231.73,756.61 L232.93,757.18 L234.13,757.4 L235.32,757.46 L236.52,757.57 L237.72,757.85 L238.92,758.15 L240.12,758.51 L241.31,758.95 L242.51,759.46 L243.71,760.04 L244.91,760.66 L246.1,761.3 L247.3,761.94 L248.5,762.56 L249.69,763.14 L250.89,763.67 L252.09,764.14 L253.29,764.54 L254.49,764.89 L255.68,765.17 L256.88,765.4 L258.08,765.58 L259.27,765.73 L260.47,765.83 L261.67,765.91 L262.87,765.97 L264.06,766.01 L265.26,766.04 L266.46,766.06 L267.66,766.08 L268.86,766.08 L270.05,766.09 L271.25,766.09 L272.45,766.1 L273.64,766.1 L274.84,766.1 L276.04,766.1 L277.24,766.1 L278.44,766.1 L279.63,766.1 L280.83,766.1 L282.03,766.1 L283.23,766.1 L284.42,766.1 L285.62,766.1 L286.82,766.1 L288.01,766.1 L289.21,766.1 L290.41,766.1 L291.61,766.1 L292.81,766.1 L294,766.1 L295.2,766.1" fill="none" stroke="#c83a2a" stroke-width="0.95" stroke-linejoin="round"/>
<path d="M199.4,776.9 L200.6,776.9 L201.8,776.9 L202.99,776.9 L204.19,776.9 L205.39,776.9 L206.59,776.9 L207.78,776.9 L208.98,776.9 L210.18,776.88 L211.38,776.84 L212.57,776.74 L213.77,776.48 L214.97,775.92 L216.16,774.87 L217.36,773.12 L218.56,770.59 L219.76,767.45 L220.96,764.22 L222.15,761.63 L223.35,760.37 L224.55,760.52 L225.75,761.61 L226.94,763.36 L228.14,765.38 L229.34,767.3 L230.53,768.88 L231.73,770.02 L232.93,770.73 L234.13,771.15 L235.32,771.42 L236.52,771.67 L237.72,771.88 L238.92,772.11 L240.12,772.38 L241.31,772.69 L242.51,773.05 L243.71,773.43 L244.91,773.84 L246.1,774.24 L247.3,774.63 L248.5,774.99 L249.69,775.33 L250.89,775.63 L252.09,775.89 L253.29,776.11 L254.49,776.29 L255.68,776.44 L256.88,776.56 L258.08,776.65 L259.27,776.72 L260.47,776.78 L261.67,776.81 L262.87,776.84 L264.06,776.86 L265.26,776.87 L266.46,776.88 L267.66,776.89 L268.86,776.89 L270.05,776.9 L271.25,776.9 L272.45,776.9 L273.64,776.9 L274.84,776.9 L276.04,776.9 L277.24,776.9 L278.44,776.9 L279.63,776.9 L280.83,776.9 L282.03,776.9 L283.23,776.9 L284.42,776.9 L285.62,776.9 L286.82,776.9 L288.01,776.9 L289.21,776.9 L290.41,776.9 L291.61,776.9 L292.81,776.9 L294,776.9 L295.2,776.9" fill="none" stroke="#fa7060" stroke-width="0.95" stroke-linejoin="round"/>
<path d="M199.4,787.6 L200.6,787.6 L201.8,787.6 L202.99,787.6 L204.19,787.6 L205.39,787.6 L206.59,787.6 L207.78,787.6 L208.98,787.59 L210.18,787.58 L211.38,787.53 L212.57,787.4 L213.77,787.12 L214.97,786.53 L216.16,785.45 L217.36,783.68 L218.56,781.13 L219.76,777.93 L220.96,774.5 L222.15,771.52 L223.35,769.7 L224.55,769.42 L225.75,770.18 L226.94,771.69 L228.14,773.66 L229.34,775.77 L230.53,777.74 L231.73,779.38 L232.93,780.63 L234.13,781.56 L235.32,782.25 L236.52,782.82 L237.72,783.26 L238.92,783.59 L240.12,783.9 L241.31,784.19 L242.51,784.5 L243.71,784.82 L244.91,785.15 L246.1,785.47 L247.3,785.78 L248.5,786.07 L249.69,786.34 L250.89,786.58 L252.09,786.79 L253.29,786.97 L254.49,787.11 L255.68,787.23 L256.88,787.33 L258.08,787.4 L259.27,787.46 L260.47,787.5 L261.67,787.53 L262.87,787.55 L264.06,787.57 L265.26,787.58 L266.46,787.59 L267.66,787.59 L268.86,787.59 L270.05,787.6 L271.25,787.6 L272.45,787.6 L273.64,787.6 L274.84,787.6 L276.04,787.6 L277.24,787.6 L278.44,787.6 L279.63,787.6 L280.83,787.6 L282.03,787.6 L283.23,787.6 L284.42,787.6 L285.62,787.6 L286.82,787.6 L288.01,787.6 L289.21,787.6 L290.41,787.6 L291.61,787.6 L292.81,787.6 L294,787.6 L295.2,787.6" fill="none" stroke="#ff8a2a" stroke-width="0.95" stroke-linejoin="round"/>
<line x1="224.9" y1="714.5" x2="224.9" y2="794.8" stroke="#666" stroke-width="1.1" stroke-dasharray="2.8,1.6"/>
<line x1="175.1" y1="794.8" x2="300.3" y2="794.8" stroke="#555" stroke-width="0.9"/>
<line x1="189.2" y1="794.8" x2="189.2" y2="796.3" stroke="#555" stroke-width="0.6"/>
<text x="189.2" y="803.5" font-size="6.4" text-anchor="middle" fill="#222" stroke="#222" stroke-width="0.18">−1</text>
<line x1="224.9" y1="794.8" x2="224.9" y2="796.3" stroke="#555" stroke-width="0.6"/>
<text x="224.9" y="803.5" font-size="6.4" text-anchor="middle" fill="#222" stroke="#222" stroke-width="0.18">0</text>
<line x1="261.5" y1="794.8" x2="261.5" y2="796.3" stroke="#555" stroke-width="0.6"/>
<text x="261.5" y="803.5" font-size="6.4" text-anchor="middle" fill="#222" stroke="#222" stroke-width="0.18">1</text>
<line x1="297.7" y1="794.8" x2="297.7" y2="796.3" stroke="#555" stroke-width="0.6"/>
<text x="297.7" y="803.5" font-size="6.4" text-anchor="middle" fill="#222" stroke="#222" stroke-width="0.18">2</text>
<text x="240.3" y="812.1" font-size="6.6" text-anchor="middle" fill="#222" stroke="#222" stroke-width="0.18">Score</text>
<text x="191" y="730.1" font-size="6.6" text-anchor="middle" fill="#222" stroke="#222" stroke-width="0.18">High</text>
<text x="189.7" y="789.9" font-size="6.6" text-anchor="middle" fill="#222" stroke="#222" stroke-width="0.18">Low</text>
<line x1="188.4" y1="783.1" x2="188.4" y2="732.4" stroke="#111" stroke-width="0.7"/>
<path d="M187.2,734.1 L188.4,731.4 L189.6,734.1Z" fill="#111"/>
<text x="301.6" y="736.2" font-size="6.6" fill="#222" stroke="#222" stroke-width="0.18">c4_H2−Aa</text>
<text x="301.6" y="747" font-size="6.6" fill="#222" stroke="#222" stroke-width="0.18">c3_Cd74 ***</text>
<text x="301.6" y="758" font-size="6.6" fill="#222" stroke="#222" stroke-width="0.18">c5_Pf4 ***</text>
<text x="301.6" y="768.4" font-size="6.6" fill="#222" stroke="#222" stroke-width="0.18">c2_Spp1 ***</text>
<text x="301.6" y="779.2" font-size="6.6" fill="#222" stroke="#222" stroke-width="0.18">c6_Mki67 ***</text>
<text x="301.6" y="789.9" font-size="6.6" fill="#222" stroke="#222" stroke-width="0.18">c1_Mrc1 ***</text>
<text x="423.5" y="711.8" font-size="6.7" text-anchor="middle" fill="#222" stroke="#222" stroke-width="0.18">M1 signature</text>
<line x1="359.2" y1="726.8" x2="479.2" y2="726.8" stroke="#ececec" stroke-width="0.6"/>
<line x1="359.2" y1="738.8" x2="479.2" y2="738.8" stroke="#ececec" stroke-width="0.6"/>
<line x1="359.2" y1="751" x2="479.2" y2="751" stroke="#ececec" stroke-width="0.6"/>
<line x1="359.2" y1="763" x2="479.2" y2="763" stroke="#ececec" stroke-width="0.6"/>
<line x1="359.2" y1="775.3" x2="479.2" y2="775.3" stroke="#ececec" stroke-width="0.6"/>
<line x1="359.2" y1="787.3" x2="479.2" y2="787.3" stroke="#ececec" stroke-width="0.6"/>
<path d="M386.8,726.8 L387.95,726.8 L389.11,726.8 L390.26,726.79 L391.42,726.79 L392.57,726.78 L393.73,726.77 L394.88,726.75 L396.04,726.73 L397.19,726.68 L398.35,726.62 L399.5,726.53 L400.66,726.4 L401.81,726.23 L402.97,725.99 L404.12,725.68 L405.28,725.29 L406.44,724.8 L407.59,724.2 L408.75,723.49 L409.9,722.68 L411.06,721.77 L412.21,720.79 L413.37,719.76 L414.52,718.74 L415.68,717.75 L416.83,716.85 L417.99,716.09 L419.14,715.5 L420.3,715.13 L421.45,715 L422.61,715.1 L423.76,715.41 L424.92,715.91 L426.07,716.59 L427.23,717.39 L428.38,718.3 L429.54,719.25 L430.69,720.22 L431.85,721.17 L433,722.07 L434.15,722.9 L435.31,723.65 L436.46,724.3 L437.62,724.85 L438.77,725.3 L439.93,725.68 L441.08,725.97 L442.24,726.2 L443.39,726.37 L444.55,726.5 L445.7,726.6 L446.86,726.66 L448.01,726.71 L449.17,726.74 L450.32,726.76 L451.48,726.78 L452.63,726.79 L453.79,726.79 L454.94,726.79 L456.1,726.8 L457.25,726.8 L458.41,726.8 L459.56,726.8 L460.72,726.8 L461.88,726.8 L463.03,726.8 L464.19,726.8 L465.34,726.8 L466.5,726.8 L467.65,726.8 L468.81,726.8 L469.96,726.8 L471.12,726.8 L472.27,726.8 L473.42,726.8 L474.58,726.8 L475.74,726.8 L476.89,726.8 L478.04,726.8 L479.2,726.8" fill="none" stroke="#2aa5b8" stroke-width="0.95" stroke-linejoin="round"/>
<path d="M386.8,738.8 L387.95,738.79 L389.11,738.78 L390.26,738.76 L391.42,738.73 L392.57,738.67 L393.73,738.57 L394.88,738.4 L396.04,738.13 L397.19,737.72 L398.35,737.12 L399.5,736.29 L400.66,735.18 L401.81,733.77 L402.97,732.07 L404.12,730.11 L405.28,727.99 L406.44,725.85 L407.59,723.84 L408.75,722.15 L409.9,720.94 L411.06,720.34 L412.21,720.49 L413.37,721.69 L414.52,723.74 L415.68,726.26 L416.83,728.84 L417.99,731.14 L419.14,732.95 L420.3,734.2 L421.45,734.98 L422.61,735.44 L423.76,735.77 L424.92,736.05 L426.07,736.26 L427.23,736.44 L428.38,736.63 L429.54,736.82 L430.69,737.03 L431.85,737.25 L433,737.47 L434.15,737.68 L435.31,737.88 L436.46,738.06 L437.62,738.21 L438.77,738.35 L439.93,738.46 L441.08,738.54 L442.24,738.61 L443.39,738.67 L444.55,738.71 L445.7,738.74 L446.86,738.76 L448.01,738.77 L449.17,738.78 L450.32,738.79 L451.48,738.79 L452.63,738.8 L453.79,738.8 L454.94,738.8 L456.1,738.8 L457.25,738.8 L458.41,738.8 L459.56,738.8 L460.72,738.8 L461.88,738.8 L463.03,738.8 L464.19,738.8 L465.34,738.8 L466.5,738.8 L467.65,738.8 L468.81,738.8 L469.96,738.8 L471.12,738.8 L472.27,738.8 L473.42,738.8 L474.58,738.8 L475.74,738.8 L476.89,738.8 L478.04,738.8 L479.2,738.8" fill="none" stroke="#a060c8" stroke-width="0.95" stroke-linejoin="round"/>
<path d="M386.8,751 L387.95,751 L389.11,751 L390.26,750.99 L391.42,750.97 L392.57,750.93 L393.73,750.83 L394.88,750.65 L396.04,750.3 L397.19,749.69 L398.35,748.72 L399.5,747.29 L400.66,745.33 L401.81,742.9 L402.97,740.16 L404.12,737.41 L405.28,735.06 L406.44,733.5 L407.59,733 L408.75,733.85 L409.9,735.97 L411.06,738.87 L412.21,742 L413.37,744.86 L414.52,747.14 L415.68,748.77 L416.83,749.81 L417.99,750.42 L419.14,750.74 L420.3,750.89 L421.45,750.96 L422.61,750.99 L423.76,751 L424.92,751 L426.07,751 L427.23,751 L428.38,751 L429.54,751 L430.69,751 L431.85,751 L433,751 L434.15,751 L435.31,751 L436.46,751 L437.62,751 L438.77,751 L439.93,751 L441.08,751 L442.24,751 L443.39,751 L444.55,751 L445.7,751 L446.86,751 L448.01,751 L449.17,751 L450.32,751 L451.48,751 L452.63,751 L453.79,751 L454.94,751 L456.1,751 L457.25,751 L458.41,751 L459.56,751 L460.72,751 L461.88,751 L463.03,751 L464.19,751 L465.34,751 L466.5,751 L467.65,751 L468.81,751 L469.96,751 L471.12,751 L472.27,751 L473.42,751 L474.58,751 L475.74,751 L476.89,751 L478.04,751 L479.2,751" fill="none" stroke="#c83a2a" stroke-width="0.95" stroke-linejoin="round"/>
<path d="M386.8,763 L387.95,762.99 L389.11,762.96 L390.26,762.9 L391.42,762.77 L392.57,762.48 L393.73,761.94 L394.88,761.02 L396.04,759.59 L397.19,757.59 L398.35,755.1 L399.5,752.36 L400.66,749.77 L401.81,747.71 L402.97,746.43 L404.12,745.94 L405.28,746.07 L406.44,746.62 L407.59,747.59 L408.75,749.09 L409.9,750.97 L411.06,752.79 L412.21,754.4 L413.37,755.73 L414.52,756.78 L415.68,757.6 L416.83,758.29 L417.99,758.91 L419.14,759.48 L420.3,760.03 L421.45,760.58 L422.61,761.11 L423.76,761.59 L424.92,762 L426.07,762.32 L427.23,762.57 L428.38,762.74 L429.54,762.85 L430.69,762.92 L431.85,762.96 L433,762.98 L434.15,762.99 L435.31,763 L436.46,763 L437.62,763 L438.77,763 L439.93,763 L441.08,763 L442.24,763 L443.39,763 L444.55,763 L445.7,763 L446.86,763 L448.01,763 L449.17,763 L450.32,763 L451.48,763 L452.63,763 L453.79,763 L454.94,763 L456.1,763 L457.25,763 L458.41,763 L459.56,763 L460.72,763 L461.88,763 L463.03,763 L464.19,763 L465.34,763 L466.5,763 L467.65,763 L468.81,763 L469.96,763 L471.12,763 L472.27,763 L473.42,763 L474.58,763 L475.74,763 L476.89,763 L478.04,763 L479.2,763" fill="none" stroke="#5aa5a8" stroke-width="0.95" stroke-linejoin="round"/>
<path d="M386.8,775.3 L387.95,775.29 L389.11,775.27 L390.26,775.22 L391.42,775.08 L392.57,774.76 L393.73,774.12 L394.88,772.96 L396.04,771.11 L397.19,768.53 L398.35,765.42 L399.5,762.3 L400.66,759.85 L401.81,758.69 L402.97,758.88 L404.12,759.92 L405.28,761.49 L406.44,763.24 L407.59,764.81 L408.75,765.98 L409.9,766.71 L411.06,767.15 L412.21,767.52 L413.37,768.03 L414.52,768.6 L415.68,769.22 L416.83,769.91 L417.99,770.66 L419.14,771.43 L420.3,772.19 L421.45,772.89 L422.61,773.49 L423.76,774 L424.92,774.4 L426.07,774.69 L427.23,774.91 L428.38,775.06 L429.54,775.15 L430.69,775.22 L431.85,775.25 L433,775.27 L434.15,775.29 L435.31,775.29 L436.46,775.3 L437.62,775.3 L438.77,775.3 L439.93,775.3 L441.08,775.3 L442.24,775.3 L443.39,775.3 L444.55,775.3 L445.7,775.3 L446.86,775.3 L448.01,775.3 L449.17,775.3 L450.32,775.3 L451.48,775.3 L452.63,775.3 L453.79,775.3 L454.94,775.3 L456.1,775.3 L457.25,775.3 L458.41,775.3 L459.56,775.3 L460.72,775.3 L461.88,775.3 L463.03,775.3 L464.19,775.3 L465.34,775.3 L466.5,775.3 L467.65,775.3 L468.81,775.3 L469.96,775.3 L471.12,775.3 L472.27,775.3 L473.42,775.3 L474.58,775.3 L475.74,775.3 L476.89,775.3 L478.04,775.3 L479.2,775.3" fill="none" stroke="#fa7060" stroke-width="0.95" stroke-linejoin="round"/>
<path d="M386.8,787.3 L387.95,787.3 L389.11,787.28 L390.26,787.23 L391.42,787.1 L392.57,786.75 L393.73,785.96 L394.88,784.42 L396.04,781.83 L397.19,778.12 L398.35,773.67 L399.5,769.39 L400.66,766.48 L401.81,765.85 L402.97,766.98 L404.12,769.34 L405.28,772.41 L406.44,775.55 L407.59,778.23 L408.75,780.16 L409.9,781.37 L411.06,782.15 L412.21,782.84 L413.37,783.41 L414.52,783.88 L415.68,784.3 L416.83,784.73 L417.99,785.16 L419.14,785.57 L420.3,785.95 L421.45,786.29 L422.61,786.57 L423.76,786.79 L424.92,786.95 L426.07,787.08 L427.23,787.16 L428.38,787.22 L429.54,787.25 L430.69,787.27 L431.85,787.29 L433,787.29 L434.15,787.3 L435.31,787.3 L436.46,787.3 L437.62,787.3 L438.77,787.3 L439.93,787.3 L441.08,787.3 L442.24,787.3 L443.39,787.3 L444.55,787.3 L445.7,787.3 L446.86,787.3 L448.01,787.3 L449.17,787.3 L450.32,787.3 L451.48,787.3 L452.63,787.3 L453.79,787.3 L454.94,787.3 L456.1,787.3 L457.25,787.3 L458.41,787.3 L459.56,787.3 L460.72,787.3 L461.88,787.3 L463.03,787.3 L464.19,787.3 L465.34,787.3 L466.5,787.3 L467.65,787.3 L468.81,787.3 L469.96,787.3 L471.12,787.3 L472.27,787.3 L473.42,787.3 L474.58,787.3 L475.74,787.3 L476.89,787.3 L478.04,787.3 L479.2,787.3" fill="none" stroke="#ff8a2a" stroke-width="0.95" stroke-linejoin="round"/>
<line x1="412.8" y1="715.8" x2="412.8" y2="795" stroke="#666" stroke-width="1.1" stroke-dasharray="2.8,1.6"/>
<line x1="359.2" y1="795" x2="484.4" y2="795" stroke="#555" stroke-width="0.9"/>
<line x1="373.2" y1="795" x2="373.2" y2="796.5" stroke="#555" stroke-width="0.6"/>
<text x="373.2" y="803.7" font-size="6.4" text-anchor="middle" fill="#222" stroke="#222" stroke-width="0.18">−1</text>
<line x1="412.8" y1="795" x2="412.8" y2="796.5" stroke="#555" stroke-width="0.6"/>
<text x="412.8" y="803.7" font-size="6.4" text-anchor="middle" fill="#222" stroke="#222" stroke-width="0.18">0</text>
<line x1="452.4" y1="795" x2="452.4" y2="796.5" stroke="#555" stroke-width="0.6"/>
<text x="452.4" y="803.7" font-size="6.4" text-anchor="middle" fill="#222" stroke="#222" stroke-width="0.18">1</text>
<text x="423.8" y="812.3" font-size="6.6" text-anchor="middle" fill="#222" stroke="#222" stroke-width="0.18">Score</text>
<text x="374" y="722.4" font-size="6.6" text-anchor="middle" fill="#222" stroke="#222" stroke-width="0.18">High</text>
<text x="374" y="789.6" font-size="6.6" text-anchor="middle" fill="#222" stroke="#222" stroke-width="0.18">Low</text>
<line x1="372.7" y1="782.8" x2="372.7" y2="724.7" stroke="#111" stroke-width="0.7"/>
<path d="M371.5,726.4 L372.7,723.7 L373.9,726.4Z" fill="#111"/>
<text x="484.9" y="729.1" font-size="6.6" fill="#222" stroke="#222" stroke-width="0.18">c3_Cd74 ***</text>
<text x="484.9" y="741.1" font-size="6.6" fill="#222" stroke="#222" stroke-width="0.18">c4_H2−Aa</text>
<text x="484.9" y="753.3" font-size="6.6" fill="#222" stroke="#222" stroke-width="0.18">c2_Spp1 ***</text>
<text x="484.9" y="765.3" font-size="6.6" fill="#222" stroke="#222" stroke-width="0.18">c5_Pf4 ***</text>
<text x="484.9" y="777.6" font-size="6.6" fill="#222" stroke="#222" stroke-width="0.18">c6_Mki67 ***</text>
<text x="484.9" y="789.6" font-size="6.6" fill="#222" stroke="#222" stroke-width="0.18">c1_Mrc1 ***</text>
<text x="586.1" y="711.8" font-size="6.7" text-anchor="middle" fill="#222" stroke="#222" stroke-width="0.18">M2 signature</text>
<line x1="522.3" y1="732.4" x2="644.1" y2="732.4" stroke="#ececec" stroke-width="0.6"/>
<line x1="522.3" y1="743.4" x2="644.1" y2="743.4" stroke="#ececec" stroke-width="0.6"/>
<line x1="522.3" y1="754.6" x2="644.1" y2="754.6" stroke="#ececec" stroke-width="0.6"/>
<line x1="522.3" y1="765.8" x2="644.1" y2="765.8" stroke="#ececec" stroke-width="0.6"/>
<line x1="522.3" y1="777.1" x2="644.1" y2="777.1" stroke="#ececec" stroke-width="0.6"/>
<line x1="522.3" y1="788.1" x2="644.1" y2="788.1" stroke="#ececec" stroke-width="0.6"/>
<path d="M554.7,732.4 L555.82,732.4 L556.94,732.4 L558.05,732.4 L559.17,732.4 L560.29,732.4 L561.41,732.4 L562.52,732.4 L563.64,732.4 L564.76,732.4 L565.88,732.4 L566.99,732.4 L568.11,732.4 L569.23,732.4 L570.35,732.4 L571.46,732.4 L572.58,732.4 L573.7,732.4 L574.82,732.4 L575.93,732.4 L577.05,732.4 L578.17,732.4 L579.29,732.39 L580.4,732.38 L581.52,732.37 L582.64,732.33 L583.75,732.25 L584.87,732.11 L585.99,731.87 L587.11,731.48 L588.23,730.87 L589.34,729.98 L590.46,728.76 L591.58,727.18 L592.7,725.29 L593.81,723.17 L594.93,720.98 L596.05,718.94 L597.17,717.27 L598.28,716.15 L599.4,715.69 L600.52,715.82 L601.63,716.46 L602.75,717.5 L603.87,718.8 L604.99,720.23 L606.11,721.67 L607.22,723.02 L608.34,724.26 L609.46,725.36 L610.58,726.26 L611.69,726.98 L612.81,727.55 L613.93,728.02 L615.05,728.43 L616.16,728.8 L617.28,729.14 L618.4,729.48 L619.51,729.8 L620.63,730.11 L621.75,730.4 L622.87,730.68 L623.99,730.94 L625.1,731.17 L626.22,731.38 L627.34,731.56 L628.46,731.72 L629.57,731.86 L630.69,731.97 L631.81,732.07 L632.93,732.14 L634.04,732.2 L635.16,732.25 L636.28,732.29 L637.39,732.32 L638.51,732.34 L639.63,732.36 L640.75,732.37 L641.87,732.38 L642.98,732.39 L644.1,732.39" fill="none" stroke="#5aa5a8" stroke-width="0.95" stroke-linejoin="round"/>
<path d="M554.7,743.4 L555.82,743.4 L556.94,743.4 L558.05,743.4 L559.17,743.4 L560.29,743.4 L561.41,743.4 L562.52,743.4 L563.64,743.4 L564.76,743.4 L565.88,743.4 L566.99,743.4 L568.11,743.4 L569.23,743.4 L570.35,743.4 L571.46,743.4 L572.58,743.4 L573.7,743.4 L574.82,743.4 L575.93,743.39 L577.05,743.38 L578.17,743.35 L579.29,743.31 L580.4,743.23 L581.52,743.1 L582.64,742.87 L583.75,742.52 L584.87,741.99 L585.99,741.24 L587.11,740.22 L588.23,738.92 L589.34,737.32 L590.46,735.49 L591.58,733.52 L592.7,731.55 L593.81,729.75 L594.93,728.28 L596.05,727.27 L597.17,726.83 L598.28,726.95 L599.4,727.59 L600.52,728.63 L601.63,729.93 L602.75,731.35 L603.87,732.78 L604.99,734.14 L606.11,735.4 L607.22,736.56 L608.34,737.53 L609.46,738.32 L610.58,738.94 L611.69,739.46 L612.81,739.9 L613.93,740.29 L615.05,740.64 L616.16,740.98 L617.28,741.3 L618.4,741.6 L619.51,741.88 L620.63,742.13 L621.75,742.36 L622.87,742.55 L623.99,742.73 L625.1,742.87 L626.22,742.99 L627.34,743.09 L628.46,743.17 L629.57,743.23 L630.69,743.27 L631.81,743.31 L632.93,743.34 L634.04,743.36 L635.16,743.37 L636.28,743.38 L637.39,743.39 L638.51,743.39 L639.63,743.39 L640.75,743.4 L641.87,743.4 L642.98,743.4 L644.1,743.4" fill="none" stroke="#ff8a2a" stroke-width="0.95" stroke-linejoin="round"/>
<path d="M554.7,754.6 L555.82,754.6 L556.94,754.6 L558.05,754.6 L559.17,754.6 L560.29,754.6 L561.41,754.6 L562.52,754.6 L563.64,754.6 L564.76,754.6 L565.88,754.6 L566.99,754.6 L568.11,754.6 L569.23,754.6 L570.35,754.6 L571.46,754.6 L572.58,754.6 L573.7,754.6 L574.82,754.6 L575.93,754.59 L577.05,754.58 L578.17,754.55 L579.29,754.49 L580.4,754.39 L581.52,754.21 L582.64,753.9 L583.75,753.41 L584.87,752.67 L585.99,751.62 L587.11,750.19 L588.23,748.38 L589.34,746.22 L590.46,743.8 L591.58,741.32 L592.7,738.99 L593.81,737.06 L594.93,735.74 L596.05,735.19 L597.17,735.48 L598.28,736.57 L599.4,738.27 L600.52,740.32 L601.63,742.48 L602.75,744.54 L603.87,746.35 L604.99,747.88 L606.11,749.14 L607.22,750.1 L608.34,750.82 L609.46,751.36 L610.58,751.78 L611.69,752.13 L612.81,752.45 L613.93,752.73 L615.05,753 L616.16,753.26 L617.28,753.49 L618.4,753.7 L619.51,753.88 L620.63,754.04 L621.75,754.17 L622.87,754.28 L623.99,754.36 L625.1,754.43 L626.22,754.48 L627.34,754.51 L628.46,754.54 L629.57,754.56 L630.69,754.57 L631.81,754.58 L632.93,754.59 L634.04,754.59 L635.16,754.6 L636.28,754.6 L637.39,754.6 L638.51,754.6 L639.63,754.6 L640.75,754.6 L641.87,754.6 L642.98,754.6 L644.1,754.6" fill="none" stroke="#c83a2a" stroke-width="0.95" stroke-linejoin="round"/>
<path d="M554.7,765.8 L555.82,765.8 L556.94,765.8 L558.05,765.8 L559.17,765.8 L560.29,765.8 L561.41,765.8 L562.52,765.8 L563.64,765.8 L564.76,765.8 L565.88,765.8 L566.99,765.8 L568.11,765.8 L569.23,765.8 L570.35,765.8 L571.46,765.8 L572.58,765.8 L573.7,765.79 L574.82,765.79 L575.93,765.76 L577.05,765.71 L578.17,765.6 L579.29,765.39 L580.4,765.02 L581.52,764.41 L582.64,763.5 L583.75,762.25 L584.87,760.69 L585.99,758.88 L587.11,756.97 L588.23,755.11 L589.34,753.44 L590.46,752.13 L591.58,751.18 L592.7,750.47 L593.81,749.94 L594.93,749.6 L596.05,749.53 L597.17,749.84 L598.28,750.6 L599.4,751.78 L600.52,753.26 L601.63,754.89 L602.75,756.5 L603.87,758 L604.99,759.31 L606.11,760.43 L607.22,761.33 L608.34,762.02 L609.46,762.55 L610.58,762.97 L611.69,763.32 L612.81,763.64 L613.93,763.93 L615.05,764.2 L616.16,764.45 L617.28,764.69 L618.4,764.9 L619.51,765.08 L620.63,765.24 L621.75,765.37 L622.87,765.48 L623.99,765.56 L625.1,765.63 L626.22,765.68 L627.34,765.71 L628.46,765.74 L629.57,765.76 L630.69,765.77 L631.81,765.78 L632.93,765.79 L634.04,765.79 L635.16,765.8 L636.28,765.8 L637.39,765.8 L638.51,765.8 L639.63,765.8 L640.75,765.8 L641.87,765.8 L642.98,765.8 L644.1,765.8" fill="none" stroke="#2aa5b8" stroke-width="0.95" stroke-linejoin="round"/>
<path d="M554.7,777.1 L555.82,777.1 L556.94,777.1 L558.05,777.1 L559.17,777.1 L560.29,777.1 L561.41,777.1 L562.52,777.1 L563.64,777.1 L564.76,777.1 L565.88,777.1 L566.99,777.1 L568.11,777.1 L569.23,777.1 L570.35,777.1 L571.46,777.09 L572.58,777.08 L573.7,777.06 L574.82,777.03 L575.93,776.96 L577.05,776.85 L578.17,776.65 L579.29,776.34 L580.4,775.87 L581.52,775.17 L582.64,774.22 L583.75,772.96 L584.87,771.39 L585.99,769.55 L587.11,767.51 L588.23,765.41 L589.34,763.42 L590.46,761.72 L591.58,760.48 L592.7,759.82 L593.81,759.78 L594.93,760.34 L596.05,761.39 L597.17,762.77 L598.28,764.3 L599.4,765.84 L600.52,767.28 L601.63,768.57 L602.75,769.69 L603.87,770.69 L604.99,771.54 L606.11,772.21 L607.22,772.75 L608.34,773.19 L609.46,773.58 L610.58,773.93 L611.69,774.27 L612.81,774.6 L613.93,774.91 L615.05,775.21 L616.16,775.49 L617.28,775.75 L618.4,775.99 L619.51,776.19 L620.63,776.37 L621.75,776.53 L622.87,776.66 L623.99,776.76 L625.1,776.84 L626.22,776.91 L627.34,776.96 L628.46,777 L629.57,777.03 L630.69,777.05 L631.81,777.07 L632.93,777.08 L634.04,777.08 L635.16,777.09 L636.28,777.09 L637.39,777.1 L638.51,777.1 L639.63,777.1 L640.75,777.1 L641.87,777.1 L642.98,777.1 L644.1,777.1" fill="none" stroke="#a060c8" stroke-width="0.95" stroke-linejoin="round"/>
<path d="M554.7,788.1 L555.82,788.1 L556.94,788.1 L558.05,788.1 L559.17,788.1 L560.29,788.1 L561.41,788.1 L562.52,788.1 L563.64,788.1 L564.76,788.1 L565.88,788.1 L566.99,788.1 L568.11,788.1 L569.23,788.1 L570.35,788.1 L571.46,788.1 L572.58,788.1 L573.7,788.1 L574.82,788.1 L575.93,788.08 L577.05,788.05 L578.17,787.97 L579.29,787.77 L580.4,787.34 L581.52,786.51 L582.64,785.09 L583.75,782.91 L584.87,779.96 L585.99,776.5 L587.11,773.04 L588.23,770.27 L589.34,768.75 L590.46,768.49 L591.58,768.98 L592.7,769.97 L593.81,771.18 L594.93,772.42 L596.05,773.6 L597.17,774.81 L598.28,776.11 L599.4,777.35 L600.52,778.48 L601.63,779.53 L602.75,780.52 L603.87,781.42 L604.99,782.22 L606.11,782.93 L607.22,783.54 L608.34,784.08 L609.46,784.57 L610.58,784.97 L611.69,785.28 L612.81,785.54 L613.93,785.75 L615.05,785.94 L616.16,786.13 L617.28,786.31 L618.4,786.48 L619.51,786.66 L620.63,786.83 L621.75,786.99 L622.87,787.14 L623.99,787.29 L625.1,787.42 L626.22,787.53 L627.34,787.63 L628.46,787.72 L629.57,787.8 L630.69,787.86 L631.81,787.91 L632.93,787.96 L634.04,787.99 L635.16,788.02 L636.28,788.04 L637.39,788.06 L638.51,788.07 L639.63,788.08 L640.75,788.08 L641.87,788.09 L642.98,788.09 L644.1,788.09" fill="none" stroke="#fa7060" stroke-width="0.95" stroke-linejoin="round"/>
<line x1="584.1" y1="714.5" x2="584.1" y2="795" stroke="#666" stroke-width="1.1" stroke-dasharray="2.8,1.6"/>
<line x1="522.3" y1="795" x2="646.7" y2="795" stroke="#555" stroke-width="0.9"/>
<line x1="551.4" y1="795" x2="551.4" y2="796.5" stroke="#555" stroke-width="0.6"/>
<text x="551.4" y="803.7" font-size="6.4" text-anchor="middle" fill="#222" stroke="#222" stroke-width="0.18">−0.5</text>
<line x1="584.1" y1="795" x2="584.1" y2="796.5" stroke="#555" stroke-width="0.6"/>
<text x="584.1" y="803.7" font-size="6.4" text-anchor="middle" fill="#222" stroke="#222" stroke-width="0.18">0.0</text>
<line x1="621.1" y1="795" x2="621.1" y2="796.5" stroke="#555" stroke-width="0.6"/>
<text x="621.1" y="803.7" font-size="6.4" text-anchor="middle" fill="#222" stroke="#222" stroke-width="0.18">0.5</text>
<text x="586.6" y="812.3" font-size="6.6" text-anchor="middle" fill="#222" stroke="#222" stroke-width="0.18">Score</text>
<text x="544" y="727.8" font-size="6.6" text-anchor="middle" fill="#222" stroke="#222" stroke-width="0.18">High</text>
<text x="542.7" y="790.4" font-size="6.6" text-anchor="middle" fill="#222" stroke="#222" stroke-width="0.18">Low</text>
<line x1="541.4" y1="783.6" x2="541.4" y2="730.1" stroke="#111" stroke-width="0.7"/>
<path d="M540.2,731.8 L541.4,729.1 L542.6,731.8Z" fill="#111"/>
<text x="646.7" y="734.7" font-size="6.6" fill="#222" stroke="#222" stroke-width="0.18">c5_Pf4 **</text>
<text x="646.7" y="745.7" font-size="6.6" fill="#222" stroke="#222" stroke-width="0.18">c1_Mrc1 ***</text>
<text x="646.7" y="756.9" font-size="6.6" fill="#222" stroke="#222" stroke-width="0.18">c2_Spp1 ***</text>
<text x="646.7" y="768.1" font-size="6.6" fill="#222" stroke="#222" stroke-width="0.18">c3_Cd74 ***</text>
<text x="646.7" y="779.4" font-size="6.6" fill="#222" stroke="#222" stroke-width="0.18">c4_H2−Aa</text>
<text x="646.7" y="790.4" font-size="6.6" fill="#222" stroke="#222" stroke-width="0.18">c6_Mki67 ***</text></svg></body></html>
